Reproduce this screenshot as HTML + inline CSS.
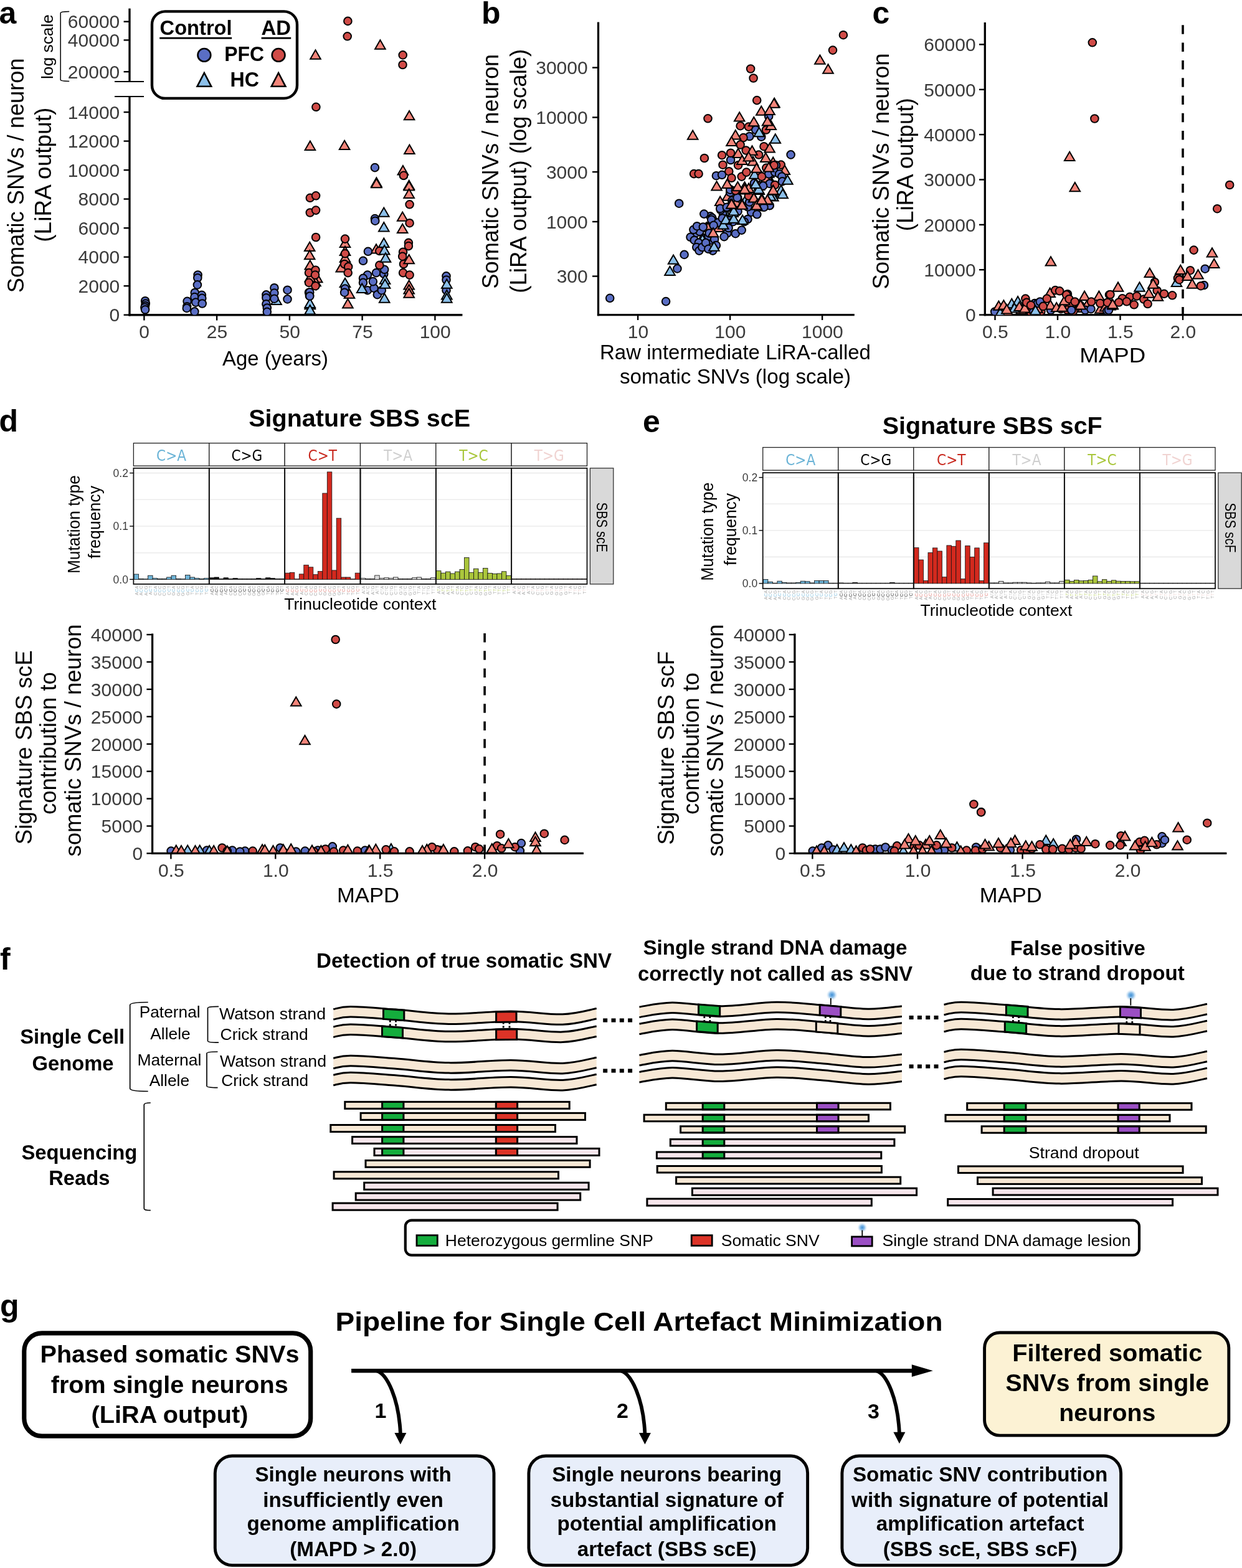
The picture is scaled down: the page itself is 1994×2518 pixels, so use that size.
<!DOCTYPE html>
<html><head><meta charset="utf-8"><title>Figure</title><style>html,body{margin:0;padding:0;background:#fff;}svg{display:block;}</style></head><body>
<svg width="1994" height="2518" viewBox="0 0 1994 2518" font-family="'Liberation Sans', Arial, Helvetica, sans-serif">
<defs><clipPath id="clipa"><rect x="209" y="0" width="540" height="505.7"/></clipPath><clipPath id="clipb"><rect x="961" y="0" width="420" height="505.6"/></clipPath><clipPath id="clipc"><rect x="1582" y="0" width="420" height="505.6"/></clipPath><clipPath id="clipd"><rect x="244" y="1000" width="700" height="370.4"/></clipPath><clipPath id="clipe"><rect x="1277" y="1000" width="700" height="370.4"/></clipPath><radialGradient id="glow"><stop offset="0" stop-color="#3d8fd6"/><stop offset="0.45" stop-color="#7db6e6" stop-opacity="0.9"/><stop offset="1" stop-color="#cfe3f5" stop-opacity="0"/></radialGradient></defs>
<rect x="0" y="0" width="1994" height="2518" fill="#fff"/>
<text x="-1.5" y="37.7" font-size="50" fill="#000" font-weight="bold">a</text>
<line x1="208.0" y1="13.6" x2="208.0" y2="131.0" stroke="#000" stroke-width="3.3"/>
<line x1="208.0" y1="155.0" x2="208.0" y2="507.4" stroke="#000" stroke-width="3.3"/>
<line x1="206.3" y1="505.7" x2="742.4" y2="505.7" stroke="#000" stroke-width="3.4"/>
<line x1="184.0" y1="131.0" x2="231.0" y2="131.0" stroke="#000" stroke-width="2.2"/>
<line x1="184.0" y1="155.0" x2="231.0" y2="155.0" stroke="#000" stroke-width="2.2"/>
<line x1="198.6" y1="34.7" x2="208.0" y2="34.7" stroke="#000" stroke-width="2.4"/>
<text x="192.3" y="45.4" font-size="30" fill="#3b3b3b" text-anchor="end">60000</text>
<line x1="198.6" y1="64.4" x2="208.0" y2="64.4" stroke="#000" stroke-width="2.4"/>
<text x="192.3" y="75.1" font-size="30" fill="#3b3b3b" text-anchor="end">40000</text>
<line x1="198.6" y1="115.2" x2="208.0" y2="115.2" stroke="#000" stroke-width="2.4"/>
<text x="192.3" y="125.9" font-size="30" fill="#3b3b3b" text-anchor="end">20000</text>
<line x1="198.6" y1="505.7" x2="208.0" y2="505.7" stroke="#000" stroke-width="2.4"/>
<text x="192.3" y="516.4" font-size="30" fill="#3b3b3b" text-anchor="end">0</text>
<line x1="198.6" y1="459.2" x2="208.0" y2="459.2" stroke="#000" stroke-width="2.4"/>
<text x="192.3" y="469.9" font-size="30" fill="#3b3b3b" text-anchor="end">2000</text>
<line x1="198.6" y1="412.7" x2="208.0" y2="412.7" stroke="#000" stroke-width="2.4"/>
<text x="192.3" y="423.4" font-size="30" fill="#3b3b3b" text-anchor="end">4000</text>
<line x1="198.6" y1="366.2" x2="208.0" y2="366.2" stroke="#000" stroke-width="2.4"/>
<text x="192.3" y="376.9" font-size="30" fill="#3b3b3b" text-anchor="end">6000</text>
<line x1="198.6" y1="319.6" x2="208.0" y2="319.6" stroke="#000" stroke-width="2.4"/>
<text x="192.3" y="330.3" font-size="30" fill="#3b3b3b" text-anchor="end">8000</text>
<line x1="198.6" y1="273.1" x2="208.0" y2="273.1" stroke="#000" stroke-width="2.4"/>
<text x="192.3" y="283.8" font-size="30" fill="#3b3b3b" text-anchor="end">10000</text>
<line x1="198.6" y1="226.6" x2="208.0" y2="226.6" stroke="#000" stroke-width="2.4"/>
<text x="192.3" y="237.3" font-size="30" fill="#3b3b3b" text-anchor="end">12000</text>
<line x1="198.6" y1="180.1" x2="208.0" y2="180.1" stroke="#000" stroke-width="2.4"/>
<text x="192.3" y="190.8" font-size="30" fill="#3b3b3b" text-anchor="end">14000</text>
<line x1="231.4" y1="505.7" x2="231.4" y2="514.5" stroke="#000" stroke-width="2.4"/>
<text x="231.7" y="543.0" font-size="30" fill="#3b3b3b" text-anchor="middle">0</text>
<line x1="348.1" y1="505.7" x2="348.1" y2="514.5" stroke="#000" stroke-width="2.4"/>
<text x="348.4" y="543.0" font-size="30" fill="#3b3b3b" text-anchor="middle">25</text>
<line x1="464.9" y1="505.7" x2="464.9" y2="514.5" stroke="#000" stroke-width="2.4"/>
<text x="465.2" y="543.0" font-size="30" fill="#3b3b3b" text-anchor="middle">50</text>
<line x1="581.6" y1="505.7" x2="581.6" y2="514.5" stroke="#000" stroke-width="2.4"/>
<text x="581.9" y="543.0" font-size="30" fill="#3b3b3b" text-anchor="middle">75</text>
<line x1="698.4" y1="505.7" x2="698.4" y2="514.5" stroke="#000" stroke-width="2.4"/>
<text x="698.7" y="543.0" font-size="30" fill="#3b3b3b" text-anchor="middle">100</text>
<text x="442.0" y="586.7" font-size="33" fill="#000" text-anchor="middle" textLength="170.0" lengthAdjust="spacingAndGlyphs">Age (years)</text>
<text x="38.4" y="281.8" font-size="36.5" fill="#000" text-anchor="middle" textLength="377.0" lengthAdjust="spacingAndGlyphs" transform="rotate(-90 38.4 281.8)">Somatic SNVs / neuron</text>
<text x="82.0" y="280.7" font-size="36.5" fill="#000" text-anchor="middle" textLength="216.0" lengthAdjust="spacingAndGlyphs" transform="rotate(-90 82.0 280.7)">(LiRA output)</text>
<path d="M111.2 18.6 Q97.2 18.6 97.2 21 L97.2 128 Q97.2 130.4 111.2 130.4" fill="none" stroke="#000" stroke-width="1.5"/>
<text x="85.3" y="75.0" font-size="26" fill="#000" text-anchor="middle" textLength="104.0" lengthAdjust="spacingAndGlyphs" transform="rotate(-90 85.3 75.0)">log scale</text>
<g stroke="#000" stroke-width="2.0" clip-path="url(#clipa)">
<circle cx="558.4" cy="33.9" r="6.30" fill="#d04b47"/>
<circle cx="557.7" cy="58.3" r="6.30" fill="#d04b47"/>
<circle cx="646.7" cy="88.4" r="6.30" fill="#d04b47"/>
<circle cx="646.5" cy="104.0" r="6.30" fill="#d04b47"/>
<circle cx="507.4" cy="171.8" r="6.30" fill="#d04b47"/>
<circle cx="648.0" cy="281.9" r="6.30" fill="#d04b47"/>
<path d="M610.4 64.3L618.7 78.7L602.1 78.7Z" fill="#f3857a" stroke-linejoin="miter"/>
<path d="M506.5 80.3L514.8 94.7L498.2 94.7Z" fill="#f3857a" stroke-linejoin="miter"/>
<path d="M657.1 178.0L665.4 192.3L648.8 192.3Z" fill="#f3857a" stroke-linejoin="miter"/>
<path d="M497.9 226.6L506.2 241.0L489.6 241.0Z" fill="#f3857a" stroke-linejoin="miter"/>
<path d="M553.1 225.7L561.4 240.1L544.8 240.1Z" fill="#f3857a" stroke-linejoin="miter"/>
<path d="M657.4 232.6L665.7 247.0L649.1 247.0Z" fill="#f3857a" stroke-linejoin="miter"/>
<path d="M646.9 266.1L655.2 280.5L638.6 280.5Z" fill="#f3857a" stroke-linejoin="miter"/>
<path d="M604.4 285.3L612.7 299.7L596.1 299.7Z" fill="#f3857a" stroke-linejoin="miter"/>
<path d="M656.7 289.7L665.0 304.0L648.4 304.0Z" fill="#f3857a" stroke-linejoin="miter"/>
<circle cx="601.9" cy="269.1" r="6.30" fill="#5a6ec4"/>
<path d="M497.2 388.7L505.5 403.1L488.9 403.1Z" fill="#f3857a" stroke-linejoin="miter"/>
<path d="M497.2 401.9L505.5 416.3L488.9 416.3Z" fill="#f3857a" stroke-linejoin="miter"/>
<path d="M497.8 418.3L506.1 432.6L489.5 432.6Z" fill="#f3857a" stroke-linejoin="miter"/>
<path d="M509.2 438.8L517.5 453.2L500.9 453.2Z" fill="#f3857a" stroke-linejoin="miter"/>
<path d="M506.5 445.0L514.8 459.3L498.2 459.3Z" fill="#f3857a" stroke-linejoin="miter"/>
<path d="M497.8 437.9L506.1 452.3L489.5 452.3Z" fill="#f3857a" stroke-linejoin="miter"/>
<circle cx="497.8" cy="317.8" r="6.30" fill="#d04b47"/>
<circle cx="507.1" cy="314.3" r="6.30" fill="#d04b47"/>
<circle cx="497.8" cy="341.5" r="6.30" fill="#d04b47"/>
<circle cx="507.1" cy="337.6" r="6.30" fill="#d04b47"/>
<circle cx="507.1" cy="381.0" r="6.30" fill="#d04b47"/>
<circle cx="496.0" cy="438.1" r="6.30" fill="#d04b47"/>
<circle cx="506.5" cy="433.7" r="6.30" fill="#d04b47"/>
<circle cx="506.0" cy="441.6" r="6.30" fill="#d04b47"/>
<circle cx="496.0" cy="453.9" r="6.30" fill="#d04b47"/>
<circle cx="506.5" cy="459.2" r="6.30" fill="#d04b47"/>
<circle cx="496.0" cy="469.7" r="6.30" fill="#5a6ec4"/>
<circle cx="496.9" cy="475.0" r="6.30" fill="#5a6ec4"/>
<path d="M497.8 481.8L506.1 496.2L489.5 496.2Z" fill="#8cc0ea" stroke-linejoin="miter"/>
<path d="M497.8 490.6L506.1 505.0L489.5 505.0Z" fill="#8cc0ea" stroke-linejoin="miter"/>
<path d="M554.0 382.6L562.3 397.0L545.7 397.0Z" fill="#f3857a" stroke-linejoin="miter"/>
<path d="M554.0 395.8L562.3 410.1L545.7 410.1Z" fill="#f3857a" stroke-linejoin="miter"/>
<path d="M554.0 406.3L562.3 420.7L545.7 420.7Z" fill="#f3857a" stroke-linejoin="miter"/>
<path d="M547.8 422.1L556.1 436.5L539.5 436.5Z" fill="#f3857a" stroke-linejoin="miter"/>
<path d="M561.0 464.3L569.3 478.7L552.7 478.7Z" fill="#f3857a" stroke-linejoin="miter"/>
<path d="M558.4 480.1L566.7 494.5L550.1 494.5Z" fill="#f3857a" stroke-linejoin="miter"/>
<circle cx="554.0" cy="383.6" r="6.30" fill="#d04b47"/>
<circle cx="554.0" cy="407.3" r="6.30" fill="#d04b47"/>
<circle cx="553.1" cy="424.0" r="6.30" fill="#d04b47"/>
<circle cx="559.2" cy="428.4" r="6.30" fill="#d04b47"/>
<circle cx="558.7" cy="438.1" r="6.30" fill="#d04b47"/>
<path d="M554.0 446.7L562.3 461.1L545.7 461.1Z" fill="#8cc0ea" stroke-linejoin="miter"/>
<circle cx="554.0" cy="463.6" r="6.30" fill="#5a6ec4"/>
<circle cx="553.1" cy="469.7" r="6.30" fill="#5a6ec4"/>
<path d="M604.4 286.9L612.7 301.2L596.1 301.2Z" fill="#f3857a" stroke-linejoin="miter"/>
<path d="M604.0 392.3L612.3 406.6L595.7 406.6Z" fill="#f3857a" stroke-linejoin="miter"/>
<circle cx="601.9" cy="351.1" r="6.30" fill="#5a6ec4"/>
<circle cx="602.3" cy="354.7" r="6.30" fill="#5a6ec4"/>
<circle cx="590.9" cy="403.8" r="6.30" fill="#5a6ec4"/>
<circle cx="583.0" cy="418.8" r="6.30" fill="#5a6ec4"/>
<circle cx="590.0" cy="441.6" r="6.30" fill="#5a6ec4"/>
<circle cx="583.0" cy="446.9" r="6.30" fill="#5a6ec4"/>
<circle cx="583.0" cy="453.9" r="6.30" fill="#5a6ec4"/>
<circle cx="590.0" cy="466.2" r="6.30" fill="#5a6ec4"/>
<circle cx="600.5" cy="462.7" r="6.30" fill="#5a6ec4"/>
<circle cx="605.8" cy="473.2" r="6.30" fill="#5a6ec4"/>
<circle cx="604.0" cy="438.1" r="6.30" fill="#5a6ec4"/>
<circle cx="616.3" cy="439.8" r="6.30" fill="#5a6ec4"/>
<circle cx="617.2" cy="432.8" r="6.30" fill="#5a6ec4"/>
<circle cx="612.8" cy="466.2" r="6.30" fill="#5a6ec4"/>
<circle cx="598.8" cy="452.1" r="6.30" fill="#5a6ec4"/>
<circle cx="609.3" cy="403.0" r="6.30" fill="#d04b47"/>
<circle cx="609.3" cy="425.8" r="6.30" fill="#d04b47"/>
<path d="M616.3 333.4L624.6 347.8L608.0 347.8Z" fill="#8cc0ea" stroke-linejoin="miter"/>
<path d="M616.3 357.1L624.6 371.5L608.0 371.5Z" fill="#8cc0ea" stroke-linejoin="miter"/>
<path d="M616.3 382.6L624.6 397.0L608.0 397.0Z" fill="#8cc0ea" stroke-linejoin="miter"/>
<path d="M617.2 394.0L625.5 408.4L608.9 408.4Z" fill="#8cc0ea" stroke-linejoin="miter"/>
<path d="M619.0 406.3L627.3 420.7L610.7 420.7Z" fill="#8cc0ea" stroke-linejoin="miter"/>
<path d="M581.2 455.5L589.5 469.9L572.9 469.9Z" fill="#8cc0ea" stroke-linejoin="miter"/>
<path d="M618.1 441.4L626.4 455.8L609.8 455.8Z" fill="#8cc0ea" stroke-linejoin="miter"/>
<path d="M618.1 448.5L626.4 462.8L609.8 462.8Z" fill="#8cc0ea" stroke-linejoin="miter"/>
<path d="M617.2 471.3L625.5 485.7L608.9 485.7Z" fill="#8cc0ea" stroke-linejoin="miter"/>
<path d="M656.7 291.3L665.0 305.6L648.4 305.6Z" fill="#f3857a" stroke-linejoin="miter"/>
<path d="M656.7 303.6L665.0 317.9L648.4 317.9Z" fill="#f3857a" stroke-linejoin="miter"/>
<path d="M646.2 340.4L654.5 354.8L637.9 354.8Z" fill="#f3857a" stroke-linejoin="miter"/>
<path d="M646.2 359.8L654.5 374.1L637.9 374.1Z" fill="#f3857a" stroke-linejoin="miter"/>
<path d="M656.7 450.2L665.0 464.6L648.4 464.6Z" fill="#f3857a" stroke-linejoin="miter"/>
<path d="M656.7 457.2L665.0 471.6L648.4 471.6Z" fill="#f3857a" stroke-linejoin="miter"/>
<path d="M656.7 463.4L665.0 477.8L648.4 477.8Z" fill="#f3857a" stroke-linejoin="miter"/>
<circle cx="648.0" cy="281.8" r="6.30" fill="#d04b47"/>
<circle cx="657.6" cy="328.3" r="6.30" fill="#d04b47"/>
<circle cx="657.6" cy="358.2" r="6.30" fill="#d04b47"/>
<circle cx="655.9" cy="389.8" r="6.30" fill="#d04b47"/>
<circle cx="655.9" cy="395.1" r="6.30" fill="#d04b47"/>
<circle cx="647.1" cy="404.7" r="6.30" fill="#d04b47"/>
<circle cx="646.2" cy="411.7" r="6.30" fill="#d04b47"/>
<circle cx="648.0" cy="424.0" r="6.30" fill="#d04b47"/>
<circle cx="647.1" cy="438.1" r="6.30" fill="#d04b47"/>
<circle cx="657.6" cy="441.6" r="6.30" fill="#d04b47"/>
<path d="M656.7 408.9L665.0 423.3L648.4 423.3Z" fill="#f3857a" stroke-linejoin="miter"/>
<circle cx="716.5" cy="443.4" r="6.30" fill="#5a6ec4"/>
<circle cx="716.5" cy="449.5" r="6.30" fill="#5a6ec4"/>
<circle cx="716.5" cy="466.2" r="6.30" fill="#5a6ec4"/>
<path d="M717.3 448.5L725.6 462.8L709.0 462.8Z" fill="#8cc0ea" stroke-linejoin="miter"/>
<path d="M717.3 466.0L725.6 480.4L709.0 480.4Z" fill="#8cc0ea" stroke-linejoin="miter"/>
<path d="M717.3 471.3L725.6 485.7L709.0 485.7Z" fill="#8cc0ea" stroke-linejoin="miter"/>
<path d="M443.6 474.7L451.9 489.0L435.3 489.0Z" fill="#8cc0ea" stroke-linejoin="miter"/>
<path d="M497.7 479.6L506.0 493.9L489.4 493.9Z" fill="#8cc0ea" stroke-linejoin="miter"/>
<path d="M497.7 490.1L506.0 504.5L489.4 504.5Z" fill="#8cc0ea" stroke-linejoin="miter"/>
<circle cx="427.4" cy="473.4" r="6.30" fill="#5a6ec4"/>
<circle cx="427.4" cy="478.3" r="6.30" fill="#5a6ec4"/>
<circle cx="427.4" cy="488.2" r="6.30" fill="#5a6ec4"/>
<circle cx="428.8" cy="494.5" r="6.30" fill="#5a6ec4"/>
<circle cx="428.8" cy="500.8" r="6.30" fill="#5a6ec4"/>
<circle cx="440.4" cy="462.2" r="6.30" fill="#5a6ec4"/>
<circle cx="440.4" cy="470.6" r="6.30" fill="#5a6ec4"/>
<circle cx="440.4" cy="479.7" r="6.30" fill="#5a6ec4"/>
<circle cx="461.5" cy="465.7" r="6.30" fill="#5a6ec4"/>
<circle cx="461.5" cy="480.4" r="6.30" fill="#5a6ec4"/>
<circle cx="497.3" cy="469.2" r="6.30" fill="#5a6ec4"/>
<circle cx="497.3" cy="475.5" r="6.30" fill="#5a6ec4"/>
<circle cx="233.1" cy="483.2" r="6.30" fill="#5a6ec4"/>
<circle cx="233.8" cy="487.5" r="6.30" fill="#5a6ec4"/>
<circle cx="233.1" cy="491.0" r="6.30" fill="#5a6ec4"/>
<circle cx="232.4" cy="493.8" r="6.30" fill="#5a6ec4"/>
<circle cx="233.1" cy="497.3" r="6.30" fill="#5a6ec4"/>
<circle cx="317.6" cy="441.5" r="6.30" fill="#5a6ec4"/>
<circle cx="317.3" cy="446.3" r="6.30" fill="#5a6ec4"/>
<circle cx="316.9" cy="457.4" r="6.30" fill="#5a6ec4"/>
<circle cx="312.8" cy="470.0" r="6.30" fill="#5a6ec4"/>
<circle cx="312.4" cy="477.1" r="6.30" fill="#5a6ec4"/>
<circle cx="314.3" cy="485.6" r="6.30" fill="#5a6ec4"/>
<circle cx="323.9" cy="473.8" r="6.30" fill="#5a6ec4"/>
<circle cx="324.3" cy="478.9" r="6.30" fill="#5a6ec4"/>
<circle cx="324.7" cy="487.5" r="6.30" fill="#5a6ec4"/>
<circle cx="300.6" cy="483.8" r="6.30" fill="#5a6ec4"/>
<circle cx="300.2" cy="492.3" r="6.30" fill="#5a6ec4"/>
<circle cx="299.8" cy="494.9" r="6.30" fill="#5a6ec4"/>
<circle cx="312.4" cy="500.4" r="6.30" fill="#5a6ec4"/>
</g>
<rect x="244" y="18.4" width="233" height="139.5" rx="21" fill="#fff" stroke="#000" stroke-width="4.4"/>
<text x="256.6" y="55.9" font-size="33" fill="#000" font-weight="bold" textLength="116.0" lengthAdjust="spacingAndGlyphs">Control</text>
<rect x="256.2" y="59.8" width="116.0" height="2.8" fill="#000" stroke="none" stroke-width="0"/>
<text x="419.6" y="55.9" font-size="33" fill="#000" font-weight="bold" textLength="47.5" lengthAdjust="spacingAndGlyphs">AD</text>
<rect x="419.6" y="59.8" width="47.6" height="2.8" fill="#000" stroke="none" stroke-width="0"/>
<text x="360.2" y="97.5" font-size="33" fill="#000" font-weight="bold" textLength="64.0" lengthAdjust="spacingAndGlyphs">PFC</text>
<text x="369.5" y="139.3" font-size="33" fill="#000" font-weight="bold" textLength="46.5" lengthAdjust="spacingAndGlyphs">HC</text>
<g stroke="#000" stroke-width="2.6">
<circle cx="327.9" cy="88.4" r="10.4" fill="#5a6ec4"/>
<circle cx="447.1" cy="88.4" r="10.4" fill="#d04b47"/>
<path d="M327.9 117 L339.2 138.8 L316.6 138.8Z" fill="#8cc0ea"/>
<path d="M447.1 117 L458.4 138.8 L435.8 138.8Z" fill="#f3857a"/>
</g>
<text x="773.0" y="38.0" font-size="50" fill="#000" font-weight="bold">b</text>
<line x1="960.5" y1="35.6" x2="960.5" y2="507.3" stroke="#000" stroke-width="3.3"/>
<line x1="958.9" y1="505.6" x2="1371.8" y2="505.6" stroke="#000" stroke-width="3.4"/>
<line x1="951.0" y1="443.6" x2="960.5" y2="443.6" stroke="#000" stroke-width="2.4"/>
<text x="943.7" y="454.3" font-size="30" fill="#3b3b3b" text-anchor="end">300</text>
<line x1="951.0" y1="356.0" x2="960.5" y2="356.0" stroke="#000" stroke-width="2.4"/>
<text x="943.7" y="366.7" font-size="30" fill="#3b3b3b" text-anchor="end">1000</text>
<line x1="951.0" y1="276.1" x2="960.5" y2="276.1" stroke="#000" stroke-width="2.4"/>
<text x="943.7" y="286.8" font-size="30" fill="#3b3b3b" text-anchor="end">3000</text>
<line x1="951.0" y1="188.5" x2="960.5" y2="188.5" stroke="#000" stroke-width="2.4"/>
<text x="943.7" y="199.2" font-size="30" fill="#3b3b3b" text-anchor="end">10000</text>
<line x1="951.0" y1="108.6" x2="960.5" y2="108.6" stroke="#000" stroke-width="2.4"/>
<text x="943.7" y="119.3" font-size="30" fill="#3b3b3b" text-anchor="end">30000</text>
<line x1="1024.1" y1="505.6" x2="1024.1" y2="514.0" stroke="#000" stroke-width="2.4"/>
<text x="1024.4" y="543.2" font-size="30" fill="#3b3b3b" text-anchor="middle">10</text>
<line x1="1172.1" y1="505.6" x2="1172.1" y2="514.0" stroke="#000" stroke-width="2.4"/>
<text x="1172.4" y="543.2" font-size="30" fill="#3b3b3b" text-anchor="middle">100</text>
<line x1="1320.1" y1="505.6" x2="1320.1" y2="514.0" stroke="#000" stroke-width="2.4"/>
<text x="1320.4" y="543.2" font-size="30" fill="#3b3b3b" text-anchor="middle">1000</text>
<text x="1180.5" y="577.0" font-size="33" fill="#000" text-anchor="middle" textLength="435.0" lengthAdjust="spacingAndGlyphs">Raw intermediate LiRA-called</text>
<text x="1180.5" y="616.0" font-size="33" fill="#000" text-anchor="middle" textLength="371.0" lengthAdjust="spacingAndGlyphs">somatic SNVs (log scale)</text>
<text x="799.9" y="275.2" font-size="36.5" fill="#000" text-anchor="middle" textLength="377.0" lengthAdjust="spacingAndGlyphs" transform="rotate(-90 799.9 275.2)">Somatic SNVs / neuron</text>
<text x="844.7" y="274.7" font-size="36.5" fill="#000" text-anchor="middle" textLength="392.0" lengthAdjust="spacingAndGlyphs" transform="rotate(-90 844.7 274.7)">(LiRA output) (log scale)</text>
<g stroke="#000" stroke-width="2.0" clip-path="url(#clipb)">
<path d="M1168.2 307.5L1176.5 321.8L1159.9 321.8Z" fill="#f3857a" stroke-linejoin="miter"/>
<circle cx="1175.2" cy="322.1" r="6.30" fill="#5a6ec4"/>
<circle cx="1148.4" cy="361.0" r="6.30" fill="#5a6ec4"/>
<circle cx="1217.6" cy="279.1" r="6.30" fill="#d04b47"/>
<circle cx="1183.5" cy="332.0" r="6.30" fill="#5a6ec4"/>
<path d="M1203.6 307.7L1211.9 322.1L1195.3 322.1Z" fill="#f3857a" stroke-linejoin="miter"/>
<path d="M1241.2 252.6L1249.5 267.0L1232.9 267.0Z" fill="#f3857a" stroke-linejoin="miter"/>
<path d="M1195.5 292.2L1203.8 306.6L1187.2 306.6Z" fill="#f3857a" stroke-linejoin="miter"/>
<circle cx="1141.2" cy="385.8" r="6.30" fill="#5a6ec4"/>
<path d="M1128.4 373.8L1136.7 388.2L1120.1 388.2Z" fill="#f3857a" stroke-linejoin="miter"/>
<circle cx="1160.7" cy="339.0" r="6.30" fill="#5a6ec4"/>
<path d="M1202.0 294.6L1210.3 309.0L1193.7 309.0Z" fill="#f3857a" stroke-linejoin="miter"/>
<path d="M1129.5 381.5L1137.8 395.9L1121.2 395.9Z" fill="#f3857a" stroke-linejoin="miter"/>
<circle cx="1253.8" cy="264.6" r="6.30" fill="#d04b47"/>
<circle cx="1211.0" cy="294.0" r="6.30" fill="#5a6ec4"/>
<circle cx="1129.5" cy="382.2" r="6.30" fill="#5a6ec4"/>
<path d="M1211.4 272.3L1219.7 286.7L1203.1 286.7Z" fill="#8cc0ea" stroke-linejoin="miter"/>
<circle cx="1136.8" cy="380.4" r="6.30" fill="#5a6ec4"/>
<circle cx="1234.2" cy="282.6" r="6.30" fill="#d04b47"/>
<path d="M1182.2 317.5L1190.5 331.9L1173.9 331.9Z" fill="#f3857a" stroke-linejoin="miter"/>
<path d="M1172.4 320.1L1180.7 334.5L1164.1 334.5Z" fill="#8cc0ea" stroke-linejoin="miter"/>
<path d="M1163.6 332.2L1171.9 346.5L1155.3 346.5Z" fill="#8cc0ea" stroke-linejoin="miter"/>
<circle cx="1173.6" cy="350.9" r="6.30" fill="#5a6ec4"/>
<circle cx="1137.1" cy="363.4" r="6.30" fill="#5a6ec4"/>
<circle cx="1117.2" cy="374.2" r="6.30" fill="#5a6ec4"/>
<circle cx="1147.5" cy="360.5" r="6.30" fill="#5a6ec4"/>
<path d="M1146.1 351.2L1154.4 365.6L1137.8 365.6Z" fill="#f3857a" stroke-linejoin="miter"/>
<path d="M1134.0 357.6L1142.3 371.9L1125.7 371.9Z" fill="#f3857a" stroke-linejoin="miter"/>
<path d="M1259.8 265.5L1268.1 279.9L1251.5 279.9Z" fill="#f3857a" stroke-linejoin="miter"/>
<circle cx="1161.0" cy="344.9" r="6.30" fill="#5a6ec4"/>
<circle cx="1140.4" cy="347.4" r="6.30" fill="#5a6ec4"/>
<circle cx="1141.5" cy="376.7" r="6.30" fill="#5a6ec4"/>
<path d="M1148.8 348.3L1157.1 362.7L1140.5 362.7Z" fill="#8cc0ea" stroke-linejoin="miter"/>
<path d="M1237.8 283.4L1246.1 297.8L1229.5 297.8Z" fill="#8cc0ea" stroke-linejoin="miter"/>
<circle cx="1137.6" cy="379.5" r="6.30" fill="#5a6ec4"/>
<path d="M1127.9 377.0L1136.2 391.4L1119.6 391.4Z" fill="#8cc0ea" stroke-linejoin="miter"/>
<path d="M1156.2 315.5L1164.5 329.9L1147.9 329.9Z" fill="#f3857a" stroke-linejoin="miter"/>
<path d="M1232.6 277.5L1240.9 291.9L1224.3 291.9Z" fill="#f3857a" stroke-linejoin="miter"/>
<path d="M1234.2 270.5L1242.5 284.8L1225.9 284.8Z" fill="#f3857a" stroke-linejoin="miter"/>
<path d="M1229.6 278.1L1237.9 292.5L1221.3 292.5Z" fill="#f3857a" stroke-linejoin="miter"/>
<path d="M1219.1 290.7L1227.4 305.1L1210.8 305.1Z" fill="#f3857a" stroke-linejoin="miter"/>
<path d="M1153.7 357.6L1162.0 372.0L1145.4 372.0Z" fill="#f3857a" stroke-linejoin="miter"/>
<circle cx="1230.3" cy="269.6" r="6.30" fill="#d04b47"/>
<circle cx="1132.5" cy="365.0" r="6.30" fill="#5a6ec4"/>
<circle cx="1245.9" cy="265.2" r="6.30" fill="#5a6ec4"/>
<circle cx="1184.5" cy="339.6" r="6.30" fill="#5a6ec4"/>
<circle cx="1172.2" cy="308.9" r="6.30" fill="#5a6ec4"/>
<path d="M1136.6 357.7L1144.9 372.1L1128.3 372.1Z" fill="#f3857a" stroke-linejoin="miter"/>
<path d="M1198.2 311.3L1206.5 325.7L1189.9 325.7Z" fill="#8cc0ea" stroke-linejoin="miter"/>
<circle cx="1143.1" cy="349.7" r="6.30" fill="#5a6ec4"/>
<circle cx="1353.9" cy="56.2" r="6.30" fill="#d04b47"/>
<circle cx="1337.0" cy="80.6" r="6.30" fill="#d04b47"/>
<circle cx="1205.1" cy="110.5" r="6.30" fill="#d04b47"/>
<circle cx="1209.6" cy="125.5" r="6.30" fill="#d04b47"/>
<circle cx="1215.2" cy="161.1" r="6.30" fill="#d04b47"/>
<circle cx="1136.5" cy="190.3" r="6.30" fill="#d04b47"/>
<circle cx="1130.9" cy="254.0" r="6.30" fill="#d04b47"/>
<circle cx="1114.1" cy="279.1" r="6.30" fill="#d04b47"/>
<circle cx="1121.6" cy="279.1" r="6.30" fill="#d04b47"/>
<path d="M1316.4 88.4L1324.7 102.7L1308.1 102.7Z" fill="#f3857a" stroke-linejoin="miter"/>
<path d="M1329.5 103.3L1337.8 117.7L1321.2 117.7Z" fill="#f3857a" stroke-linejoin="miter"/>
<path d="M1243.3 157.7L1251.6 172.0L1235.0 172.0Z" fill="#f3857a" stroke-linejoin="miter"/>
<path d="M1112.2 209.4L1120.5 223.7L1103.9 223.7Z" fill="#f3857a" stroke-linejoin="miter"/>
<circle cx="979.2" cy="478.8" r="6.30" fill="#5a6ec4"/>
<circle cx="1069.1" cy="484.1" r="6.30" fill="#5a6ec4"/>
<circle cx="1269.6" cy="248.4" r="6.30" fill="#5a6ec4"/>
<circle cx="1090.2" cy="326.7" r="6.30" fill="#5a6ec4"/>
<circle cx="1130.3" cy="343.6" r="6.30" fill="#5a6ec4"/>
<circle cx="1142.2" cy="352.7" r="6.30" fill="#5a6ec4"/>
<circle cx="1157.0" cy="337.2" r="6.30" fill="#5a6ec4"/>
<circle cx="1152.7" cy="357.6" r="6.30" fill="#5a6ec4"/>
<circle cx="1145.7" cy="361.8" r="6.30" fill="#5a6ec4"/>
<circle cx="1123.2" cy="371.7" r="6.30" fill="#5a6ec4"/>
<circle cx="1113.4" cy="368.8" r="6.30" fill="#5a6ec4"/>
<circle cx="1119.0" cy="363.2" r="6.30" fill="#5a6ec4"/>
<circle cx="1128.8" cy="364.6" r="6.30" fill="#5a6ec4"/>
<circle cx="1108.5" cy="380.8" r="6.30" fill="#5a6ec4"/>
<circle cx="1114.8" cy="385.7" r="6.30" fill="#5a6ec4"/>
<circle cx="1121.8" cy="389.9" r="6.30" fill="#5a6ec4"/>
<circle cx="1118.3" cy="397.0" r="6.30" fill="#5a6ec4"/>
<circle cx="1122.5" cy="402.6" r="6.30" fill="#5a6ec4"/>
<circle cx="1127.4" cy="397.0" r="6.30" fill="#5a6ec4"/>
<circle cx="1133.1" cy="389.9" r="6.30" fill="#5a6ec4"/>
<circle cx="1138.7" cy="374.5" r="6.30" fill="#5a6ec4"/>
<circle cx="1147.1" cy="384.3" r="6.30" fill="#5a6ec4"/>
<circle cx="1144.3" cy="402.6" r="6.30" fill="#5a6ec4"/>
<circle cx="1137.3" cy="399.8" r="6.30" fill="#5a6ec4"/>
<circle cx="1149.9" cy="394.1" r="6.30" fill="#5a6ec4"/>
<circle cx="1167.5" cy="374.5" r="6.30" fill="#5a6ec4"/>
<circle cx="1162.6" cy="380.1" r="6.30" fill="#5a6ec4"/>
<circle cx="1180.8" cy="375.2" r="6.30" fill="#5a6ec4"/>
<circle cx="1190.7" cy="369.6" r="6.30" fill="#5a6ec4"/>
<circle cx="1200.5" cy="352.0" r="6.30" fill="#5a6ec4"/>
<circle cx="1206.1" cy="340.7" r="6.30" fill="#5a6ec4"/>
<circle cx="1215.3" cy="344.3" r="6.30" fill="#5a6ec4"/>
<circle cx="1200.5" cy="332.3" r="6.30" fill="#5a6ec4"/>
<circle cx="1184.4" cy="317.6" r="6.30" fill="#5a6ec4"/>
<circle cx="1172.4" cy="304.2" r="6.30" fill="#5a6ec4"/>
<circle cx="1235.6" cy="330.2" r="6.30" fill="#5a6ec4"/>
<circle cx="1223.0" cy="332.3" r="6.30" fill="#5a6ec4"/>
<circle cx="1098.6" cy="408.9" r="6.30" fill="#5a6ec4"/>
<circle cx="1087.4" cy="431.4" r="6.30" fill="#5a6ec4"/>
<circle cx="1168.2" cy="333.7" r="6.30" fill="#5a6ec4"/>
<circle cx="1159.8" cy="350.6" r="6.30" fill="#5a6ec4"/>
<circle cx="1176.6" cy="356.2" r="6.30" fill="#5a6ec4"/>
<circle cx="1194.9" cy="356.2" r="6.30" fill="#5a6ec4"/>
<circle cx="1169.6" cy="366.0" r="6.30" fill="#5a6ec4"/>
<circle cx="1234.2" cy="186.7" r="6.30" fill="#5a6ec4"/>
<circle cx="1213.2" cy="208.5" r="6.30" fill="#5a6ec4"/>
<circle cx="1203.3" cy="219.0" r="6.30" fill="#5a6ec4"/>
<circle cx="1222.3" cy="219.7" r="6.30" fill="#5a6ec4"/>
<circle cx="1173.1" cy="257.0" r="6.30" fill="#5a6ec4"/>
<circle cx="1149.9" cy="282.2" r="6.30" fill="#5a6ec4"/>
<circle cx="1159.1" cy="280.8" r="6.30" fill="#5a6ec4"/>
<circle cx="1234.2" cy="279.4" r="6.30" fill="#5a6ec4"/>
<circle cx="1244.1" cy="276.6" r="6.30" fill="#5a6ec4"/>
<circle cx="1251.1" cy="279.4" r="6.30" fill="#5a6ec4"/>
<circle cx="1255.3" cy="283.6" r="6.30" fill="#5a6ec4"/>
<circle cx="1256.0" cy="291.4" r="6.30" fill="#5a6ec4"/>
<circle cx="1235.6" cy="294.9" r="6.30" fill="#5a6ec4"/>
<circle cx="1225.1" cy="298.4" r="6.30" fill="#5a6ec4"/>
<circle cx="1172.4" cy="304.7" r="6.30" fill="#5a6ec4"/>
<circle cx="1183.6" cy="317.4" r="6.30" fill="#5a6ec4"/>
<circle cx="1203.3" cy="324.4" r="6.30" fill="#5a6ec4"/>
<circle cx="1235.6" cy="330.0" r="6.30" fill="#5a6ec4"/>
<circle cx="1226.5" cy="332.8" r="6.30" fill="#5a6ec4"/>
<circle cx="1156.2" cy="334.9" r="6.30" fill="#5a6ec4"/>
<circle cx="1166.8" cy="332.8" r="6.30" fill="#5a6ec4"/>
<path d="M1081.1 409.4L1089.4 423.8L1072.8 423.8Z" fill="#8cc0ea" stroke-linejoin="miter"/>
<path d="M1075.5 427.7L1083.8 442.1L1067.2 442.1Z" fill="#8cc0ea" stroke-linejoin="miter"/>
<path d="M1146.4 388.4L1154.7 402.7L1138.1 402.7Z" fill="#8cc0ea" stroke-linejoin="miter"/>
<path d="M1161.2 353.2L1169.5 367.6L1152.9 367.6Z" fill="#8cc0ea" stroke-linejoin="miter"/>
<path d="M1176.6 333.6L1184.9 347.9L1168.3 347.9Z" fill="#8cc0ea" stroke-linejoin="miter"/>
<path d="M1192.1 345.5L1200.4 359.9L1183.8 359.9Z" fill="#8cc0ea" stroke-linejoin="miter"/>
<path d="M1165.4 344.8L1173.7 359.2L1157.1 359.2Z" fill="#8cc0ea" stroke-linejoin="miter"/>
<path d="M1178.0 343.4L1186.3 357.8L1169.7 357.8Z" fill="#8cc0ea" stroke-linejoin="miter"/>
<path d="M1218.8 297.7L1227.1 312.1L1210.5 312.1Z" fill="#8cc0ea" stroke-linejoin="miter"/>
<path d="M1254.6 301.2L1262.9 315.6L1246.3 315.6Z" fill="#8cc0ea" stroke-linejoin="miter"/>
<path d="M1241.3 308.3L1249.6 322.6L1233.0 322.6Z" fill="#8cc0ea" stroke-linejoin="miter"/>
<path d="M1218.8 204.8L1227.1 219.2L1210.5 219.2Z" fill="#8cc0ea" stroke-linejoin="miter"/>
<path d="M1244.8 215.3L1253.1 229.7L1236.5 229.7Z" fill="#8cc0ea" stroke-linejoin="miter"/>
<path d="M1264.4 281.4L1272.7 295.8L1256.1 295.8Z" fill="#8cc0ea" stroke-linejoin="miter"/>
<path d="M1218.1 296.1L1226.4 310.5L1209.8 310.5Z" fill="#8cc0ea" stroke-linejoin="miter"/>
<path d="M1213.2 287.7L1221.5 302.1L1204.9 302.1Z" fill="#8cc0ea" stroke-linejoin="miter"/>
<path d="M1253.9 297.5L1262.2 311.9L1245.6 311.9Z" fill="#8cc0ea" stroke-linejoin="miter"/>
<path d="M1256.7 303.9L1265.0 318.2L1248.4 318.2Z" fill="#8cc0ea" stroke-linejoin="miter"/>
<path d="M1237.0 307.4L1245.3 321.7L1228.7 321.7Z" fill="#8cc0ea" stroke-linejoin="miter"/>
<path d="M1178.0 331.3L1186.3 345.6L1169.7 345.6Z" fill="#8cc0ea" stroke-linejoin="miter"/>
<circle cx="1188.6" cy="202.2" r="6.30" fill="#d04b47"/>
<circle cx="1201.9" cy="203.6" r="6.30" fill="#d04b47"/>
<circle cx="1230.0" cy="208.5" r="6.30" fill="#d04b47"/>
<circle cx="1193.5" cy="221.1" r="6.30" fill="#d04b47"/>
<circle cx="1188.6" cy="232.4" r="6.30" fill="#d04b47"/>
<circle cx="1197.7" cy="241.5" r="6.30" fill="#d04b47"/>
<circle cx="1226.5" cy="235.2" r="6.30" fill="#d04b47"/>
<circle cx="1159.1" cy="249.2" r="6.30" fill="#d04b47"/>
<circle cx="1173.1" cy="245.7" r="6.30" fill="#d04b47"/>
<circle cx="1218.1" cy="248.5" r="6.30" fill="#d04b47"/>
<circle cx="1160.5" cy="264.7" r="6.30" fill="#d04b47"/>
<circle cx="1185.1" cy="265.4" r="6.30" fill="#d04b47"/>
<circle cx="1242.7" cy="265.4" r="6.30" fill="#d04b47"/>
<circle cx="1170.3" cy="275.2" r="6.30" fill="#d04b47"/>
<circle cx="1174.5" cy="285.8" r="6.30" fill="#d04b47"/>
<circle cx="1190.7" cy="283.6" r="6.30" fill="#d04b47"/>
<circle cx="1198.4" cy="276.6" r="6.30" fill="#d04b47"/>
<circle cx="1223.0" cy="283.6" r="6.30" fill="#d04b47"/>
<circle cx="1244.1" cy="297.0" r="6.30" fill="#d04b47"/>
<circle cx="1180.8" cy="306.1" r="6.30" fill="#d04b47"/>
<circle cx="1201.9" cy="314.6" r="6.30" fill="#d04b47"/>
<path d="M1145.0 365.9L1153.3 380.3L1136.7 380.3Z" fill="#f3857a" stroke-linejoin="miter"/>
<path d="M1175.2 320.2L1183.5 334.6L1166.9 334.6Z" fill="#f3857a" stroke-linejoin="miter"/>
<path d="M1191.4 320.2L1199.7 334.6L1183.1 334.6Z" fill="#f3857a" stroke-linejoin="miter"/>
<path d="M1214.6 321.6L1222.9 336.0L1206.3 336.0Z" fill="#f3857a" stroke-linejoin="miter"/>
<path d="M1210.3 309.7L1218.6 324.0L1202.0 324.0Z" fill="#f3857a" stroke-linejoin="miter"/>
<path d="M1223.0 311.1L1231.3 325.5L1214.7 325.5Z" fill="#f3857a" stroke-linejoin="miter"/>
<path d="M1232.1 313.9L1240.4 328.3L1223.8 328.3Z" fill="#f3857a" stroke-linejoin="miter"/>
<path d="M1195.6 297.0L1203.9 311.4L1187.3 311.4Z" fill="#f3857a" stroke-linejoin="miter"/>
<path d="M1240.6 298.4L1248.9 312.8L1232.3 312.8Z" fill="#f3857a" stroke-linejoin="miter"/>
<path d="M1242.7 158.4L1251.0 172.8L1234.4 172.8Z" fill="#f3857a" stroke-linejoin="miter"/>
<path d="M1222.3 170.4L1230.6 184.8L1214.0 184.8Z" fill="#f3857a" stroke-linejoin="miter"/>
<path d="M1235.6 169.7L1243.9 184.0L1227.3 184.0Z" fill="#f3857a" stroke-linejoin="miter"/>
<path d="M1187.2 180.2L1195.5 194.6L1178.9 194.6Z" fill="#f3857a" stroke-linejoin="miter"/>
<path d="M1210.3 187.9L1218.6 202.3L1202.0 202.3Z" fill="#f3857a" stroke-linejoin="miter"/>
<path d="M1237.7 193.6L1246.0 207.9L1229.4 207.9Z" fill="#f3857a" stroke-linejoin="miter"/>
<path d="M1232.1 187.2L1240.4 201.6L1223.8 201.6Z" fill="#f3857a" stroke-linejoin="miter"/>
<path d="M1180.8 209.0L1189.1 223.4L1172.5 223.4Z" fill="#f3857a" stroke-linejoin="miter"/>
<path d="M1174.5 219.6L1182.8 233.9L1166.2 233.9Z" fill="#f3857a" stroke-linejoin="miter"/>
<path d="M1235.6 230.1L1243.9 244.5L1227.3 244.5Z" fill="#f3857a" stroke-linejoin="miter"/>
<path d="M1185.1 238.5L1193.4 252.9L1176.8 252.9Z" fill="#f3857a" stroke-linejoin="miter"/>
<path d="M1207.5 234.3L1215.8 248.7L1199.2 248.7Z" fill="#f3857a" stroke-linejoin="miter"/>
<path d="M1191.4 249.8L1199.7 264.1L1183.1 264.1Z" fill="#f3857a" stroke-linejoin="miter"/>
<path d="M1208.9 251.2L1217.2 265.5L1200.6 265.5Z" fill="#f3857a" stroke-linejoin="miter"/>
<path d="M1229.3 245.5L1237.6 259.9L1221.0 259.9Z" fill="#f3857a" stroke-linejoin="miter"/>
<path d="M1214.6 262.4L1222.9 276.8L1206.3 276.8Z" fill="#f3857a" stroke-linejoin="miter"/>
<path d="M1234.2 261.0L1242.5 275.4L1225.9 275.4Z" fill="#f3857a" stroke-linejoin="miter"/>
<path d="M1150.6 291.2L1158.9 305.6L1142.3 305.6Z" fill="#f3857a" stroke-linejoin="miter"/>
<path d="M1167.5 287.7L1175.8 302.1L1159.2 302.1Z" fill="#f3857a" stroke-linejoin="miter"/>
<path d="M1184.4 291.9L1192.7 306.3L1176.1 306.3Z" fill="#f3857a" stroke-linejoin="miter"/>
<path d="M1195.6 296.1L1203.9 310.5L1187.3 310.5Z" fill="#f3857a" stroke-linejoin="miter"/>
<path d="M1241.3 297.5L1249.6 311.9L1233.0 311.9Z" fill="#f3857a" stroke-linejoin="miter"/>
<path d="M1210.3 310.2L1218.6 324.6L1202.0 324.6Z" fill="#f3857a" stroke-linejoin="miter"/>
<path d="M1232.1 313.0L1240.4 327.4L1223.8 327.4Z" fill="#f3857a" stroke-linejoin="miter"/>
<path d="M1174.5 320.0L1182.8 334.4L1166.2 334.4Z" fill="#f3857a" stroke-linejoin="miter"/>
<path d="M1191.4 321.4L1199.7 335.8L1183.1 335.8Z" fill="#f3857a" stroke-linejoin="miter"/>
<path d="M1214.6 322.1L1222.9 336.5L1206.3 336.5Z" fill="#f3857a" stroke-linejoin="miter"/>
<path d="M1223.0 313.0L1231.3 327.4L1214.7 327.4Z" fill="#f3857a" stroke-linejoin="miter"/>
<path d="M1201.9 244.1L1210.2 258.5L1193.6 258.5Z" fill="#f3857a" stroke-linejoin="miter"/>
</g>
<text x="1400.5" y="38.3" font-size="50" fill="#000" font-weight="bold">c</text>
<line x1="1581.3" y1="36.0" x2="1581.3" y2="507.3" stroke="#000" stroke-width="3.3"/>
<line x1="1579.6" y1="505.6" x2="1994.0" y2="505.6" stroke="#000" stroke-width="3.4"/>
<line x1="1572.0" y1="505.6" x2="1581.3" y2="505.6" stroke="#000" stroke-width="2.4"/>
<text x="1566.7" y="516.3" font-size="30" fill="#3b3b3b" text-anchor="end">0</text>
<line x1="1572.0" y1="433.2" x2="1581.3" y2="433.2" stroke="#000" stroke-width="2.4"/>
<text x="1566.7" y="443.9" font-size="30" fill="#3b3b3b" text-anchor="end">10000</text>
<line x1="1572.0" y1="360.9" x2="1581.3" y2="360.9" stroke="#000" stroke-width="2.4"/>
<text x="1566.7" y="371.6" font-size="30" fill="#3b3b3b" text-anchor="end">20000</text>
<line x1="1572.0" y1="288.5" x2="1581.3" y2="288.5" stroke="#000" stroke-width="2.4"/>
<text x="1566.7" y="299.2" font-size="30" fill="#3b3b3b" text-anchor="end">30000</text>
<line x1="1572.0" y1="216.1" x2="1581.3" y2="216.1" stroke="#000" stroke-width="2.4"/>
<text x="1566.7" y="226.8" font-size="30" fill="#3b3b3b" text-anchor="end">40000</text>
<line x1="1572.0" y1="143.8" x2="1581.3" y2="143.8" stroke="#000" stroke-width="2.4"/>
<text x="1566.7" y="154.5" font-size="30" fill="#3b3b3b" text-anchor="end">50000</text>
<line x1="1572.0" y1="71.4" x2="1581.3" y2="71.4" stroke="#000" stroke-width="2.4"/>
<text x="1566.7" y="82.1" font-size="30" fill="#3b3b3b" text-anchor="end">60000</text>
<line x1="1597.5" y1="505.6" x2="1597.5" y2="514.0" stroke="#000" stroke-width="2.4"/>
<text x="1597.8" y="543.2" font-size="30" fill="#3b3b3b" text-anchor="middle">0.5</text>
<line x1="1698.0" y1="505.6" x2="1698.0" y2="514.0" stroke="#000" stroke-width="2.4"/>
<text x="1698.3" y="543.2" font-size="30" fill="#3b3b3b" text-anchor="middle">1.0</text>
<line x1="1798.5" y1="505.6" x2="1798.5" y2="514.0" stroke="#000" stroke-width="2.4"/>
<text x="1798.8" y="543.2" font-size="30" fill="#3b3b3b" text-anchor="middle">1.5</text>
<line x1="1899.0" y1="505.6" x2="1899.0" y2="514.0" stroke="#000" stroke-width="2.4"/>
<text x="1899.3" y="543.2" font-size="30" fill="#3b3b3b" text-anchor="middle">2.0</text>
<text x="1786.2" y="582.0" font-size="33" fill="#000" text-anchor="middle" textLength="106.0" lengthAdjust="spacingAndGlyphs">MAPD</text>
<text x="1426.9" y="275.0" font-size="36.5" fill="#000" text-anchor="middle" textLength="379.0" lengthAdjust="spacingAndGlyphs" transform="rotate(-90 1426.9 275.0)">Somatic SNVs / neuron</text>
<text x="1466.5" y="264.2" font-size="36.5" fill="#000" text-anchor="middle" textLength="214.0" lengthAdjust="spacingAndGlyphs" transform="rotate(-90 1466.5 264.2)">(LiRA output)</text>
<line x1="1899.0" y1="40.3" x2="1899.0" y2="505.6" stroke="#000" stroke-width="3.6" stroke-dasharray="14.5 13.8"/>
<g stroke="#000" stroke-width="2.0" clip-path="url(#clipc)">
<path d="M1718.4 490.6L1726.7 505.0L1710.1 505.0Z" fill="#f3857a" stroke-linejoin="miter"/>
<path d="M1605.5 489.8L1613.8 504.2L1597.2 504.2Z" fill="#8cc0ea" stroke-linejoin="miter"/>
<circle cx="1723.3" cy="499.4" r="6.30" fill="#d04b47"/>
<circle cx="1670.6" cy="500.1" r="6.30" fill="#d04b47"/>
<circle cx="1703.3" cy="496.2" r="6.30" fill="#d04b47"/>
<path d="M1738.9 486.5L1747.2 500.9L1730.6 500.9Z" fill="#f3857a" stroke-linejoin="miter"/>
<path d="M1774.1 489.8L1782.4 504.1L1765.8 504.1Z" fill="#f3857a" stroke-linejoin="miter"/>
<path d="M1744.8 482.7L1753.1 497.1L1736.5 497.1Z" fill="#f3857a" stroke-linejoin="miter"/>
<circle cx="1717.3" cy="491.0" r="6.30" fill="#d04b47"/>
<path d="M1784.7 481.2L1793.0 495.6L1776.4 495.6Z" fill="#f3857a" stroke-linejoin="miter"/>
<path d="M1782.4 483.0L1790.7 497.4L1774.1 497.4Z" fill="#f3857a" stroke-linejoin="miter"/>
<circle cx="1655.0" cy="501.5" r="6.30" fill="#d04b47"/>
<path d="M1766.5 488.4L1774.8 502.7L1758.2 502.7Z" fill="#f3857a" stroke-linejoin="miter"/>
<circle cx="1778.8" cy="496.0" r="6.30" fill="#d04b47"/>
<path d="M1656.8 487.6L1665.1 502.0L1648.5 502.0Z" fill="#8cc0ea" stroke-linejoin="miter"/>
<circle cx="1777.8" cy="491.3" r="6.30" fill="#5a6ec4"/>
<circle cx="1657.3" cy="497.5" r="6.30" fill="#5a6ec4"/>
<circle cx="1713.2" cy="497.5" r="6.30" fill="#d04b47"/>
<circle cx="1658.9" cy="499.8" r="6.30" fill="#5a6ec4"/>
<circle cx="1732.3" cy="491.4" r="6.30" fill="#d04b47"/>
<circle cx="1733.9" cy="489.9" r="6.30" fill="#d04b47"/>
<circle cx="1780.4" cy="492.3" r="6.30" fill="#d04b47"/>
<path d="M1603.4 493.4L1611.7 507.8L1595.1 507.8Z" fill="#f3857a" stroke-linejoin="miter"/>
<circle cx="1671.5" cy="499.8" r="6.30" fill="#d04b47"/>
<path d="M1608.9 486.6L1617.2 501.0L1600.6 501.0Z" fill="#8cc0ea" stroke-linejoin="miter"/>
<circle cx="1622.6" cy="494.3" r="6.30" fill="#5a6ec4"/>
<path d="M1665.4 487.4L1673.7 501.8L1657.1 501.8Z" fill="#f3857a" stroke-linejoin="miter"/>
<circle cx="1647.7" cy="496.1" r="6.30" fill="#d04b47"/>
<circle cx="1742.2" cy="497.9" r="6.30" fill="#5a6ec4"/>
<circle cx="1607.0" cy="502.3" r="6.30" fill="#5a6ec4"/>
<path d="M1639.6 489.7L1647.9 504.0L1631.3 504.0Z" fill="#f3857a" stroke-linejoin="miter"/>
<path d="M1774.4 485.1L1782.7 499.4L1766.1 499.4Z" fill="#f3857a" stroke-linejoin="miter"/>
<path d="M1617.5 492.0L1625.8 506.4L1609.2 506.4Z" fill="#f3857a" stroke-linejoin="miter"/>
<path d="M1633.7 485.0L1642.0 499.4L1625.4 499.4Z" fill="#8cc0ea" stroke-linejoin="miter"/>
<circle cx="1597.2" cy="500.5" r="6.30" fill="#5a6ec4"/>
<circle cx="1661.2" cy="487.0" r="6.30" fill="#5a6ec4"/>
<circle cx="1666.1" cy="487.0" r="6.30" fill="#5a6ec4"/>
<circle cx="1669.8" cy="484.5" r="6.30" fill="#5a6ec4"/>
<circle cx="1720.2" cy="498.0" r="6.30" fill="#5a6ec4"/>
<circle cx="1751.5" cy="496.2" r="6.30" fill="#5a6ec4"/>
<circle cx="1777.3" cy="499.3" r="6.30" fill="#5a6ec4"/>
<circle cx="1687.0" cy="498.0" r="6.30" fill="#5a6ec4"/>
<circle cx="1714.0" cy="472.2" r="6.30" fill="#5a6ec4"/>
<circle cx="1934.7" cy="431.7" r="6.30" fill="#5a6ec4"/>
<circle cx="1932.9" cy="458.0" r="6.30" fill="#5a6ec4"/>
<circle cx="1780.0" cy="498.1" r="6.30" fill="#5a6ec4"/>
<path d="M1624.3 479.8L1632.6 494.2L1616.0 494.2Z" fill="#8cc0ea" stroke-linejoin="miter"/>
<path d="M1634.1 476.1L1642.4 490.5L1625.8 490.5Z" fill="#8cc0ea" stroke-linejoin="miter"/>
<path d="M1628.6 487.2L1636.9 501.5L1620.3 501.5Z" fill="#8cc0ea" stroke-linejoin="miter"/>
<path d="M1662.4 490.8L1670.7 505.2L1654.1 505.2Z" fill="#8cc0ea" stroke-linejoin="miter"/>
<path d="M1605.8 494.5L1614.1 508.9L1597.5 508.9Z" fill="#8cc0ea" stroke-linejoin="miter"/>
<path d="M1829.5 453.3L1837.8 467.7L1821.2 467.7Z" fill="#8cc0ea" stroke-linejoin="miter"/>
<path d="M1889.0 445.8L1897.3 460.1L1880.7 460.1Z" fill="#8cc0ea" stroke-linejoin="miter"/>
<path d="M1687.0 412.2L1695.3 426.5L1678.7 426.5Z" fill="#f3857a" stroke-linejoin="miter"/>
<path d="M1603.4 483.5L1611.7 497.8L1595.1 497.8Z" fill="#f3857a" stroke-linejoin="miter"/>
<path d="M1611.4 482.2L1619.7 496.6L1603.1 496.6Z" fill="#f3857a" stroke-linejoin="miter"/>
<path d="M1616.3 489.0L1624.6 503.4L1608.0 503.4Z" fill="#f3857a" stroke-linejoin="miter"/>
<path d="M1636.6 484.7L1644.9 499.1L1628.3 499.1Z" fill="#f3857a" stroke-linejoin="miter"/>
<path d="M1645.2 487.2L1653.5 501.5L1636.9 501.5Z" fill="#f3857a" stroke-linejoin="miter"/>
<path d="M1686.4 482.2L1694.7 496.6L1678.1 496.6Z" fill="#f3857a" stroke-linejoin="miter"/>
<path d="M1696.2 485.9L1704.5 500.3L1687.9 500.3Z" fill="#f3857a" stroke-linejoin="miter"/>
<path d="M1705.4 485.3L1713.7 499.7L1697.1 499.7Z" fill="#f3857a" stroke-linejoin="miter"/>
<path d="M1709.1 474.9L1717.4 489.2L1700.8 489.2Z" fill="#f3857a" stroke-linejoin="miter"/>
<path d="M1685.7 462.6L1694.0 476.9L1677.4 476.9Z" fill="#f3857a" stroke-linejoin="miter"/>
<path d="M1734.9 482.2L1743.2 496.6L1726.6 496.6Z" fill="#f3857a" stroke-linejoin="miter"/>
<path d="M1741.1 467.5L1749.4 481.9L1732.8 481.9Z" fill="#f3857a" stroke-linejoin="miter"/>
<path d="M1764.4 467.5L1772.7 481.9L1756.1 481.9Z" fill="#f3857a" stroke-linejoin="miter"/>
<path d="M1786.6 482.2L1794.9 496.6L1778.3 496.6Z" fill="#f3857a" stroke-linejoin="miter"/>
<circle cx="1646.4" cy="479.6" r="6.30" fill="#d04b47"/>
<circle cx="1648.2" cy="485.7" r="6.30" fill="#d04b47"/>
<circle cx="1655.0" cy="490.0" r="6.30" fill="#d04b47"/>
<circle cx="1674.7" cy="491.9" r="6.30" fill="#d04b47"/>
<circle cx="1680.8" cy="479.6" r="6.30" fill="#d04b47"/>
<circle cx="1694.3" cy="466.1" r="6.30" fill="#d04b47"/>
<circle cx="1701.1" cy="467.3" r="6.30" fill="#d04b47"/>
<circle cx="1712.2" cy="473.4" r="6.30" fill="#d04b47"/>
<circle cx="1716.5" cy="480.2" r="6.30" fill="#d04b47"/>
<circle cx="1725.7" cy="484.5" r="6.30" fill="#d04b47"/>
<circle cx="1752.1" cy="484.5" r="6.30" fill="#d04b47"/>
<circle cx="1766.3" cy="487.0" r="6.30" fill="#d04b47"/>
<circle cx="1778.0" cy="485.7" r="6.30" fill="#d04b47"/>
<circle cx="1781.0" cy="473.4" r="6.30" fill="#d04b47"/>
<circle cx="1974.2" cy="297.0" r="6.30" fill="#d04b47"/>
<circle cx="1954.2" cy="335.2" r="6.30" fill="#d04b47"/>
<circle cx="1916.6" cy="401.6" r="6.30" fill="#d04b47"/>
<circle cx="1910.9" cy="434.2" r="6.30" fill="#d04b47"/>
<circle cx="1890.9" cy="446.7" r="6.30" fill="#d04b47"/>
<circle cx="1893.4" cy="449.2" r="6.30" fill="#d04b47"/>
<circle cx="1927.9" cy="459.2" r="6.30" fill="#d04b47"/>
<circle cx="1857.7" cy="466.7" r="6.30" fill="#d04b47"/>
<circle cx="1869.0" cy="471.8" r="6.30" fill="#d04b47"/>
<circle cx="1882.1" cy="474.3" r="6.30" fill="#d04b47"/>
<circle cx="1853.9" cy="453.0" r="6.30" fill="#d04b47"/>
<circle cx="1813.8" cy="476.8" r="6.30" fill="#d04b47"/>
<circle cx="1825.1" cy="475.5" r="6.30" fill="#d04b47"/>
<circle cx="1801.9" cy="479.3" r="6.30" fill="#d04b47"/>
<circle cx="1836.4" cy="480.5" r="6.30" fill="#d04b47"/>
<circle cx="1842.6" cy="488.0" r="6.30" fill="#d04b47"/>
<circle cx="1820.7" cy="489.3" r="6.30" fill="#d04b47"/>
<circle cx="1808.8" cy="484.3" r="6.30" fill="#d04b47"/>
<circle cx="1782.5" cy="473.0" r="6.30" fill="#d04b47"/>
<circle cx="1796.3" cy="485.5" r="6.30" fill="#d04b47"/>
<path d="M1946.0 398.2L1954.3 412.5L1937.7 412.5Z" fill="#f3857a" stroke-linejoin="miter"/>
<path d="M1949.2 415.7L1957.5 430.1L1940.9 430.1Z" fill="#f3857a" stroke-linejoin="miter"/>
<path d="M1895.3 425.7L1903.6 440.1L1887.0 440.1Z" fill="#f3857a" stroke-linejoin="miter"/>
<path d="M1923.5 433.2L1931.8 447.6L1915.2 447.6Z" fill="#f3857a" stroke-linejoin="miter"/>
<path d="M1906.6 435.7L1914.9 450.1L1898.3 450.1Z" fill="#f3857a" stroke-linejoin="miter"/>
<path d="M1914.1 448.3L1922.4 462.7L1905.8 462.7Z" fill="#f3857a" stroke-linejoin="miter"/>
<path d="M1845.8 430.7L1854.1 445.1L1837.5 445.1Z" fill="#f3857a" stroke-linejoin="miter"/>
<path d="M1851.4 448.3L1859.7 462.7L1843.1 462.7Z" fill="#f3857a" stroke-linejoin="miter"/>
<path d="M1844.5 463.3L1852.8 477.7L1836.2 477.7Z" fill="#f3857a" stroke-linejoin="miter"/>
<path d="M1858.9 468.3L1867.2 482.7L1850.6 482.7Z" fill="#f3857a" stroke-linejoin="miter"/>
<path d="M1795.0 453.3L1803.3 467.7L1786.7 467.7Z" fill="#f3857a" stroke-linejoin="miter"/>
<path d="M1786.3 480.9L1794.6 495.2L1778.0 495.2Z" fill="#f3857a" stroke-linejoin="miter"/>
<circle cx="1753.8" cy="68.3" r="6.30" fill="#d04b47"/>
<circle cx="1757.4" cy="190.5" r="6.30" fill="#d04b47"/>
<path d="M1717.2 243.7L1725.5 258.1L1708.9 258.1Z" fill="#f3857a" stroke-linejoin="miter"/>
<path d="M1725.8 293.0L1734.1 307.3L1717.5 307.3Z" fill="#f3857a" stroke-linejoin="miter"/>
</g>
<text x="-1.5" y="693.3" font-size="50" fill="#000" font-weight="bold">d</text>
<text x="577.2" y="684.5" font-size="39.5" fill="#000" text-anchor="middle" font-weight="bold" textLength="356.0" lengthAdjust="spacingAndGlyphs">Signature SBS scE</text>
<line x1="214.4" y1="887.7" x2="942.5" y2="887.7" stroke="#ececec" stroke-width="1.6"/>
<line x1="214.4" y1="845.0" x2="942.5" y2="845.0" stroke="#ececec" stroke-width="1.6"/>
<line x1="214.4" y1="802.3" x2="942.5" y2="802.3" stroke="#ececec" stroke-width="1.6"/>
<line x1="214.4" y1="759.6" x2="942.5" y2="759.6" stroke="#ececec" stroke-width="1.6"/>
<line x1="214.4" y1="930.4" x2="942.5" y2="930.4" stroke="#ececec" stroke-width="1.2"/>
<rect x="215.1" y="922.1" width="7.5" height="8.3" fill="#6fb5d9" stroke="#111" stroke-width="0.8"/>
<rect x="222.6" y="929.5" width="7.5" height="0.9" fill="#6fb5d9" stroke="#111" stroke-width="0.8"/>
<rect x="230.1" y="929.8" width="7.5" height="0.6" fill="#6fb5d9" stroke="#111" stroke-width="0.8"/>
<rect x="237.6" y="924.2" width="7.5" height="6.2" fill="#6fb5d9" stroke="#111" stroke-width="0.8"/>
<rect x="245.1" y="928.7" width="7.5" height="1.7" fill="#6fb5d9" stroke="#111" stroke-width="0.8"/>
<rect x="252.6" y="929.5" width="7.5" height="0.9" fill="#6fb5d9" stroke="#111" stroke-width="0.8"/>
<rect x="260.1" y="929.5" width="7.5" height="0.9" fill="#6fb5d9" stroke="#111" stroke-width="0.8"/>
<rect x="267.6" y="927.0" width="7.5" height="3.4" fill="#6fb5d9" stroke="#111" stroke-width="0.8"/>
<rect x="275.1" y="924.2" width="7.5" height="6.2" fill="#6fb5d9" stroke="#111" stroke-width="0.8"/>
<rect x="282.6" y="929.5" width="7.5" height="0.9" fill="#6fb5d9" stroke="#111" stroke-width="0.8"/>
<rect x="290.1" y="929.8" width="7.5" height="0.6" fill="#6fb5d9" stroke="#111" stroke-width="0.8"/>
<rect x="297.5" y="923.6" width="7.5" height="6.8" fill="#6fb5d9" stroke="#111" stroke-width="0.8"/>
<rect x="305.0" y="927.0" width="7.5" height="3.4" fill="#6fb5d9" stroke="#111" stroke-width="0.8"/>
<rect x="312.5" y="928.7" width="7.5" height="1.7" fill="#6fb5d9" stroke="#111" stroke-width="0.8"/>
<rect x="320.0" y="929.5" width="7.5" height="0.9" fill="#6fb5d9" stroke="#111" stroke-width="0.8"/>
<rect x="327.5" y="928.7" width="7.5" height="1.7" fill="#6fb5d9" stroke="#111" stroke-width="0.8"/>
<rect x="214.4" y="711.6" width="121.4" height="36.6" fill="#fff" stroke="#222" stroke-width="1.3"/>
<text x="275.1" y="740.3" font-size="24" fill="#6ab3d6" text-anchor="middle" font-family="'DejaVu Sans Condensed', 'DejaVu Sans', 'Liberation Sans', sans-serif">C&gt;A</text>
<text x="221.5" y="940.5" font-size="7.4" text-anchor="end" fill="#ababab" transform="rotate(-90 221.5 940.5)">A<tspan fill="#92c8e2">C</tspan>A</text>
<text x="229.0" y="940.5" font-size="7.4" text-anchor="end" fill="#ababab" transform="rotate(-90 229.0 940.5)">A<tspan fill="#92c8e2">C</tspan>C</text>
<text x="236.5" y="940.5" font-size="7.4" text-anchor="end" fill="#ababab" transform="rotate(-90 236.5 940.5)">A<tspan fill="#92c8e2">C</tspan>G</text>
<text x="244.0" y="940.5" font-size="7.4" text-anchor="end" fill="#ababab" transform="rotate(-90 244.0 940.5)">A<tspan fill="#92c8e2">C</tspan>T</text>
<text x="251.5" y="940.5" font-size="7.4" text-anchor="end" fill="#ababab" transform="rotate(-90 251.5 940.5)">C<tspan fill="#92c8e2">C</tspan>A</text>
<text x="258.9" y="940.5" font-size="7.4" text-anchor="end" fill="#ababab" transform="rotate(-90 258.9 940.5)">C<tspan fill="#92c8e2">C</tspan>C</text>
<text x="266.4" y="940.5" font-size="7.4" text-anchor="end" fill="#ababab" transform="rotate(-90 266.4 940.5)">C<tspan fill="#92c8e2">C</tspan>G</text>
<text x="273.9" y="940.5" font-size="7.4" text-anchor="end" fill="#ababab" transform="rotate(-90 273.9 940.5)">C<tspan fill="#92c8e2">C</tspan>T</text>
<text x="281.4" y="940.5" font-size="7.4" text-anchor="end" fill="#ababab" transform="rotate(-90 281.4 940.5)">G<tspan fill="#92c8e2">C</tspan>A</text>
<text x="288.9" y="940.5" font-size="7.4" text-anchor="end" fill="#ababab" transform="rotate(-90 288.9 940.5)">G<tspan fill="#92c8e2">C</tspan>C</text>
<text x="296.4" y="940.5" font-size="7.4" text-anchor="end" fill="#ababab" transform="rotate(-90 296.4 940.5)">G<tspan fill="#92c8e2">C</tspan>G</text>
<text x="303.9" y="940.5" font-size="7.4" text-anchor="end" fill="#ababab" transform="rotate(-90 303.9 940.5)">G<tspan fill="#92c8e2">C</tspan>T</text>
<text x="311.4" y="940.5" font-size="7.4" text-anchor="end" fill="#ababab" transform="rotate(-90 311.4 940.5)">T<tspan fill="#92c8e2">C</tspan>A</text>
<text x="318.9" y="940.5" font-size="7.4" text-anchor="end" fill="#ababab" transform="rotate(-90 318.9 940.5)">T<tspan fill="#92c8e2">C</tspan>C</text>
<text x="326.4" y="940.5" font-size="7.4" text-anchor="end" fill="#ababab" transform="rotate(-90 326.4 940.5)">T<tspan fill="#92c8e2">C</tspan>G</text>
<text x="333.9" y="940.5" font-size="7.4" text-anchor="end" fill="#ababab" transform="rotate(-90 333.9 940.5)">T<tspan fill="#92c8e2">C</tspan>T</text>
<rect x="336.5" y="927.8" width="7.5" height="2.6" fill="#000000" stroke="#111" stroke-width="0.8"/>
<rect x="344.0" y="927.0" width="7.5" height="3.4" fill="#000000" stroke="#111" stroke-width="0.8"/>
<rect x="351.5" y="929.5" width="7.5" height="0.9" fill="#000000" stroke="#111" stroke-width="0.8"/>
<rect x="359.0" y="927.8" width="7.5" height="2.6" fill="#000000" stroke="#111" stroke-width="0.8"/>
<rect x="366.5" y="929.5" width="7.5" height="0.9" fill="#000000" stroke="#111" stroke-width="0.8"/>
<rect x="374.0" y="928.7" width="7.5" height="1.7" fill="#000000" stroke="#111" stroke-width="0.8"/>
<rect x="381.4" y="929.5" width="7.5" height="0.9" fill="#000000" stroke="#111" stroke-width="0.8"/>
<rect x="388.9" y="929.5" width="7.5" height="0.9" fill="#000000" stroke="#111" stroke-width="0.8"/>
<rect x="396.4" y="929.5" width="7.5" height="0.9" fill="#000000" stroke="#111" stroke-width="0.8"/>
<rect x="403.9" y="929.5" width="7.5" height="0.9" fill="#000000" stroke="#111" stroke-width="0.8"/>
<rect x="411.4" y="928.7" width="7.5" height="1.7" fill="#000000" stroke="#111" stroke-width="0.8"/>
<rect x="418.9" y="929.5" width="7.5" height="0.9" fill="#000000" stroke="#111" stroke-width="0.8"/>
<rect x="426.4" y="927.8" width="7.5" height="2.6" fill="#000000" stroke="#111" stroke-width="0.8"/>
<rect x="433.9" y="928.7" width="7.5" height="1.7" fill="#000000" stroke="#111" stroke-width="0.8"/>
<rect x="441.4" y="929.5" width="7.5" height="0.9" fill="#000000" stroke="#111" stroke-width="0.8"/>
<rect x="448.9" y="929.5" width="7.5" height="0.9" fill="#000000" stroke="#111" stroke-width="0.8"/>
<rect x="335.8" y="711.6" width="121.4" height="36.6" fill="#fff" stroke="#222" stroke-width="1.3"/>
<text x="396.4" y="740.3" font-size="24" fill="#000000" text-anchor="middle" font-family="'DejaVu Sans Condensed', 'DejaVu Sans', 'Liberation Sans', sans-serif">C&gt;G</text>
<text x="342.8" y="940.5" font-size="7.4" text-anchor="end" fill="#ababab" transform="rotate(-90 342.8 940.5)">A<tspan fill="#444444">C</tspan>A</text>
<text x="350.3" y="940.5" font-size="7.4" text-anchor="end" fill="#ababab" transform="rotate(-90 350.3 940.5)">A<tspan fill="#444444">C</tspan>C</text>
<text x="357.8" y="940.5" font-size="7.4" text-anchor="end" fill="#ababab" transform="rotate(-90 357.8 940.5)">A<tspan fill="#444444">C</tspan>G</text>
<text x="365.3" y="940.5" font-size="7.4" text-anchor="end" fill="#ababab" transform="rotate(-90 365.3 940.5)">A<tspan fill="#444444">C</tspan>T</text>
<text x="372.8" y="940.5" font-size="7.4" text-anchor="end" fill="#ababab" transform="rotate(-90 372.8 940.5)">C<tspan fill="#444444">C</tspan>A</text>
<text x="380.3" y="940.5" font-size="7.4" text-anchor="end" fill="#ababab" transform="rotate(-90 380.3 940.5)">C<tspan fill="#444444">C</tspan>C</text>
<text x="387.8" y="940.5" font-size="7.4" text-anchor="end" fill="#ababab" transform="rotate(-90 387.8 940.5)">C<tspan fill="#444444">C</tspan>G</text>
<text x="395.3" y="940.5" font-size="7.4" text-anchor="end" fill="#ababab" transform="rotate(-90 395.3 940.5)">C<tspan fill="#444444">C</tspan>T</text>
<text x="402.8" y="940.5" font-size="7.4" text-anchor="end" fill="#ababab" transform="rotate(-90 402.8 940.5)">G<tspan fill="#444444">C</tspan>A</text>
<text x="410.3" y="940.5" font-size="7.4" text-anchor="end" fill="#ababab" transform="rotate(-90 410.3 940.5)">G<tspan fill="#444444">C</tspan>C</text>
<text x="417.8" y="940.5" font-size="7.4" text-anchor="end" fill="#ababab" transform="rotate(-90 417.8 940.5)">G<tspan fill="#444444">C</tspan>G</text>
<text x="425.2" y="940.5" font-size="7.4" text-anchor="end" fill="#ababab" transform="rotate(-90 425.2 940.5)">G<tspan fill="#444444">C</tspan>T</text>
<text x="432.7" y="940.5" font-size="7.4" text-anchor="end" fill="#ababab" transform="rotate(-90 432.7 940.5)">T<tspan fill="#444444">C</tspan>A</text>
<text x="440.2" y="940.5" font-size="7.4" text-anchor="end" fill="#ababab" transform="rotate(-90 440.2 940.5)">T<tspan fill="#444444">C</tspan>C</text>
<text x="447.7" y="940.5" font-size="7.4" text-anchor="end" fill="#ababab" transform="rotate(-90 447.7 940.5)">T<tspan fill="#444444">C</tspan>G</text>
<text x="455.2" y="940.5" font-size="7.4" text-anchor="end" fill="#ababab" transform="rotate(-90 455.2 940.5)">T<tspan fill="#444444">C</tspan>T</text>
<rect x="457.8" y="920.2" width="7.5" height="10.2" fill="#d3291e" stroke="#111" stroke-width="0.8"/>
<rect x="465.3" y="919.3" width="7.5" height="11.1" fill="#d3291e" stroke="#111" stroke-width="0.8"/>
<rect x="472.8" y="929.8" width="7.5" height="0.6" fill="#d3291e" stroke="#111" stroke-width="0.8"/>
<rect x="480.3" y="921.9" width="7.5" height="8.5" fill="#d3291e" stroke="#111" stroke-width="0.8"/>
<rect x="487.8" y="907.3" width="7.5" height="23.1" fill="#d3291e" stroke="#111" stroke-width="0.8"/>
<rect x="495.3" y="910.8" width="7.5" height="19.6" fill="#d3291e" stroke="#111" stroke-width="0.8"/>
<rect x="502.8" y="922.7" width="7.5" height="7.7" fill="#d3291e" stroke="#111" stroke-width="0.8"/>
<rect x="510.3" y="917.6" width="7.5" height="12.8" fill="#d3291e" stroke="#111" stroke-width="0.8"/>
<rect x="517.8" y="792.1" width="7.5" height="138.3" fill="#d3291e" stroke="#111" stroke-width="0.8"/>
<rect x="525.3" y="757.9" width="7.5" height="172.5" fill="#d3291e" stroke="#111" stroke-width="0.8"/>
<rect x="532.8" y="915.9" width="7.5" height="14.5" fill="#d3291e" stroke="#111" stroke-width="0.8"/>
<rect x="540.2" y="832.2" width="7.5" height="98.2" fill="#d3291e" stroke="#111" stroke-width="0.8"/>
<rect x="547.7" y="927.0" width="7.5" height="3.4" fill="#d3291e" stroke="#111" stroke-width="0.8"/>
<rect x="555.2" y="927.0" width="7.5" height="3.4" fill="#d3291e" stroke="#111" stroke-width="0.8"/>
<rect x="562.7" y="929.8" width="7.5" height="0.6" fill="#d3291e" stroke="#111" stroke-width="0.8"/>
<rect x="570.2" y="920.2" width="7.5" height="10.2" fill="#d3291e" stroke="#111" stroke-width="0.8"/>
<rect x="457.1" y="711.6" width="121.4" height="36.6" fill="#fff" stroke="#222" stroke-width="1.3"/>
<text x="517.8" y="740.3" font-size="24" fill="#c8281e" text-anchor="middle" font-family="'DejaVu Sans Condensed', 'DejaVu Sans', 'Liberation Sans', sans-serif">C&gt;T</text>
<text x="464.2" y="940.5" font-size="7.4" text-anchor="end" fill="#ababab" transform="rotate(-90 464.2 940.5)">A<tspan fill="#e4928c">C</tspan>A</text>
<text x="471.7" y="940.5" font-size="7.4" text-anchor="end" fill="#ababab" transform="rotate(-90 471.7 940.5)">A<tspan fill="#e4928c">C</tspan>C</text>
<text x="479.2" y="940.5" font-size="7.4" text-anchor="end" fill="#ababab" transform="rotate(-90 479.2 940.5)">A<tspan fill="#e4928c">C</tspan>G</text>
<text x="486.7" y="940.5" font-size="7.4" text-anchor="end" fill="#ababab" transform="rotate(-90 486.7 940.5)">A<tspan fill="#e4928c">C</tspan>T</text>
<text x="494.2" y="940.5" font-size="7.4" text-anchor="end" fill="#ababab" transform="rotate(-90 494.2 940.5)">C<tspan fill="#e4928c">C</tspan>A</text>
<text x="501.6" y="940.5" font-size="7.4" text-anchor="end" fill="#ababab" transform="rotate(-90 501.6 940.5)">C<tspan fill="#e4928c">C</tspan>C</text>
<text x="509.1" y="940.5" font-size="7.4" text-anchor="end" fill="#ababab" transform="rotate(-90 509.1 940.5)">C<tspan fill="#e4928c">C</tspan>G</text>
<text x="516.6" y="940.5" font-size="7.4" text-anchor="end" fill="#ababab" transform="rotate(-90 516.6 940.5)">C<tspan fill="#e4928c">C</tspan>T</text>
<text x="524.1" y="940.5" font-size="7.4" text-anchor="end" fill="#ababab" transform="rotate(-90 524.1 940.5)">G<tspan fill="#e4928c">C</tspan>A</text>
<text x="531.6" y="940.5" font-size="7.4" text-anchor="end" fill="#ababab" transform="rotate(-90 531.6 940.5)">G<tspan fill="#e4928c">C</tspan>C</text>
<text x="539.1" y="940.5" font-size="7.4" text-anchor="end" fill="#ababab" transform="rotate(-90 539.1 940.5)">G<tspan fill="#e4928c">C</tspan>G</text>
<text x="546.6" y="940.5" font-size="7.4" text-anchor="end" fill="#ababab" transform="rotate(-90 546.6 940.5)">G<tspan fill="#e4928c">C</tspan>T</text>
<text x="554.1" y="940.5" font-size="7.4" text-anchor="end" fill="#ababab" transform="rotate(-90 554.1 940.5)">T<tspan fill="#e4928c">C</tspan>A</text>
<text x="561.6" y="940.5" font-size="7.4" text-anchor="end" fill="#ababab" transform="rotate(-90 561.6 940.5)">T<tspan fill="#e4928c">C</tspan>C</text>
<text x="569.1" y="940.5" font-size="7.4" text-anchor="end" fill="#ababab" transform="rotate(-90 569.1 940.5)">T<tspan fill="#e4928c">C</tspan>G</text>
<text x="576.6" y="940.5" font-size="7.4" text-anchor="end" fill="#ababab" transform="rotate(-90 576.6 940.5)">T<tspan fill="#e4928c">C</tspan>T</text>
<rect x="579.2" y="928.7" width="7.5" height="1.7" fill="#dcdcdc" stroke="#111" stroke-width="0.8"/>
<rect x="586.7" y="929.5" width="7.5" height="0.9" fill="#dcdcdc" stroke="#111" stroke-width="0.8"/>
<rect x="594.2" y="929.5" width="7.5" height="0.9" fill="#dcdcdc" stroke="#111" stroke-width="0.8"/>
<rect x="601.7" y="924.0" width="7.5" height="6.4" fill="#dcdcdc" stroke="#111" stroke-width="0.8"/>
<rect x="609.2" y="928.7" width="7.5" height="1.7" fill="#dcdcdc" stroke="#111" stroke-width="0.8"/>
<rect x="616.7" y="927.8" width="7.5" height="2.6" fill="#dcdcdc" stroke="#111" stroke-width="0.8"/>
<rect x="624.1" y="928.7" width="7.5" height="1.7" fill="#dcdcdc" stroke="#111" stroke-width="0.8"/>
<rect x="631.6" y="927.0" width="7.5" height="3.4" fill="#dcdcdc" stroke="#111" stroke-width="0.8"/>
<rect x="639.1" y="929.5" width="7.5" height="0.9" fill="#dcdcdc" stroke="#111" stroke-width="0.8"/>
<rect x="646.6" y="929.5" width="7.5" height="0.9" fill="#dcdcdc" stroke="#111" stroke-width="0.8"/>
<rect x="654.1" y="929.5" width="7.5" height="0.9" fill="#dcdcdc" stroke="#111" stroke-width="0.8"/>
<rect x="661.6" y="927.8" width="7.5" height="2.6" fill="#dcdcdc" stroke="#111" stroke-width="0.8"/>
<rect x="669.1" y="927.0" width="7.5" height="3.4" fill="#dcdcdc" stroke="#111" stroke-width="0.8"/>
<rect x="676.6" y="929.5" width="7.5" height="0.9" fill="#dcdcdc" stroke="#111" stroke-width="0.8"/>
<rect x="684.1" y="929.5" width="7.5" height="0.9" fill="#dcdcdc" stroke="#111" stroke-width="0.8"/>
<rect x="691.6" y="927.8" width="7.5" height="2.6" fill="#dcdcdc" stroke="#111" stroke-width="0.8"/>
<rect x="578.5" y="711.6" width="121.4" height="36.6" fill="#fff" stroke="#222" stroke-width="1.3"/>
<text x="639.1" y="740.3" font-size="24" fill="#cfcfcf" text-anchor="middle" font-family="'DejaVu Sans Condensed', 'DejaVu Sans', 'Liberation Sans', sans-serif">T&gt;A</text>
<text x="585.5" y="940.5" font-size="7.4" text-anchor="end" fill="#ababab" transform="rotate(-90 585.5 940.5)">A<tspan fill="#d2d2d2">T</tspan>A</text>
<text x="593.0" y="940.5" font-size="7.4" text-anchor="end" fill="#ababab" transform="rotate(-90 593.0 940.5)">A<tspan fill="#d2d2d2">T</tspan>C</text>
<text x="600.5" y="940.5" font-size="7.4" text-anchor="end" fill="#ababab" transform="rotate(-90 600.5 940.5)">A<tspan fill="#d2d2d2">T</tspan>G</text>
<text x="608.0" y="940.5" font-size="7.4" text-anchor="end" fill="#ababab" transform="rotate(-90 608.0 940.5)">A<tspan fill="#d2d2d2">T</tspan>T</text>
<text x="615.5" y="940.5" font-size="7.4" text-anchor="end" fill="#ababab" transform="rotate(-90 615.5 940.5)">C<tspan fill="#d2d2d2">T</tspan>A</text>
<text x="623.0" y="940.5" font-size="7.4" text-anchor="end" fill="#ababab" transform="rotate(-90 623.0 940.5)">C<tspan fill="#d2d2d2">T</tspan>C</text>
<text x="630.5" y="940.5" font-size="7.4" text-anchor="end" fill="#ababab" transform="rotate(-90 630.5 940.5)">C<tspan fill="#d2d2d2">T</tspan>G</text>
<text x="638.0" y="940.5" font-size="7.4" text-anchor="end" fill="#ababab" transform="rotate(-90 638.0 940.5)">C<tspan fill="#d2d2d2">T</tspan>T</text>
<text x="645.5" y="940.5" font-size="7.4" text-anchor="end" fill="#ababab" transform="rotate(-90 645.5 940.5)">G<tspan fill="#d2d2d2">T</tspan>A</text>
<text x="653.0" y="940.5" font-size="7.4" text-anchor="end" fill="#ababab" transform="rotate(-90 653.0 940.5)">G<tspan fill="#d2d2d2">T</tspan>C</text>
<text x="660.5" y="940.5" font-size="7.4" text-anchor="end" fill="#ababab" transform="rotate(-90 660.5 940.5)">G<tspan fill="#d2d2d2">T</tspan>G</text>
<text x="667.9" y="940.5" font-size="7.4" text-anchor="end" fill="#ababab" transform="rotate(-90 667.9 940.5)">G<tspan fill="#d2d2d2">T</tspan>T</text>
<text x="675.4" y="940.5" font-size="7.4" text-anchor="end" fill="#ababab" transform="rotate(-90 675.4 940.5)">T<tspan fill="#d2d2d2">T</tspan>A</text>
<text x="682.9" y="940.5" font-size="7.4" text-anchor="end" fill="#ababab" transform="rotate(-90 682.9 940.5)">T<tspan fill="#d2d2d2">T</tspan>C</text>
<text x="690.4" y="940.5" font-size="7.4" text-anchor="end" fill="#ababab" transform="rotate(-90 690.4 940.5)">T<tspan fill="#d2d2d2">T</tspan>G</text>
<text x="697.9" y="940.5" font-size="7.4" text-anchor="end" fill="#ababab" transform="rotate(-90 697.9 940.5)">T<tspan fill="#d2d2d2">T</tspan>T</text>
<rect x="700.5" y="916.7" width="7.5" height="13.7" fill="#abc63c" stroke="#111" stroke-width="0.8"/>
<rect x="708.0" y="920.2" width="7.5" height="10.2" fill="#abc63c" stroke="#111" stroke-width="0.8"/>
<rect x="715.5" y="918.1" width="7.5" height="12.3" fill="#abc63c" stroke="#111" stroke-width="0.8"/>
<rect x="723.0" y="921.0" width="7.5" height="9.4" fill="#abc63c" stroke="#111" stroke-width="0.8"/>
<rect x="730.5" y="918.1" width="7.5" height="12.3" fill="#abc63c" stroke="#111" stroke-width="0.8"/>
<rect x="738.0" y="914.4" width="7.5" height="16.0" fill="#abc63c" stroke="#111" stroke-width="0.8"/>
<rect x="745.5" y="895.4" width="7.5" height="35.0" fill="#abc63c" stroke="#111" stroke-width="0.8"/>
<rect x="753.0" y="919.3" width="7.5" height="11.1" fill="#abc63c" stroke="#111" stroke-width="0.8"/>
<rect x="760.5" y="913.3" width="7.5" height="17.1" fill="#abc63c" stroke="#111" stroke-width="0.8"/>
<rect x="768.0" y="919.3" width="7.5" height="11.1" fill="#abc63c" stroke="#111" stroke-width="0.8"/>
<rect x="775.5" y="912.5" width="7.5" height="17.9" fill="#abc63c" stroke="#111" stroke-width="0.8"/>
<rect x="782.9" y="920.6" width="7.5" height="9.8" fill="#abc63c" stroke="#111" stroke-width="0.8"/>
<rect x="790.4" y="921.5" width="7.5" height="8.9" fill="#abc63c" stroke="#111" stroke-width="0.8"/>
<rect x="797.9" y="921.0" width="7.5" height="9.4" fill="#abc63c" stroke="#111" stroke-width="0.8"/>
<rect x="805.4" y="917.8" width="7.5" height="12.6" fill="#abc63c" stroke="#111" stroke-width="0.8"/>
<rect x="812.9" y="924.3" width="7.5" height="6.1" fill="#abc63c" stroke="#111" stroke-width="0.8"/>
<rect x="699.8" y="711.6" width="121.4" height="36.6" fill="#fff" stroke="#222" stroke-width="1.3"/>
<text x="760.5" y="740.3" font-size="24" fill="#a8c63a" text-anchor="middle" font-family="'DejaVu Sans Condensed', 'DejaVu Sans', 'Liberation Sans', sans-serif">T&gt;C</text>
<text x="706.9" y="940.5" font-size="7.4" text-anchor="end" fill="#ababab" transform="rotate(-90 706.9 940.5)">A<tspan fill="#c4d77c">T</tspan>A</text>
<text x="714.4" y="940.5" font-size="7.4" text-anchor="end" fill="#ababab" transform="rotate(-90 714.4 940.5)">A<tspan fill="#c4d77c">T</tspan>C</text>
<text x="721.9" y="940.5" font-size="7.4" text-anchor="end" fill="#ababab" transform="rotate(-90 721.9 940.5)">A<tspan fill="#c4d77c">T</tspan>G</text>
<text x="729.4" y="940.5" font-size="7.4" text-anchor="end" fill="#ababab" transform="rotate(-90 729.4 940.5)">A<tspan fill="#c4d77c">T</tspan>T</text>
<text x="736.9" y="940.5" font-size="7.4" text-anchor="end" fill="#ababab" transform="rotate(-90 736.9 940.5)">C<tspan fill="#c4d77c">T</tspan>A</text>
<text x="744.3" y="940.5" font-size="7.4" text-anchor="end" fill="#ababab" transform="rotate(-90 744.3 940.5)">C<tspan fill="#c4d77c">T</tspan>C</text>
<text x="751.8" y="940.5" font-size="7.4" text-anchor="end" fill="#ababab" transform="rotate(-90 751.8 940.5)">C<tspan fill="#c4d77c">T</tspan>G</text>
<text x="759.3" y="940.5" font-size="7.4" text-anchor="end" fill="#ababab" transform="rotate(-90 759.3 940.5)">C<tspan fill="#c4d77c">T</tspan>T</text>
<text x="766.8" y="940.5" font-size="7.4" text-anchor="end" fill="#ababab" transform="rotate(-90 766.8 940.5)">G<tspan fill="#c4d77c">T</tspan>A</text>
<text x="774.3" y="940.5" font-size="7.4" text-anchor="end" fill="#ababab" transform="rotate(-90 774.3 940.5)">G<tspan fill="#c4d77c">T</tspan>C</text>
<text x="781.8" y="940.5" font-size="7.4" text-anchor="end" fill="#ababab" transform="rotate(-90 781.8 940.5)">G<tspan fill="#c4d77c">T</tspan>G</text>
<text x="789.3" y="940.5" font-size="7.4" text-anchor="end" fill="#ababab" transform="rotate(-90 789.3 940.5)">G<tspan fill="#c4d77c">T</tspan>T</text>
<text x="796.8" y="940.5" font-size="7.4" text-anchor="end" fill="#ababab" transform="rotate(-90 796.8 940.5)">T<tspan fill="#c4d77c">T</tspan>A</text>
<text x="804.3" y="940.5" font-size="7.4" text-anchor="end" fill="#ababab" transform="rotate(-90 804.3 940.5)">T<tspan fill="#c4d77c">T</tspan>C</text>
<text x="811.8" y="940.5" font-size="7.4" text-anchor="end" fill="#ababab" transform="rotate(-90 811.8 940.5)">T<tspan fill="#c4d77c">T</tspan>G</text>
<text x="819.3" y="940.5" font-size="7.4" text-anchor="end" fill="#ababab" transform="rotate(-90 819.3 940.5)">T<tspan fill="#c4d77c">T</tspan>T</text>
<rect x="821.9" y="929.5" width="7.5" height="0.9" fill="#eec9c6" stroke="#111" stroke-width="0.8"/>
<rect x="829.4" y="929.5" width="7.5" height="0.9" fill="#eec9c6" stroke="#111" stroke-width="0.8"/>
<rect x="836.9" y="929.5" width="7.5" height="0.9" fill="#eec9c6" stroke="#111" stroke-width="0.8"/>
<rect x="844.4" y="929.5" width="7.5" height="0.9" fill="#eec9c6" stroke="#111" stroke-width="0.8"/>
<rect x="851.9" y="929.5" width="7.5" height="0.9" fill="#eec9c6" stroke="#111" stroke-width="0.8"/>
<rect x="859.4" y="929.5" width="7.5" height="0.9" fill="#eec9c6" stroke="#111" stroke-width="0.8"/>
<rect x="866.8" y="929.5" width="7.5" height="0.9" fill="#eec9c6" stroke="#111" stroke-width="0.8"/>
<rect x="874.3" y="929.5" width="7.5" height="0.9" fill="#eec9c6" stroke="#111" stroke-width="0.8"/>
<rect x="881.8" y="929.5" width="7.5" height="0.9" fill="#eec9c6" stroke="#111" stroke-width="0.8"/>
<rect x="889.3" y="929.5" width="7.5" height="0.9" fill="#eec9c6" stroke="#111" stroke-width="0.8"/>
<rect x="896.8" y="929.5" width="7.5" height="0.9" fill="#eec9c6" stroke="#111" stroke-width="0.8"/>
<rect x="904.3" y="929.5" width="7.5" height="0.9" fill="#eec9c6" stroke="#111" stroke-width="0.8"/>
<rect x="911.8" y="929.5" width="7.5" height="0.9" fill="#eec9c6" stroke="#111" stroke-width="0.8"/>
<rect x="919.3" y="929.5" width="7.5" height="0.9" fill="#eec9c6" stroke="#111" stroke-width="0.8"/>
<rect x="926.8" y="929.5" width="7.5" height="0.9" fill="#eec9c6" stroke="#111" stroke-width="0.8"/>
<rect x="934.3" y="929.5" width="7.5" height="0.9" fill="#eec9c6" stroke="#111" stroke-width="0.8"/>
<rect x="821.1" y="711.6" width="121.4" height="36.6" fill="#fff" stroke="#222" stroke-width="1.3"/>
<text x="881.8" y="740.3" font-size="24" fill="#f0d3d1" text-anchor="middle" font-family="'DejaVu Sans Condensed', 'DejaVu Sans', 'Liberation Sans', sans-serif">T&gt;G</text>
<text x="828.2" y="940.5" font-size="7.4" text-anchor="end" fill="#ababab" transform="rotate(-90 828.2 940.5)">A<tspan fill="#f1d9d7">T</tspan>A</text>
<text x="835.7" y="940.5" font-size="7.4" text-anchor="end" fill="#ababab" transform="rotate(-90 835.7 940.5)">A<tspan fill="#f1d9d7">T</tspan>C</text>
<text x="843.2" y="940.5" font-size="7.4" text-anchor="end" fill="#ababab" transform="rotate(-90 843.2 940.5)">A<tspan fill="#f1d9d7">T</tspan>G</text>
<text x="850.7" y="940.5" font-size="7.4" text-anchor="end" fill="#ababab" transform="rotate(-90 850.7 940.5)">A<tspan fill="#f1d9d7">T</tspan>T</text>
<text x="858.2" y="940.5" font-size="7.4" text-anchor="end" fill="#ababab" transform="rotate(-90 858.2 940.5)">C<tspan fill="#f1d9d7">T</tspan>A</text>
<text x="865.7" y="940.5" font-size="7.4" text-anchor="end" fill="#ababab" transform="rotate(-90 865.7 940.5)">C<tspan fill="#f1d9d7">T</tspan>C</text>
<text x="873.2" y="940.5" font-size="7.4" text-anchor="end" fill="#ababab" transform="rotate(-90 873.2 940.5)">C<tspan fill="#f1d9d7">T</tspan>G</text>
<text x="880.7" y="940.5" font-size="7.4" text-anchor="end" fill="#ababab" transform="rotate(-90 880.7 940.5)">C<tspan fill="#f1d9d7">T</tspan>T</text>
<text x="888.2" y="940.5" font-size="7.4" text-anchor="end" fill="#ababab" transform="rotate(-90 888.2 940.5)">G<tspan fill="#f1d9d7">T</tspan>A</text>
<text x="895.7" y="940.5" font-size="7.4" text-anchor="end" fill="#ababab" transform="rotate(-90 895.7 940.5)">G<tspan fill="#f1d9d7">T</tspan>C</text>
<text x="903.2" y="940.5" font-size="7.4" text-anchor="end" fill="#ababab" transform="rotate(-90 903.2 940.5)">G<tspan fill="#f1d9d7">T</tspan>G</text>
<text x="910.6" y="940.5" font-size="7.4" text-anchor="end" fill="#ababab" transform="rotate(-90 910.6 940.5)">G<tspan fill="#f1d9d7">T</tspan>T</text>
<text x="918.1" y="940.5" font-size="7.4" text-anchor="end" fill="#ababab" transform="rotate(-90 918.1 940.5)">T<tspan fill="#f1d9d7">T</tspan>A</text>
<text x="925.6" y="940.5" font-size="7.4" text-anchor="end" fill="#ababab" transform="rotate(-90 925.6 940.5)">T<tspan fill="#f1d9d7">T</tspan>C</text>
<text x="933.1" y="940.5" font-size="7.4" text-anchor="end" fill="#ababab" transform="rotate(-90 933.1 940.5)">T<tspan fill="#f1d9d7">T</tspan>G</text>
<text x="940.6" y="940.5" font-size="7.4" text-anchor="end" fill="#ababab" transform="rotate(-90 940.6 940.5)">T<tspan fill="#f1d9d7">T</tspan>T</text>
<rect x="214.4" y="751.8" width="121.4" height="186.2" fill="none" stroke="#111" stroke-width="1.8"/>
<rect x="335.8" y="751.8" width="121.4" height="186.2" fill="none" stroke="#111" stroke-width="1.8"/>
<rect x="457.1" y="751.8" width="121.4" height="186.2" fill="none" stroke="#111" stroke-width="1.8"/>
<rect x="578.5" y="751.8" width="121.4" height="186.2" fill="none" stroke="#111" stroke-width="1.8"/>
<rect x="699.8" y="751.8" width="121.4" height="186.2" fill="none" stroke="#111" stroke-width="1.8"/>
<rect x="821.1" y="751.8" width="121.4" height="186.2" fill="none" stroke="#111" stroke-width="1.8"/>
<line x1="208.2" y1="930.4" x2="214.4" y2="930.4" stroke="#000" stroke-width="1.4"/>
<text x="205.9" y="936.7" font-size="17.5" fill="#3b3b3b" text-anchor="end">0.0</text>
<line x1="208.2" y1="845.0" x2="214.4" y2="845.0" stroke="#000" stroke-width="1.4"/>
<text x="205.9" y="851.3" font-size="17.5" fill="#3b3b3b" text-anchor="end">0.1</text>
<line x1="208.2" y1="759.6" x2="214.4" y2="759.6" stroke="#000" stroke-width="1.4"/>
<text x="205.9" y="765.9" font-size="17.5" fill="#3b3b3b" text-anchor="end">0.2</text>
<rect x="947.4" y="751.8" width="37.4" height="186.2" fill="#d9d9d9" stroke="#333" stroke-width="1.3"/>
<text x="958.1" y="846.7" font-size="23" fill="#000" text-anchor="middle" textLength="80.0" lengthAdjust="spacingAndGlyphs" transform="rotate(90 958.1 846.7)">SBS scE</text>
<text x="127.8" y="842.1" font-size="27" fill="#000" text-anchor="middle" textLength="158.0" lengthAdjust="spacingAndGlyphs" transform="rotate(-90 127.8 842.1)">Mutation type</text>
<text x="161.2" y="838.5" font-size="27" fill="#000" text-anchor="middle" textLength="117.0" lengthAdjust="spacingAndGlyphs" transform="rotate(-90 161.2 838.5)">frequency</text>
<text x="578.3" y="978.8" font-size="26.5" fill="#000" text-anchor="middle" textLength="244.0" lengthAdjust="spacingAndGlyphs">Trinucleotide context</text>
<text x="1032.0" y="693.5" font-size="50" fill="#000" font-weight="bold">e</text>
<text x="1593.2" y="697.0" font-size="39.5" fill="#000" text-anchor="middle" font-weight="bold" textLength="353.0" lengthAdjust="spacingAndGlyphs">Signature SBS scF</text>
<line x1="1224.7" y1="894.4" x2="1951.0" y2="894.4" stroke="#ececec" stroke-width="1.6"/>
<line x1="1224.7" y1="851.8" x2="1951.0" y2="851.8" stroke="#ececec" stroke-width="1.6"/>
<line x1="1224.7" y1="809.2" x2="1951.0" y2="809.2" stroke="#ececec" stroke-width="1.6"/>
<line x1="1224.7" y1="766.7" x2="1951.0" y2="766.7" stroke="#ececec" stroke-width="1.6"/>
<line x1="1224.7" y1="936.9" x2="1951.0" y2="936.9" stroke="#ececec" stroke-width="1.2"/>
<rect x="1225.4" y="930.5" width="7.5" height="6.4" fill="#6fb5d9" stroke="#111" stroke-width="0.8"/>
<rect x="1232.9" y="934.3" width="7.5" height="2.6" fill="#6fb5d9" stroke="#111" stroke-width="0.8"/>
<rect x="1240.4" y="936.3" width="7.5" height="0.6" fill="#6fb5d9" stroke="#111" stroke-width="0.8"/>
<rect x="1247.9" y="933.2" width="7.5" height="3.7" fill="#6fb5d9" stroke="#111" stroke-width="0.8"/>
<rect x="1255.3" y="935.6" width="7.5" height="1.3" fill="#6fb5d9" stroke="#111" stroke-width="0.8"/>
<rect x="1262.8" y="936.0" width="7.5" height="0.9" fill="#6fb5d9" stroke="#111" stroke-width="0.8"/>
<rect x="1270.3" y="936.0" width="7.5" height="0.9" fill="#6fb5d9" stroke="#111" stroke-width="0.8"/>
<rect x="1277.8" y="935.6" width="7.5" height="1.3" fill="#6fb5d9" stroke="#111" stroke-width="0.8"/>
<rect x="1285.2" y="933.2" width="7.5" height="3.7" fill="#6fb5d9" stroke="#111" stroke-width="0.8"/>
<rect x="1292.7" y="933.8" width="7.5" height="3.1" fill="#6fb5d9" stroke="#111" stroke-width="0.8"/>
<rect x="1300.2" y="936.0" width="7.5" height="0.9" fill="#6fb5d9" stroke="#111" stroke-width="0.8"/>
<rect x="1307.6" y="932.6" width="7.5" height="4.3" fill="#6fb5d9" stroke="#111" stroke-width="0.8"/>
<rect x="1315.1" y="932.6" width="7.5" height="4.3" fill="#6fb5d9" stroke="#111" stroke-width="0.8"/>
<rect x="1322.6" y="932.6" width="7.5" height="4.3" fill="#6fb5d9" stroke="#111" stroke-width="0.8"/>
<rect x="1330.1" y="936.3" width="7.5" height="0.6" fill="#6fb5d9" stroke="#111" stroke-width="0.8"/>
<rect x="1337.5" y="936.3" width="7.5" height="0.6" fill="#6fb5d9" stroke="#111" stroke-width="0.8"/>
<rect x="1224.7" y="718.5" width="121.0" height="36.7" fill="#fff" stroke="#222" stroke-width="1.3"/>
<text x="1285.2" y="747.2" font-size="24" fill="#6ab3d6" text-anchor="middle" font-family="'DejaVu Sans Condensed', 'DejaVu Sans', 'Liberation Sans', sans-serif">C&gt;A</text>
<text x="1231.8" y="947.7" font-size="7.4" text-anchor="end" fill="#ababab" transform="rotate(-90 1231.8 947.7)">A<tspan fill="#92c8e2">C</tspan>A</text>
<text x="1239.3" y="947.7" font-size="7.4" text-anchor="end" fill="#ababab" transform="rotate(-90 1239.3 947.7)">A<tspan fill="#92c8e2">C</tspan>C</text>
<text x="1246.7" y="947.7" font-size="7.4" text-anchor="end" fill="#ababab" transform="rotate(-90 1246.7 947.7)">A<tspan fill="#92c8e2">C</tspan>G</text>
<text x="1254.2" y="947.7" font-size="7.4" text-anchor="end" fill="#ababab" transform="rotate(-90 1254.2 947.7)">A<tspan fill="#92c8e2">C</tspan>T</text>
<text x="1261.7" y="947.7" font-size="7.4" text-anchor="end" fill="#ababab" transform="rotate(-90 1261.7 947.7)">C<tspan fill="#92c8e2">C</tspan>A</text>
<text x="1269.1" y="947.7" font-size="7.4" text-anchor="end" fill="#ababab" transform="rotate(-90 1269.1 947.7)">C<tspan fill="#92c8e2">C</tspan>C</text>
<text x="1276.6" y="947.7" font-size="7.4" text-anchor="end" fill="#ababab" transform="rotate(-90 1276.6 947.7)">C<tspan fill="#92c8e2">C</tspan>G</text>
<text x="1284.1" y="947.7" font-size="7.4" text-anchor="end" fill="#ababab" transform="rotate(-90 1284.1 947.7)">C<tspan fill="#92c8e2">C</tspan>T</text>
<text x="1291.6" y="947.7" font-size="7.4" text-anchor="end" fill="#ababab" transform="rotate(-90 1291.6 947.7)">G<tspan fill="#92c8e2">C</tspan>A</text>
<text x="1299.0" y="947.7" font-size="7.4" text-anchor="end" fill="#ababab" transform="rotate(-90 1299.0 947.7)">G<tspan fill="#92c8e2">C</tspan>C</text>
<text x="1306.5" y="947.7" font-size="7.4" text-anchor="end" fill="#ababab" transform="rotate(-90 1306.5 947.7)">G<tspan fill="#92c8e2">C</tspan>G</text>
<text x="1314.0" y="947.7" font-size="7.4" text-anchor="end" fill="#ababab" transform="rotate(-90 1314.0 947.7)">G<tspan fill="#92c8e2">C</tspan>T</text>
<text x="1321.5" y="947.7" font-size="7.4" text-anchor="end" fill="#ababab" transform="rotate(-90 1321.5 947.7)">T<tspan fill="#92c8e2">C</tspan>A</text>
<text x="1328.9" y="947.7" font-size="7.4" text-anchor="end" fill="#ababab" transform="rotate(-90 1328.9 947.7)">T<tspan fill="#92c8e2">C</tspan>C</text>
<text x="1336.4" y="947.7" font-size="7.4" text-anchor="end" fill="#ababab" transform="rotate(-90 1336.4 947.7)">T<tspan fill="#92c8e2">C</tspan>G</text>
<text x="1343.9" y="947.7" font-size="7.4" text-anchor="end" fill="#ababab" transform="rotate(-90 1343.9 947.7)">T<tspan fill="#92c8e2">C</tspan>T</text>
<rect x="1346.5" y="936.0" width="7.5" height="0.9" fill="#000000" stroke="#111" stroke-width="0.8"/>
<rect x="1354.0" y="936.3" width="7.5" height="0.6" fill="#000000" stroke="#111" stroke-width="0.8"/>
<rect x="1361.4" y="936.3" width="7.5" height="0.6" fill="#000000" stroke="#111" stroke-width="0.8"/>
<rect x="1368.9" y="935.6" width="7.5" height="1.3" fill="#000000" stroke="#111" stroke-width="0.8"/>
<rect x="1376.4" y="936.3" width="7.5" height="0.6" fill="#000000" stroke="#111" stroke-width="0.8"/>
<rect x="1383.9" y="936.3" width="7.5" height="0.6" fill="#000000" stroke="#111" stroke-width="0.8"/>
<rect x="1391.3" y="936.3" width="7.5" height="0.6" fill="#000000" stroke="#111" stroke-width="0.8"/>
<rect x="1398.8" y="936.3" width="7.5" height="0.6" fill="#000000" stroke="#111" stroke-width="0.8"/>
<rect x="1406.3" y="936.3" width="7.5" height="0.6" fill="#000000" stroke="#111" stroke-width="0.8"/>
<rect x="1413.7" y="936.3" width="7.5" height="0.6" fill="#000000" stroke="#111" stroke-width="0.8"/>
<rect x="1421.2" y="936.3" width="7.5" height="0.6" fill="#000000" stroke="#111" stroke-width="0.8"/>
<rect x="1428.7" y="935.6" width="7.5" height="1.3" fill="#000000" stroke="#111" stroke-width="0.8"/>
<rect x="1436.2" y="936.3" width="7.5" height="0.6" fill="#000000" stroke="#111" stroke-width="0.8"/>
<rect x="1443.6" y="936.3" width="7.5" height="0.6" fill="#000000" stroke="#111" stroke-width="0.8"/>
<rect x="1451.1" y="936.3" width="7.5" height="0.6" fill="#000000" stroke="#111" stroke-width="0.8"/>
<rect x="1458.6" y="936.3" width="7.5" height="0.6" fill="#000000" stroke="#111" stroke-width="0.8"/>
<rect x="1345.8" y="718.5" width="121.0" height="36.7" fill="#fff" stroke="#222" stroke-width="1.3"/>
<text x="1406.3" y="747.2" font-size="24" fill="#000000" text-anchor="middle" font-family="'DejaVu Sans Condensed', 'DejaVu Sans', 'Liberation Sans', sans-serif">C&gt;G</text>
<text x="1352.8" y="947.7" font-size="7.4" text-anchor="end" fill="#ababab" transform="rotate(-90 1352.8 947.7)">A<tspan fill="#444444">C</tspan>A</text>
<text x="1360.3" y="947.7" font-size="7.4" text-anchor="end" fill="#ababab" transform="rotate(-90 1360.3 947.7)">A<tspan fill="#444444">C</tspan>C</text>
<text x="1367.8" y="947.7" font-size="7.4" text-anchor="end" fill="#ababab" transform="rotate(-90 1367.8 947.7)">A<tspan fill="#444444">C</tspan>G</text>
<text x="1375.2" y="947.7" font-size="7.4" text-anchor="end" fill="#ababab" transform="rotate(-90 1375.2 947.7)">A<tspan fill="#444444">C</tspan>T</text>
<text x="1382.7" y="947.7" font-size="7.4" text-anchor="end" fill="#ababab" transform="rotate(-90 1382.7 947.7)">C<tspan fill="#444444">C</tspan>A</text>
<text x="1390.2" y="947.7" font-size="7.4" text-anchor="end" fill="#ababab" transform="rotate(-90 1390.2 947.7)">C<tspan fill="#444444">C</tspan>C</text>
<text x="1397.7" y="947.7" font-size="7.4" text-anchor="end" fill="#ababab" transform="rotate(-90 1397.7 947.7)">C<tspan fill="#444444">C</tspan>G</text>
<text x="1405.1" y="947.7" font-size="7.4" text-anchor="end" fill="#ababab" transform="rotate(-90 1405.1 947.7)">C<tspan fill="#444444">C</tspan>T</text>
<text x="1412.6" y="947.7" font-size="7.4" text-anchor="end" fill="#ababab" transform="rotate(-90 1412.6 947.7)">G<tspan fill="#444444">C</tspan>A</text>
<text x="1420.1" y="947.7" font-size="7.4" text-anchor="end" fill="#ababab" transform="rotate(-90 1420.1 947.7)">G<tspan fill="#444444">C</tspan>C</text>
<text x="1427.6" y="947.7" font-size="7.4" text-anchor="end" fill="#ababab" transform="rotate(-90 1427.6 947.7)">G<tspan fill="#444444">C</tspan>G</text>
<text x="1435.0" y="947.7" font-size="7.4" text-anchor="end" fill="#ababab" transform="rotate(-90 1435.0 947.7)">G<tspan fill="#444444">C</tspan>T</text>
<text x="1442.5" y="947.7" font-size="7.4" text-anchor="end" fill="#ababab" transform="rotate(-90 1442.5 947.7)">T<tspan fill="#444444">C</tspan>A</text>
<text x="1450.0" y="947.7" font-size="7.4" text-anchor="end" fill="#ababab" transform="rotate(-90 1450.0 947.7)">T<tspan fill="#444444">C</tspan>C</text>
<text x="1457.4" y="947.7" font-size="7.4" text-anchor="end" fill="#ababab" transform="rotate(-90 1457.4 947.7)">T<tspan fill="#444444">C</tspan>G</text>
<text x="1464.9" y="947.7" font-size="7.4" text-anchor="end" fill="#ababab" transform="rotate(-90 1464.9 947.7)">T<tspan fill="#444444">C</tspan>T</text>
<rect x="1467.5" y="879.6" width="7.5" height="57.3" fill="#d3291e" stroke="#111" stroke-width="0.8"/>
<rect x="1475.0" y="899.0" width="7.5" height="37.9" fill="#d3291e" stroke="#111" stroke-width="0.8"/>
<rect x="1482.5" y="932.6" width="7.5" height="4.3" fill="#d3291e" stroke="#111" stroke-width="0.8"/>
<rect x="1490.0" y="887.5" width="7.5" height="49.4" fill="#d3291e" stroke="#111" stroke-width="0.8"/>
<rect x="1497.4" y="879.9" width="7.5" height="57.0" fill="#d3291e" stroke="#111" stroke-width="0.8"/>
<rect x="1504.9" y="885.0" width="7.5" height="51.9" fill="#d3291e" stroke="#111" stroke-width="0.8"/>
<rect x="1512.4" y="926.7" width="7.5" height="10.2" fill="#d3291e" stroke="#111" stroke-width="0.8"/>
<rect x="1519.9" y="875.9" width="7.5" height="61.0" fill="#d3291e" stroke="#111" stroke-width="0.8"/>
<rect x="1527.3" y="877.3" width="7.5" height="59.6" fill="#d3291e" stroke="#111" stroke-width="0.8"/>
<rect x="1534.8" y="868.0" width="7.5" height="68.9" fill="#d3291e" stroke="#111" stroke-width="0.8"/>
<rect x="1542.3" y="929.7" width="7.5" height="7.2" fill="#d3291e" stroke="#111" stroke-width="0.8"/>
<rect x="1549.7" y="876.5" width="7.5" height="60.4" fill="#d3291e" stroke="#111" stroke-width="0.8"/>
<rect x="1557.2" y="894.4" width="7.5" height="42.5" fill="#d3291e" stroke="#111" stroke-width="0.8"/>
<rect x="1564.7" y="879.9" width="7.5" height="57.0" fill="#d3291e" stroke="#111" stroke-width="0.8"/>
<rect x="1572.2" y="932.6" width="7.5" height="4.3" fill="#d3291e" stroke="#111" stroke-width="0.8"/>
<rect x="1579.6" y="871.8" width="7.5" height="65.1" fill="#d3291e" stroke="#111" stroke-width="0.8"/>
<rect x="1466.8" y="718.5" width="121.0" height="36.7" fill="#fff" stroke="#222" stroke-width="1.3"/>
<text x="1527.3" y="747.2" font-size="24" fill="#c8281e" text-anchor="middle" font-family="'DejaVu Sans Condensed', 'DejaVu Sans', 'Liberation Sans', sans-serif">C&gt;T</text>
<text x="1473.9" y="947.7" font-size="7.4" text-anchor="end" fill="#ababab" transform="rotate(-90 1473.9 947.7)">A<tspan fill="#e4928c">C</tspan>A</text>
<text x="1481.4" y="947.7" font-size="7.4" text-anchor="end" fill="#ababab" transform="rotate(-90 1481.4 947.7)">A<tspan fill="#e4928c">C</tspan>C</text>
<text x="1488.8" y="947.7" font-size="7.4" text-anchor="end" fill="#ababab" transform="rotate(-90 1488.8 947.7)">A<tspan fill="#e4928c">C</tspan>G</text>
<text x="1496.3" y="947.7" font-size="7.4" text-anchor="end" fill="#ababab" transform="rotate(-90 1496.3 947.7)">A<tspan fill="#e4928c">C</tspan>T</text>
<text x="1503.8" y="947.7" font-size="7.4" text-anchor="end" fill="#ababab" transform="rotate(-90 1503.8 947.7)">C<tspan fill="#e4928c">C</tspan>A</text>
<text x="1511.2" y="947.7" font-size="7.4" text-anchor="end" fill="#ababab" transform="rotate(-90 1511.2 947.7)">C<tspan fill="#e4928c">C</tspan>C</text>
<text x="1518.7" y="947.7" font-size="7.4" text-anchor="end" fill="#ababab" transform="rotate(-90 1518.7 947.7)">C<tspan fill="#e4928c">C</tspan>G</text>
<text x="1526.2" y="947.7" font-size="7.4" text-anchor="end" fill="#ababab" transform="rotate(-90 1526.2 947.7)">C<tspan fill="#e4928c">C</tspan>T</text>
<text x="1533.7" y="947.7" font-size="7.4" text-anchor="end" fill="#ababab" transform="rotate(-90 1533.7 947.7)">G<tspan fill="#e4928c">C</tspan>A</text>
<text x="1541.1" y="947.7" font-size="7.4" text-anchor="end" fill="#ababab" transform="rotate(-90 1541.1 947.7)">G<tspan fill="#e4928c">C</tspan>C</text>
<text x="1548.6" y="947.7" font-size="7.4" text-anchor="end" fill="#ababab" transform="rotate(-90 1548.6 947.7)">G<tspan fill="#e4928c">C</tspan>G</text>
<text x="1556.1" y="947.7" font-size="7.4" text-anchor="end" fill="#ababab" transform="rotate(-90 1556.1 947.7)">G<tspan fill="#e4928c">C</tspan>T</text>
<text x="1563.5" y="947.7" font-size="7.4" text-anchor="end" fill="#ababab" transform="rotate(-90 1563.5 947.7)">T<tspan fill="#e4928c">C</tspan>A</text>
<text x="1571.0" y="947.7" font-size="7.4" text-anchor="end" fill="#ababab" transform="rotate(-90 1571.0 947.7)">T<tspan fill="#e4928c">C</tspan>C</text>
<text x="1578.5" y="947.7" font-size="7.4" text-anchor="end" fill="#ababab" transform="rotate(-90 1578.5 947.7)">T<tspan fill="#e4928c">C</tspan>G</text>
<text x="1586.0" y="947.7" font-size="7.4" text-anchor="end" fill="#ababab" transform="rotate(-90 1586.0 947.7)">T<tspan fill="#e4928c">C</tspan>T</text>
<rect x="1588.6" y="936.0" width="7.5" height="0.9" fill="#dcdcdc" stroke="#111" stroke-width="0.8"/>
<rect x="1596.1" y="936.0" width="7.5" height="0.9" fill="#dcdcdc" stroke="#111" stroke-width="0.8"/>
<rect x="1603.5" y="933.5" width="7.5" height="3.4" fill="#dcdcdc" stroke="#111" stroke-width="0.8"/>
<rect x="1611.0" y="936.0" width="7.5" height="0.9" fill="#dcdcdc" stroke="#111" stroke-width="0.8"/>
<rect x="1618.5" y="936.0" width="7.5" height="0.9" fill="#dcdcdc" stroke="#111" stroke-width="0.8"/>
<rect x="1626.0" y="935.2" width="7.5" height="1.7" fill="#dcdcdc" stroke="#111" stroke-width="0.8"/>
<rect x="1633.4" y="935.2" width="7.5" height="1.7" fill="#dcdcdc" stroke="#111" stroke-width="0.8"/>
<rect x="1640.9" y="935.2" width="7.5" height="1.7" fill="#dcdcdc" stroke="#111" stroke-width="0.8"/>
<rect x="1648.4" y="936.0" width="7.5" height="0.9" fill="#dcdcdc" stroke="#111" stroke-width="0.8"/>
<rect x="1655.8" y="936.3" width="7.5" height="0.6" fill="#dcdcdc" stroke="#111" stroke-width="0.8"/>
<rect x="1663.3" y="936.0" width="7.5" height="0.9" fill="#dcdcdc" stroke="#111" stroke-width="0.8"/>
<rect x="1670.8" y="936.0" width="7.5" height="0.9" fill="#dcdcdc" stroke="#111" stroke-width="0.8"/>
<rect x="1678.3" y="934.3" width="7.5" height="2.6" fill="#dcdcdc" stroke="#111" stroke-width="0.8"/>
<rect x="1685.7" y="936.0" width="7.5" height="0.9" fill="#dcdcdc" stroke="#111" stroke-width="0.8"/>
<rect x="1693.2" y="936.0" width="7.5" height="0.9" fill="#dcdcdc" stroke="#111" stroke-width="0.8"/>
<rect x="1700.7" y="933.5" width="7.5" height="3.4" fill="#dcdcdc" stroke="#111" stroke-width="0.8"/>
<rect x="1587.8" y="718.5" width="121.0" height="36.7" fill="#fff" stroke="#222" stroke-width="1.3"/>
<text x="1648.4" y="747.2" font-size="24" fill="#cfcfcf" text-anchor="middle" font-family="'DejaVu Sans Condensed', 'DejaVu Sans', 'Liberation Sans', sans-serif">T&gt;A</text>
<text x="1594.9" y="947.7" font-size="7.4" text-anchor="end" fill="#ababab" transform="rotate(-90 1594.9 947.7)">A<tspan fill="#d2d2d2">T</tspan>A</text>
<text x="1602.4" y="947.7" font-size="7.4" text-anchor="end" fill="#ababab" transform="rotate(-90 1602.4 947.7)">A<tspan fill="#d2d2d2">T</tspan>C</text>
<text x="1609.9" y="947.7" font-size="7.4" text-anchor="end" fill="#ababab" transform="rotate(-90 1609.9 947.7)">A<tspan fill="#d2d2d2">T</tspan>G</text>
<text x="1617.3" y="947.7" font-size="7.4" text-anchor="end" fill="#ababab" transform="rotate(-90 1617.3 947.7)">A<tspan fill="#d2d2d2">T</tspan>T</text>
<text x="1624.8" y="947.7" font-size="7.4" text-anchor="end" fill="#ababab" transform="rotate(-90 1624.8 947.7)">C<tspan fill="#d2d2d2">T</tspan>A</text>
<text x="1632.3" y="947.7" font-size="7.4" text-anchor="end" fill="#ababab" transform="rotate(-90 1632.3 947.7)">C<tspan fill="#d2d2d2">T</tspan>C</text>
<text x="1639.8" y="947.7" font-size="7.4" text-anchor="end" fill="#ababab" transform="rotate(-90 1639.8 947.7)">C<tspan fill="#d2d2d2">T</tspan>G</text>
<text x="1647.2" y="947.7" font-size="7.4" text-anchor="end" fill="#ababab" transform="rotate(-90 1647.2 947.7)">C<tspan fill="#d2d2d2">T</tspan>T</text>
<text x="1654.7" y="947.7" font-size="7.4" text-anchor="end" fill="#ababab" transform="rotate(-90 1654.7 947.7)">G<tspan fill="#d2d2d2">T</tspan>A</text>
<text x="1662.2" y="947.7" font-size="7.4" text-anchor="end" fill="#ababab" transform="rotate(-90 1662.2 947.7)">G<tspan fill="#d2d2d2">T</tspan>C</text>
<text x="1669.7" y="947.7" font-size="7.4" text-anchor="end" fill="#ababab" transform="rotate(-90 1669.7 947.7)">G<tspan fill="#d2d2d2">T</tspan>G</text>
<text x="1677.1" y="947.7" font-size="7.4" text-anchor="end" fill="#ababab" transform="rotate(-90 1677.1 947.7)">G<tspan fill="#d2d2d2">T</tspan>T</text>
<text x="1684.6" y="947.7" font-size="7.4" text-anchor="end" fill="#ababab" transform="rotate(-90 1684.6 947.7)">T<tspan fill="#d2d2d2">T</tspan>A</text>
<text x="1692.1" y="947.7" font-size="7.4" text-anchor="end" fill="#ababab" transform="rotate(-90 1692.1 947.7)">T<tspan fill="#d2d2d2">T</tspan>C</text>
<text x="1699.5" y="947.7" font-size="7.4" text-anchor="end" fill="#ababab" transform="rotate(-90 1699.5 947.7)">T<tspan fill="#d2d2d2">T</tspan>G</text>
<text x="1707.0" y="947.7" font-size="7.4" text-anchor="end" fill="#ababab" transform="rotate(-90 1707.0 947.7)">T<tspan fill="#d2d2d2">T</tspan>T</text>
<rect x="1709.6" y="931.3" width="7.5" height="5.6" fill="#abc63c" stroke="#111" stroke-width="0.8"/>
<rect x="1717.1" y="933.5" width="7.5" height="3.4" fill="#abc63c" stroke="#111" stroke-width="0.8"/>
<rect x="1724.6" y="931.6" width="7.5" height="5.3" fill="#abc63c" stroke="#111" stroke-width="0.8"/>
<rect x="1732.1" y="932.8" width="7.5" height="4.1" fill="#abc63c" stroke="#111" stroke-width="0.8"/>
<rect x="1739.5" y="932.6" width="7.5" height="4.3" fill="#abc63c" stroke="#111" stroke-width="0.8"/>
<rect x="1747.0" y="931.3" width="7.5" height="5.6" fill="#abc63c" stroke="#111" stroke-width="0.8"/>
<rect x="1754.5" y="925.0" width="7.5" height="11.9" fill="#abc63c" stroke="#111" stroke-width="0.8"/>
<rect x="1762.0" y="933.8" width="7.5" height="3.1" fill="#abc63c" stroke="#111" stroke-width="0.8"/>
<rect x="1769.4" y="930.7" width="7.5" height="6.2" fill="#abc63c" stroke="#111" stroke-width="0.8"/>
<rect x="1776.9" y="933.5" width="7.5" height="3.4" fill="#abc63c" stroke="#111" stroke-width="0.8"/>
<rect x="1784.4" y="931.9" width="7.5" height="5.0" fill="#abc63c" stroke="#111" stroke-width="0.8"/>
<rect x="1791.8" y="933.2" width="7.5" height="3.7" fill="#abc63c" stroke="#111" stroke-width="0.8"/>
<rect x="1799.3" y="933.5" width="7.5" height="3.4" fill="#abc63c" stroke="#111" stroke-width="0.8"/>
<rect x="1806.8" y="933.5" width="7.5" height="3.4" fill="#abc63c" stroke="#111" stroke-width="0.8"/>
<rect x="1814.3" y="933.8" width="7.5" height="3.1" fill="#abc63c" stroke="#111" stroke-width="0.8"/>
<rect x="1821.7" y="933.8" width="7.5" height="3.1" fill="#abc63c" stroke="#111" stroke-width="0.8"/>
<rect x="1708.9" y="718.5" width="121.0" height="36.7" fill="#fff" stroke="#222" stroke-width="1.3"/>
<text x="1769.4" y="747.2" font-size="24" fill="#a8c63a" text-anchor="middle" font-family="'DejaVu Sans Condensed', 'DejaVu Sans', 'Liberation Sans', sans-serif">T&gt;C</text>
<text x="1716.0" y="947.7" font-size="7.4" text-anchor="end" fill="#ababab" transform="rotate(-90 1716.0 947.7)">A<tspan fill="#c4d77c">T</tspan>A</text>
<text x="1723.5" y="947.7" font-size="7.4" text-anchor="end" fill="#ababab" transform="rotate(-90 1723.5 947.7)">A<tspan fill="#c4d77c">T</tspan>C</text>
<text x="1730.9" y="947.7" font-size="7.4" text-anchor="end" fill="#ababab" transform="rotate(-90 1730.9 947.7)">A<tspan fill="#c4d77c">T</tspan>G</text>
<text x="1738.4" y="947.7" font-size="7.4" text-anchor="end" fill="#ababab" transform="rotate(-90 1738.4 947.7)">A<tspan fill="#c4d77c">T</tspan>T</text>
<text x="1745.9" y="947.7" font-size="7.4" text-anchor="end" fill="#ababab" transform="rotate(-90 1745.9 947.7)">C<tspan fill="#c4d77c">T</tspan>A</text>
<text x="1753.3" y="947.7" font-size="7.4" text-anchor="end" fill="#ababab" transform="rotate(-90 1753.3 947.7)">C<tspan fill="#c4d77c">T</tspan>C</text>
<text x="1760.8" y="947.7" font-size="7.4" text-anchor="end" fill="#ababab" transform="rotate(-90 1760.8 947.7)">C<tspan fill="#c4d77c">T</tspan>G</text>
<text x="1768.3" y="947.7" font-size="7.4" text-anchor="end" fill="#ababab" transform="rotate(-90 1768.3 947.7)">C<tspan fill="#c4d77c">T</tspan>T</text>
<text x="1775.8" y="947.7" font-size="7.4" text-anchor="end" fill="#ababab" transform="rotate(-90 1775.8 947.7)">G<tspan fill="#c4d77c">T</tspan>A</text>
<text x="1783.2" y="947.7" font-size="7.4" text-anchor="end" fill="#ababab" transform="rotate(-90 1783.2 947.7)">G<tspan fill="#c4d77c">T</tspan>C</text>
<text x="1790.7" y="947.7" font-size="7.4" text-anchor="end" fill="#ababab" transform="rotate(-90 1790.7 947.7)">G<tspan fill="#c4d77c">T</tspan>G</text>
<text x="1798.2" y="947.7" font-size="7.4" text-anchor="end" fill="#ababab" transform="rotate(-90 1798.2 947.7)">G<tspan fill="#c4d77c">T</tspan>T</text>
<text x="1805.7" y="947.7" font-size="7.4" text-anchor="end" fill="#ababab" transform="rotate(-90 1805.7 947.7)">T<tspan fill="#c4d77c">T</tspan>A</text>
<text x="1813.1" y="947.7" font-size="7.4" text-anchor="end" fill="#ababab" transform="rotate(-90 1813.1 947.7)">T<tspan fill="#c4d77c">T</tspan>C</text>
<text x="1820.6" y="947.7" font-size="7.4" text-anchor="end" fill="#ababab" transform="rotate(-90 1820.6 947.7)">T<tspan fill="#c4d77c">T</tspan>G</text>
<text x="1828.1" y="947.7" font-size="7.4" text-anchor="end" fill="#ababab" transform="rotate(-90 1828.1 947.7)">T<tspan fill="#c4d77c">T</tspan>T</text>
<rect x="1830.7" y="936.3" width="7.5" height="0.6" fill="#eec9c6" stroke="#111" stroke-width="0.8"/>
<rect x="1838.2" y="936.3" width="7.5" height="0.6" fill="#eec9c6" stroke="#111" stroke-width="0.8"/>
<rect x="1845.6" y="936.3" width="7.5" height="0.6" fill="#eec9c6" stroke="#111" stroke-width="0.8"/>
<rect x="1853.1" y="936.3" width="7.5" height="0.6" fill="#eec9c6" stroke="#111" stroke-width="0.8"/>
<rect x="1860.6" y="936.3" width="7.5" height="0.6" fill="#eec9c6" stroke="#111" stroke-width="0.8"/>
<rect x="1868.1" y="936.3" width="7.5" height="0.6" fill="#eec9c6" stroke="#111" stroke-width="0.8"/>
<rect x="1875.5" y="936.3" width="7.5" height="0.6" fill="#eec9c6" stroke="#111" stroke-width="0.8"/>
<rect x="1883.0" y="936.3" width="7.5" height="0.6" fill="#eec9c6" stroke="#111" stroke-width="0.8"/>
<rect x="1890.5" y="936.3" width="7.5" height="0.6" fill="#eec9c6" stroke="#111" stroke-width="0.8"/>
<rect x="1897.9" y="936.3" width="7.5" height="0.6" fill="#eec9c6" stroke="#111" stroke-width="0.8"/>
<rect x="1905.4" y="936.3" width="7.5" height="0.6" fill="#eec9c6" stroke="#111" stroke-width="0.8"/>
<rect x="1912.9" y="936.3" width="7.5" height="0.6" fill="#eec9c6" stroke="#111" stroke-width="0.8"/>
<rect x="1920.4" y="936.3" width="7.5" height="0.6" fill="#eec9c6" stroke="#111" stroke-width="0.8"/>
<rect x="1927.8" y="936.3" width="7.5" height="0.6" fill="#eec9c6" stroke="#111" stroke-width="0.8"/>
<rect x="1935.3" y="936.3" width="7.5" height="0.6" fill="#eec9c6" stroke="#111" stroke-width="0.8"/>
<rect x="1942.8" y="936.3" width="7.5" height="0.6" fill="#eec9c6" stroke="#111" stroke-width="0.8"/>
<rect x="1830.0" y="718.5" width="121.0" height="36.7" fill="#fff" stroke="#222" stroke-width="1.3"/>
<text x="1890.5" y="747.2" font-size="24" fill="#f0d3d1" text-anchor="middle" font-family="'DejaVu Sans Condensed', 'DejaVu Sans', 'Liberation Sans', sans-serif">T&gt;G</text>
<text x="1837.0" y="947.7" font-size="7.4" text-anchor="end" fill="#ababab" transform="rotate(-90 1837.0 947.7)">A<tspan fill="#f1d9d7">T</tspan>A</text>
<text x="1844.5" y="947.7" font-size="7.4" text-anchor="end" fill="#ababab" transform="rotate(-90 1844.5 947.7)">A<tspan fill="#f1d9d7">T</tspan>C</text>
<text x="1852.0" y="947.7" font-size="7.4" text-anchor="end" fill="#ababab" transform="rotate(-90 1852.0 947.7)">A<tspan fill="#f1d9d7">T</tspan>G</text>
<text x="1859.5" y="947.7" font-size="7.4" text-anchor="end" fill="#ababab" transform="rotate(-90 1859.5 947.7)">A<tspan fill="#f1d9d7">T</tspan>T</text>
<text x="1866.9" y="947.7" font-size="7.4" text-anchor="end" fill="#ababab" transform="rotate(-90 1866.9 947.7)">C<tspan fill="#f1d9d7">T</tspan>A</text>
<text x="1874.4" y="947.7" font-size="7.4" text-anchor="end" fill="#ababab" transform="rotate(-90 1874.4 947.7)">C<tspan fill="#f1d9d7">T</tspan>C</text>
<text x="1881.9" y="947.7" font-size="7.4" text-anchor="end" fill="#ababab" transform="rotate(-90 1881.9 947.7)">C<tspan fill="#f1d9d7">T</tspan>G</text>
<text x="1889.3" y="947.7" font-size="7.4" text-anchor="end" fill="#ababab" transform="rotate(-90 1889.3 947.7)">C<tspan fill="#f1d9d7">T</tspan>T</text>
<text x="1896.8" y="947.7" font-size="7.4" text-anchor="end" fill="#ababab" transform="rotate(-90 1896.8 947.7)">G<tspan fill="#f1d9d7">T</tspan>A</text>
<text x="1904.3" y="947.7" font-size="7.4" text-anchor="end" fill="#ababab" transform="rotate(-90 1904.3 947.7)">G<tspan fill="#f1d9d7">T</tspan>C</text>
<text x="1911.8" y="947.7" font-size="7.4" text-anchor="end" fill="#ababab" transform="rotate(-90 1911.8 947.7)">G<tspan fill="#f1d9d7">T</tspan>G</text>
<text x="1919.2" y="947.7" font-size="7.4" text-anchor="end" fill="#ababab" transform="rotate(-90 1919.2 947.7)">G<tspan fill="#f1d9d7">T</tspan>T</text>
<text x="1926.7" y="947.7" font-size="7.4" text-anchor="end" fill="#ababab" transform="rotate(-90 1926.7 947.7)">T<tspan fill="#f1d9d7">T</tspan>A</text>
<text x="1934.2" y="947.7" font-size="7.4" text-anchor="end" fill="#ababab" transform="rotate(-90 1934.2 947.7)">T<tspan fill="#f1d9d7">T</tspan>C</text>
<text x="1941.6" y="947.7" font-size="7.4" text-anchor="end" fill="#ababab" transform="rotate(-90 1941.6 947.7)">T<tspan fill="#f1d9d7">T</tspan>G</text>
<text x="1949.1" y="947.7" font-size="7.4" text-anchor="end" fill="#ababab" transform="rotate(-90 1949.1 947.7)">T<tspan fill="#f1d9d7">T</tspan>T</text>
<rect x="1224.7" y="759.2" width="121.0" height="186.0" fill="none" stroke="#111" stroke-width="1.8"/>
<rect x="1345.8" y="759.2" width="121.0" height="186.0" fill="none" stroke="#111" stroke-width="1.8"/>
<rect x="1466.8" y="759.2" width="121.0" height="186.0" fill="none" stroke="#111" stroke-width="1.8"/>
<rect x="1587.8" y="759.2" width="121.0" height="186.0" fill="none" stroke="#111" stroke-width="1.8"/>
<rect x="1708.9" y="759.2" width="121.0" height="186.0" fill="none" stroke="#111" stroke-width="1.8"/>
<rect x="1830.0" y="759.2" width="121.0" height="186.0" fill="none" stroke="#111" stroke-width="1.8"/>
<line x1="1218.5" y1="936.9" x2="1224.7" y2="936.9" stroke="#000" stroke-width="1.4"/>
<text x="1216.2" y="943.2" font-size="17.5" fill="#3b3b3b" text-anchor="end">0.0</text>
<line x1="1218.5" y1="851.8" x2="1224.7" y2="851.8" stroke="#000" stroke-width="1.4"/>
<text x="1216.2" y="858.1" font-size="17.5" fill="#3b3b3b" text-anchor="end">0.1</text>
<line x1="1218.5" y1="766.7" x2="1224.7" y2="766.7" stroke="#000" stroke-width="1.4"/>
<text x="1216.2" y="773.0" font-size="17.5" fill="#3b3b3b" text-anchor="end">0.2</text>
<rect x="1955.8" y="759.2" width="37.4" height="186.0" fill="#d9d9d9" stroke="#333" stroke-width="1.3"/>
<text x="1966.5" y="847.4" font-size="23" fill="#000" text-anchor="middle" textLength="80.0" lengthAdjust="spacingAndGlyphs" transform="rotate(90 1966.5 847.4)">SBS scF</text>
<text x="1145.2" y="853.7" font-size="27" fill="#000" text-anchor="middle" textLength="158.0" lengthAdjust="spacingAndGlyphs" transform="rotate(-90 1145.2 853.7)">Mutation type</text>
<text x="1181.5" y="850.0" font-size="27" fill="#000" text-anchor="middle" textLength="116.0" lengthAdjust="spacingAndGlyphs" transform="rotate(-90 1181.5 850.0)">frequency</text>
<text x="1599.5" y="989.0" font-size="26.5" fill="#000" text-anchor="middle" textLength="244.0" lengthAdjust="spacingAndGlyphs">Trinucleotide context</text>
<g stroke="#000" stroke-width="2.0" clip-path="url(#clipd)">
<circle cx="274.6" cy="1366.6" r="6.30" fill="#5a6ec4"/>
<circle cx="332.0" cy="1365.6" r="6.30" fill="#5a6ec4"/>
<circle cx="373.0" cy="1365.6" r="6.30" fill="#5a6ec4"/>
<circle cx="393.4" cy="1366.6" r="6.30" fill="#5a6ec4"/>
<circle cx="449.8" cy="1361.5" r="6.30" fill="#5a6ec4"/>
<circle cx="489.8" cy="1366.6" r="6.30" fill="#5a6ec4"/>
<circle cx="510.2" cy="1365.6" r="6.30" fill="#5a6ec4"/>
<circle cx="533.8" cy="1359.4" r="6.30" fill="#5a6ec4"/>
<circle cx="586.1" cy="1365.6" r="6.30" fill="#5a6ec4"/>
<circle cx="385.2" cy="1367.6" r="6.30" fill="#5a6ec4"/>
<circle cx="454.9" cy="1367.6" r="6.30" fill="#5a6ec4"/>
<circle cx="475.4" cy="1367.6" r="6.30" fill="#5a6ec4"/>
<path d="M301.2 1357.4L309.5 1371.7L292.9 1371.7Z" fill="#8cc0ea" stroke-linejoin="miter"/>
<path d="M320.7 1357.4L329.0 1371.7L312.4 1371.7Z" fill="#8cc0ea" stroke-linejoin="miter"/>
<path d="M336.1 1358.0L344.4 1372.4L327.8 1372.4Z" fill="#8cc0ea" stroke-linejoin="miter"/>
<path d="M424.2 1360.4L432.5 1374.8L415.9 1374.8Z" fill="#8cc0ea" stroke-linejoin="miter"/>
<circle cx="356.6" cy="1361.5" r="6.30" fill="#d04b47"/>
<circle cx="364.8" cy="1366.6" r="6.30" fill="#d04b47"/>
<circle cx="405.7" cy="1366.6" r="6.30" fill="#d04b47"/>
<circle cx="522.5" cy="1363.5" r="6.30" fill="#d04b47"/>
<circle cx="535.9" cy="1367.6" r="6.30" fill="#d04b47"/>
<circle cx="551.2" cy="1365.6" r="6.30" fill="#d04b47"/>
<circle cx="573.8" cy="1366.6" r="6.30" fill="#d04b47"/>
<circle cx="504.1" cy="1367.6" r="6.30" fill="#d04b47"/>
<path d="M282.8 1357.4L291.1 1371.7L274.5 1371.7Z" fill="#f3857a" stroke-linejoin="miter"/>
<path d="M291.0 1358.0L299.3 1372.4L282.7 1372.4Z" fill="#f3857a" stroke-linejoin="miter"/>
<path d="M313.5 1358.0L321.8 1372.4L305.2 1372.4Z" fill="#f3857a" stroke-linejoin="miter"/>
<path d="M343.2 1358.0L351.5 1372.4L334.9 1372.4Z" fill="#f3857a" stroke-linejoin="miter"/>
<path d="M421.1 1356.3L429.4 1370.7L412.8 1370.7Z" fill="#f3857a" stroke-linejoin="miter"/>
<path d="M425.2 1356.7L433.5 1371.1L416.9 1371.1Z" fill="#f3857a" stroke-linejoin="miter"/>
<path d="M438.5 1358.0L446.8 1372.4L430.2 1372.4Z" fill="#f3857a" stroke-linejoin="miter"/>
<path d="M454.9 1356.3L463.2 1370.7L446.6 1370.7Z" fill="#f3857a" stroke-linejoin="miter"/>
<path d="M467.2 1355.3L475.5 1369.7L458.9 1369.7Z" fill="#f3857a" stroke-linejoin="miter"/>
<path d="M501.0 1357.4L509.3 1371.7L492.7 1371.7Z" fill="#f3857a" stroke-linejoin="miter"/>
<path d="M515.4 1358.0L523.7 1372.4L507.1 1372.4Z" fill="#f3857a" stroke-linejoin="miter"/>
<path d="M558.4 1356.7L566.7 1371.1L550.1 1371.1Z" fill="#f3857a" stroke-linejoin="miter"/>
<path d="M592.2 1357.4L600.5 1371.7L583.9 1371.7Z" fill="#f3857a" stroke-linejoin="miter"/>
<path d="M364.8 1358.4L373.1 1372.8L356.5 1372.8Z" fill="#f3857a" stroke-linejoin="miter"/>
<circle cx="836.9" cy="1354.1" r="6.30" fill="#5a6ec4"/>
<circle cx="834.9" cy="1366.4" r="6.30" fill="#5a6ec4"/>
<path d="M627.9 1355.1L636.2 1369.4L619.6 1369.4Z" fill="#8cc0ea" stroke-linejoin="miter"/>
<circle cx="803.1" cy="1339.7" r="6.30" fill="#d04b47"/>
<circle cx="873.8" cy="1338.7" r="6.30" fill="#d04b47"/>
<circle cx="906.6" cy="1348.9" r="6.30" fill="#d04b47"/>
<circle cx="798.0" cy="1358.2" r="6.30" fill="#d04b47"/>
<circle cx="805.2" cy="1362.3" r="6.30" fill="#d04b47"/>
<circle cx="826.7" cy="1360.2" r="6.30" fill="#d04b47"/>
<circle cx="763.2" cy="1360.2" r="6.30" fill="#d04b47"/>
<circle cx="769.3" cy="1363.3" r="6.30" fill="#d04b47"/>
<circle cx="750.9" cy="1366.4" r="6.30" fill="#d04b47"/>
<circle cx="729.3" cy="1367.4" r="6.30" fill="#d04b47"/>
<circle cx="706.8" cy="1365.3" r="6.30" fill="#d04b47"/>
<circle cx="701.7" cy="1364.3" r="6.30" fill="#d04b47"/>
<circle cx="693.5" cy="1360.2" r="6.30" fill="#d04b47"/>
<circle cx="657.6" cy="1367.4" r="6.30" fill="#d04b47"/>
<circle cx="633.0" cy="1367.4" r="6.30" fill="#d04b47"/>
<circle cx="619.7" cy="1364.3" r="6.30" fill="#d04b47"/>
<path d="M816.4 1346.9L824.7 1361.2L808.1 1361.2Z" fill="#f3857a" stroke-linejoin="miter"/>
<path d="M789.8 1355.1L798.1 1369.4L781.5 1369.4Z" fill="#f3857a" stroke-linejoin="miter"/>
<path d="M859.5 1336.6L867.8 1351.0L851.2 1351.0Z" fill="#f3857a" stroke-linejoin="miter"/>
<path d="M859.5 1343.8L867.8 1358.2L851.2 1358.2Z" fill="#f3857a" stroke-linejoin="miter"/>
<path d="M861.5 1357.1L869.8 1371.5L853.2 1371.5Z" fill="#f3857a" stroke-linejoin="miter"/>
<path d="M603.3 1355.7L611.6 1370.1L595.0 1370.1Z" fill="#f3857a" stroke-linejoin="miter"/>
<path d="M685.3 1356.1L693.6 1370.5L677.0 1370.5Z" fill="#f3857a" stroke-linejoin="miter"/>
<path d="M711.9 1356.1L720.2 1370.5L703.6 1370.5Z" fill="#f3857a" stroke-linejoin="miter"/>
<path d="M678.1 1358.1L686.4 1372.5L669.8 1372.5Z" fill="#f3857a" stroke-linejoin="miter"/>
<path d="M593.1 1358.1L601.4 1372.5L584.8 1372.5Z" fill="#f3857a" stroke-linejoin="miter"/>
<circle cx="538.7" cy="1027.0" r="6.30" fill="#d04b47"/>
<circle cx="540.2" cy="1130.6" r="6.30" fill="#d04b47"/>
<path d="M475.3 1119.2L483.6 1133.6L467.0 1133.6Z" fill="#f3857a" stroke-linejoin="miter"/>
<path d="M489.5 1180.9L497.8 1195.3L481.2 1195.3Z" fill="#f3857a" stroke-linejoin="miter"/>
</g>
<line x1="244.6" y1="1017.4" x2="244.6" y2="1372.1" stroke="#000" stroke-width="3.3"/>
<line x1="242.9" y1="1370.4" x2="936.9" y2="1370.4" stroke="#000" stroke-width="3.4"/>
<line x1="235.4" y1="1370.4" x2="244.6" y2="1370.4" stroke="#000" stroke-width="2.4"/>
<text x="229.3" y="1381.1" font-size="30" fill="#3b3b3b" text-anchor="end">0</text>
<line x1="235.4" y1="1326.5" x2="244.6" y2="1326.5" stroke="#000" stroke-width="2.4"/>
<text x="229.3" y="1337.2" font-size="30" fill="#3b3b3b" text-anchor="end">5000</text>
<line x1="235.4" y1="1282.6" x2="244.6" y2="1282.6" stroke="#000" stroke-width="2.4"/>
<text x="229.3" y="1293.3" font-size="30" fill="#3b3b3b" text-anchor="end">10000</text>
<line x1="235.4" y1="1238.7" x2="244.6" y2="1238.7" stroke="#000" stroke-width="2.4"/>
<text x="229.3" y="1249.4" font-size="30" fill="#3b3b3b" text-anchor="end">15000</text>
<line x1="235.4" y1="1194.8" x2="244.6" y2="1194.8" stroke="#000" stroke-width="2.4"/>
<text x="229.3" y="1205.5" font-size="30" fill="#3b3b3b" text-anchor="end">20000</text>
<line x1="235.4" y1="1150.8" x2="244.6" y2="1150.8" stroke="#000" stroke-width="2.4"/>
<text x="229.3" y="1161.5" font-size="30" fill="#3b3b3b" text-anchor="end">25000</text>
<line x1="235.4" y1="1106.9" x2="244.6" y2="1106.9" stroke="#000" stroke-width="2.4"/>
<text x="229.3" y="1117.6" font-size="30" fill="#3b3b3b" text-anchor="end">30000</text>
<line x1="235.4" y1="1063.0" x2="244.6" y2="1063.0" stroke="#000" stroke-width="2.4"/>
<text x="229.3" y="1073.7" font-size="30" fill="#3b3b3b" text-anchor="end">35000</text>
<line x1="235.4" y1="1019.1" x2="244.6" y2="1019.1" stroke="#000" stroke-width="2.4"/>
<text x="229.3" y="1029.8" font-size="30" fill="#3b3b3b" text-anchor="end">40000</text>
<line x1="274.4" y1="1370.4" x2="274.4" y2="1379.4" stroke="#000" stroke-width="2.4"/>
<text x="274.9" y="1408.3" font-size="30" fill="#3b3b3b" text-anchor="middle">0.5</text>
<line x1="442.3" y1="1370.4" x2="442.3" y2="1379.4" stroke="#000" stroke-width="2.4"/>
<text x="442.8" y="1408.3" font-size="30" fill="#3b3b3b" text-anchor="middle">1.0</text>
<line x1="610.2" y1="1370.4" x2="610.2" y2="1379.4" stroke="#000" stroke-width="2.4"/>
<text x="610.7" y="1408.3" font-size="30" fill="#3b3b3b" text-anchor="middle">1.5</text>
<line x1="778.1" y1="1370.4" x2="778.1" y2="1379.4" stroke="#000" stroke-width="2.4"/>
<text x="778.6" y="1408.3" font-size="30" fill="#3b3b3b" text-anchor="middle">2.0</text>
<line x1="778.1" y1="1017.0" x2="778.1" y2="1370.4" stroke="#000" stroke-width="3.6" stroke-dasharray="14.5 13.8"/>
<text x="591.0" y="1449.0" font-size="33" fill="#000" text-anchor="middle" textLength="100.0" lengthAdjust="spacingAndGlyphs">MAPD</text>
<text x="51.5" y="1200.3" font-size="36" fill="#000" text-anchor="middle" textLength="312.0" lengthAdjust="spacingAndGlyphs" transform="rotate(-90 51.5 1200.3)">Signature SBS scE</text>
<text x="90.5" y="1193.6" font-size="36" fill="#000" text-anchor="middle" textLength="229.0" lengthAdjust="spacingAndGlyphs" transform="rotate(-90 90.5 1193.6)">contribution to</text>
<text x="130.1" y="1189.0" font-size="36" fill="#000" text-anchor="middle" textLength="373.0" lengthAdjust="spacingAndGlyphs" transform="rotate(-90 130.1 1189.0)">somatic SNVs / neuron</text>
<g stroke="#000" stroke-width="2.0" clip-path="url(#clipe)">
<circle cx="1304.8" cy="1366.6" r="6.30" fill="#5a6ec4"/>
<circle cx="1329.4" cy="1357.4" r="6.30" fill="#5a6ec4"/>
<circle cx="1319.2" cy="1361.5" r="6.30" fill="#5a6ec4"/>
<circle cx="1405.2" cy="1363.5" r="6.30" fill="#5a6ec4"/>
<circle cx="1413.4" cy="1363.5" r="6.30" fill="#5a6ec4"/>
<circle cx="1421.6" cy="1360.5" r="6.30" fill="#5a6ec4"/>
<circle cx="1431.9" cy="1365.6" r="6.30" fill="#5a6ec4"/>
<circle cx="1515.9" cy="1365.6" r="6.30" fill="#5a6ec4"/>
<circle cx="1567.1" cy="1360.5" r="6.30" fill="#5a6ec4"/>
<circle cx="1337.6" cy="1364.5" r="6.30" fill="#5a6ec4"/>
<circle cx="1393.0" cy="1366.6" r="6.30" fill="#5a6ec4"/>
<circle cx="1505.7" cy="1366.6" r="6.30" fill="#5a6ec4"/>
<circle cx="1621.9" cy="1365.0" r="6.30" fill="#5a6ec4"/>
<circle cx="1728.1" cy="1347.7" r="6.30" fill="#5a6ec4"/>
<circle cx="1865.6" cy="1343.3" r="6.30" fill="#5a6ec4"/>
<circle cx="1865.6" cy="1354.2" r="6.30" fill="#5a6ec4"/>
<circle cx="1870.0" cy="1348.7" r="6.30" fill="#5a6ec4"/>
<path d="M1343.8 1356.3L1352.1 1370.7L1335.5 1370.7Z" fill="#8cc0ea" stroke-linejoin="miter"/>
<path d="M1355.0 1353.3L1363.3 1367.6L1346.7 1367.6Z" fill="#8cc0ea" stroke-linejoin="miter"/>
<path d="M1366.3 1356.3L1374.6 1370.7L1358.0 1370.7Z" fill="#8cc0ea" stroke-linejoin="miter"/>
<path d="M1450.3 1358.4L1458.6 1372.8L1442.0 1372.8Z" fill="#8cc0ea" stroke-linejoin="miter"/>
<path d="M1536.4 1352.2L1544.7 1366.6L1528.1 1366.6Z" fill="#8cc0ea" stroke-linejoin="miter"/>
<path d="M1679.3 1341.6L1687.6 1355.9L1671.0 1355.9Z" fill="#8cc0ea" stroke-linejoin="miter"/>
<path d="M1691.2 1347.0L1699.5 1361.3L1682.9 1361.3Z" fill="#8cc0ea" stroke-linejoin="miter"/>
<path d="M1799.6 1343.7L1807.9 1358.1L1791.3 1358.1Z" fill="#8cc0ea" stroke-linejoin="miter"/>
<circle cx="1384.8" cy="1361.5" r="6.30" fill="#d04b47"/>
<circle cx="1390.9" cy="1365.6" r="6.30" fill="#d04b47"/>
<circle cx="1397.0" cy="1363.5" r="6.30" fill="#d04b47"/>
<circle cx="1440.1" cy="1358.4" r="6.30" fill="#d04b47"/>
<circle cx="1436.0" cy="1366.6" r="6.30" fill="#d04b47"/>
<circle cx="1467.7" cy="1359.4" r="6.30" fill="#d04b47"/>
<circle cx="1475.9" cy="1357.4" r="6.30" fill="#d04b47"/>
<circle cx="1503.6" cy="1357.4" r="6.30" fill="#d04b47"/>
<circle cx="1528.2" cy="1361.5" r="6.30" fill="#d04b47"/>
<circle cx="1551.8" cy="1365.6" r="6.30" fill="#d04b47"/>
<circle cx="1566.1" cy="1365.6" r="6.30" fill="#d04b47"/>
<circle cx="1606.1" cy="1361.5" r="6.30" fill="#d04b47"/>
<circle cx="1577.4" cy="1363.5" r="6.30" fill="#d04b47"/>
<circle cx="1575.3" cy="1304.1" r="6.30" fill="#d04b47"/>
<circle cx="1639.2" cy="1365.0" r="6.30" fill="#d04b47"/>
<circle cx="1649.0" cy="1366.1" r="6.30" fill="#d04b47"/>
<circle cx="1656.6" cy="1362.8" r="6.30" fill="#d04b47"/>
<circle cx="1669.6" cy="1356.3" r="6.30" fill="#d04b47"/>
<circle cx="1679.3" cy="1363.9" r="6.30" fill="#d04b47"/>
<circle cx="1690.2" cy="1363.9" r="6.30" fill="#d04b47"/>
<circle cx="1705.3" cy="1362.8" r="6.30" fill="#d04b47"/>
<circle cx="1716.2" cy="1363.9" r="6.30" fill="#d04b47"/>
<circle cx="1727.0" cy="1361.7" r="6.30" fill="#d04b47"/>
<circle cx="1735.6" cy="1362.8" r="6.30" fill="#d04b47"/>
<circle cx="1758.4" cy="1355.2" r="6.30" fill="#d04b47"/>
<circle cx="1782.2" cy="1357.4" r="6.30" fill="#d04b47"/>
<circle cx="1798.5" cy="1357.4" r="6.30" fill="#d04b47"/>
<circle cx="1799.6" cy="1342.2" r="6.30" fill="#d04b47"/>
<circle cx="1829.9" cy="1352.0" r="6.30" fill="#d04b47"/>
<circle cx="1837.5" cy="1349.8" r="6.30" fill="#d04b47"/>
<circle cx="1857.0" cy="1356.3" r="6.30" fill="#d04b47"/>
<circle cx="1831.0" cy="1365.0" r="6.30" fill="#d04b47"/>
<circle cx="1905.7" cy="1348.7" r="6.30" fill="#d04b47"/>
<circle cx="1938.2" cy="1321.7" r="6.30" fill="#d04b47"/>
<path d="M1311.0 1358.4L1319.3 1372.8L1302.7 1372.8Z" fill="#f3857a" stroke-linejoin="miter"/>
<path d="M1323.3 1358.4L1331.6 1372.8L1315.0 1372.8Z" fill="#f3857a" stroke-linejoin="miter"/>
<path d="M1374.5 1358.4L1382.8 1372.8L1366.2 1372.8Z" fill="#f3857a" stroke-linejoin="miter"/>
<path d="M1458.5 1338.9L1466.8 1353.3L1450.2 1353.3Z" fill="#f3857a" stroke-linejoin="miter"/>
<path d="M1469.8 1342.0L1478.1 1356.4L1461.5 1356.4Z" fill="#f3857a" stroke-linejoin="miter"/>
<path d="M1486.2 1348.1L1494.5 1362.5L1477.9 1362.5Z" fill="#f3857a" stroke-linejoin="miter"/>
<path d="M1492.3 1342.0L1500.6 1356.4L1484.0 1356.4Z" fill="#f3857a" stroke-linejoin="miter"/>
<path d="M1509.8 1332.8L1518.1 1347.1L1501.5 1347.1Z" fill="#f3857a" stroke-linejoin="miter"/>
<path d="M1519.0 1346.1L1527.3 1360.5L1510.7 1360.5Z" fill="#f3857a" stroke-linejoin="miter"/>
<path d="M1452.4 1348.1L1460.7 1362.5L1444.1 1362.5Z" fill="#f3857a" stroke-linejoin="miter"/>
<path d="M1481.1 1358.4L1489.4 1372.8L1472.8 1372.8Z" fill="#f3857a" stroke-linejoin="miter"/>
<path d="M1495.4 1358.4L1503.7 1372.8L1487.1 1372.8Z" fill="#f3857a" stroke-linejoin="miter"/>
<path d="M1542.5 1358.4L1550.8 1372.8L1534.2 1372.8Z" fill="#f3857a" stroke-linejoin="miter"/>
<path d="M1587.6 1351.2L1595.9 1365.6L1579.3 1365.6Z" fill="#f3857a" stroke-linejoin="miter"/>
<path d="M1603.0 1346.1L1611.3 1360.5L1594.7 1360.5Z" fill="#f3857a" stroke-linejoin="miter"/>
<path d="M1581.5 1348.1L1589.8 1362.5L1573.2 1362.5Z" fill="#f3857a" stroke-linejoin="miter"/>
<path d="M1466.7 1358.4L1475.0 1372.8L1458.4 1372.8Z" fill="#f3857a" stroke-linejoin="miter"/>
<path d="M1629.5 1341.6L1637.8 1355.9L1621.2 1355.9Z" fill="#f3857a" stroke-linejoin="miter"/>
<path d="M1623.0 1345.9L1631.3 1360.3L1614.7 1360.3Z" fill="#f3857a" stroke-linejoin="miter"/>
<path d="M1646.8 1350.2L1655.1 1364.6L1638.5 1364.6Z" fill="#f3857a" stroke-linejoin="miter"/>
<path d="M1727.0 1343.7L1735.3 1358.1L1718.7 1358.1Z" fill="#f3857a" stroke-linejoin="miter"/>
<path d="M1744.3 1343.7L1752.6 1358.1L1736.0 1358.1Z" fill="#f3857a" stroke-linejoin="miter"/>
<path d="M1806.1 1335.1L1814.4 1349.4L1797.8 1349.4Z" fill="#f3857a" stroke-linejoin="miter"/>
<path d="M1822.3 1350.2L1830.6 1364.6L1814.0 1364.6Z" fill="#f3857a" stroke-linejoin="miter"/>
<path d="M1838.6 1351.3L1846.9 1365.7L1830.3 1365.7Z" fill="#f3857a" stroke-linejoin="miter"/>
<path d="M1849.4 1344.8L1857.7 1359.2L1841.1 1359.2Z" fill="#f3857a" stroke-linejoin="miter"/>
<path d="M1891.6 1321.0L1899.9 1335.4L1883.3 1335.4Z" fill="#f3857a" stroke-linejoin="miter"/>
<path d="M1890.5 1350.2L1898.8 1364.6L1882.2 1364.6Z" fill="#f3857a" stroke-linejoin="miter"/>
<path d="M1718.3 1348.1L1726.6 1362.4L1710.0 1362.4Z" fill="#f3857a" stroke-linejoin="miter"/>
<path d="M1656.6 1351.3L1664.9 1365.7L1648.3 1365.7Z" fill="#f3857a" stroke-linejoin="miter"/>
<path d="M1615.4 1356.7L1623.7 1371.1L1607.1 1371.1Z" fill="#f3857a" stroke-linejoin="miter"/>
<circle cx="1563.4" cy="1291.5" r="6.30" fill="#d04b47"/>
<circle cx="1575.1" cy="1304.3" r="6.30" fill="#d04b47"/>
</g>
<line x1="1275.9" y1="1017.4" x2="1275.9" y2="1372.1" stroke="#000" stroke-width="3.3"/>
<line x1="1274.2" y1="1370.4" x2="1969.4" y2="1370.4" stroke="#000" stroke-width="3.4"/>
<line x1="1266.7" y1="1370.4" x2="1275.9" y2="1370.4" stroke="#000" stroke-width="2.4"/>
<text x="1261.1" y="1381.1" font-size="30" fill="#3b3b3b" text-anchor="end">0</text>
<line x1="1266.7" y1="1326.5" x2="1275.9" y2="1326.5" stroke="#000" stroke-width="2.4"/>
<text x="1261.1" y="1337.2" font-size="30" fill="#3b3b3b" text-anchor="end">5000</text>
<line x1="1266.7" y1="1282.6" x2="1275.9" y2="1282.6" stroke="#000" stroke-width="2.4"/>
<text x="1261.1" y="1293.3" font-size="30" fill="#3b3b3b" text-anchor="end">10000</text>
<line x1="1266.7" y1="1238.7" x2="1275.9" y2="1238.7" stroke="#000" stroke-width="2.4"/>
<text x="1261.1" y="1249.4" font-size="30" fill="#3b3b3b" text-anchor="end">15000</text>
<line x1="1266.7" y1="1194.8" x2="1275.9" y2="1194.8" stroke="#000" stroke-width="2.4"/>
<text x="1261.1" y="1205.5" font-size="30" fill="#3b3b3b" text-anchor="end">20000</text>
<line x1="1266.7" y1="1150.8" x2="1275.9" y2="1150.8" stroke="#000" stroke-width="2.4"/>
<text x="1261.1" y="1161.5" font-size="30" fill="#3b3b3b" text-anchor="end">25000</text>
<line x1="1266.7" y1="1106.9" x2="1275.9" y2="1106.9" stroke="#000" stroke-width="2.4"/>
<text x="1261.1" y="1117.6" font-size="30" fill="#3b3b3b" text-anchor="end">30000</text>
<line x1="1266.7" y1="1063.0" x2="1275.9" y2="1063.0" stroke="#000" stroke-width="2.4"/>
<text x="1261.1" y="1073.7" font-size="30" fill="#3b3b3b" text-anchor="end">35000</text>
<line x1="1266.7" y1="1019.1" x2="1275.9" y2="1019.1" stroke="#000" stroke-width="2.4"/>
<text x="1261.1" y="1029.8" font-size="30" fill="#3b3b3b" text-anchor="end">40000</text>
<line x1="1304.4" y1="1370.4" x2="1304.4" y2="1379.4" stroke="#000" stroke-width="2.4"/>
<text x="1304.9" y="1408.3" font-size="30" fill="#3b3b3b" text-anchor="middle">0.5</text>
<line x1="1473.0" y1="1370.4" x2="1473.0" y2="1379.4" stroke="#000" stroke-width="2.4"/>
<text x="1473.5" y="1408.3" font-size="30" fill="#3b3b3b" text-anchor="middle">1.0</text>
<line x1="1641.6" y1="1370.4" x2="1641.6" y2="1379.4" stroke="#000" stroke-width="2.4"/>
<text x="1642.1" y="1408.3" font-size="30" fill="#3b3b3b" text-anchor="middle">1.5</text>
<line x1="1810.2" y1="1370.4" x2="1810.2" y2="1379.4" stroke="#000" stroke-width="2.4"/>
<text x="1810.7" y="1408.3" font-size="30" fill="#3b3b3b" text-anchor="middle">2.0</text>
<text x="1622.8" y="1449.0" font-size="33" fill="#000" text-anchor="middle" textLength="100.0" lengthAdjust="spacingAndGlyphs">MAPD</text>
<text x="1082.5" y="1201.2" font-size="36" fill="#000" text-anchor="middle" textLength="311.0" lengthAdjust="spacingAndGlyphs" transform="rotate(-90 1082.5 1201.2)">Signature SBS scF</text>
<text x="1122.3" y="1194.0" font-size="36" fill="#000" text-anchor="middle" textLength="228.0" lengthAdjust="spacingAndGlyphs" transform="rotate(-90 1122.3 1194.0)">contribution to</text>
<text x="1161.2" y="1189.0" font-size="36" fill="#000" text-anchor="middle" textLength="373.0" lengthAdjust="spacingAndGlyphs" transform="rotate(-90 1161.2 1189.0)">somatic SNVs / neuron</text>
<text x="0.0" y="1557.0" font-size="50" fill="#000" font-weight="bold">f</text>
<text x="745.0" y="1554.4" font-size="33" fill="#000" text-anchor="middle" font-weight="bold" textLength="474.0" lengthAdjust="spacingAndGlyphs">Detection of true somatic SNV</text>
<text x="1244.5" y="1533.3" font-size="33" fill="#000" text-anchor="middle" font-weight="bold" textLength="424.0" lengthAdjust="spacingAndGlyphs">Single strand DNA damage</text>
<text x="1244.5" y="1574.9" font-size="33" fill="#000" text-anchor="middle" font-weight="bold" textLength="441.0" lengthAdjust="spacingAndGlyphs">correctly not called as sSNV</text>
<text x="1730.3" y="1533.6" font-size="33" fill="#000" text-anchor="middle" font-weight="bold" textLength="217.0" lengthAdjust="spacingAndGlyphs">False positive</text>
<text x="1729.8" y="1574.3" font-size="33" fill="#000" text-anchor="middle" font-weight="bold" textLength="344.0" lengthAdjust="spacingAndGlyphs">due to strand dropout</text>
<text x="116.2" y="1676.4" font-size="32.5" fill="#000" text-anchor="middle" font-weight="bold" textLength="168.0" lengthAdjust="spacingAndGlyphs">Single Cell</text>
<text x="117.0" y="1719.1" font-size="32.5" fill="#000" text-anchor="middle" font-weight="bold" textLength="131.0" lengthAdjust="spacingAndGlyphs">Genome</text>
<text x="127.4" y="1861.8" font-size="32.5" fill="#000" text-anchor="middle" font-weight="bold" textLength="186.0" lengthAdjust="spacingAndGlyphs">Sequencing</text>
<text x="127.3" y="1902.8" font-size="32.5" fill="#000" text-anchor="middle" font-weight="bold" textLength="98.0" lengthAdjust="spacingAndGlyphs">Reads</text>
<text x="272.7" y="1634.4" font-size="26" fill="#000" text-anchor="middle" textLength="98.0" lengthAdjust="spacingAndGlyphs">Paternal</text>
<text x="273.5" y="1668.5" font-size="26" fill="#000" text-anchor="middle" textLength="64.5" lengthAdjust="spacingAndGlyphs">Allele</text>
<text x="271.9" y="1711.2" font-size="26" fill="#000" text-anchor="middle" textLength="103.0" lengthAdjust="spacingAndGlyphs">Maternal</text>
<text x="271.9" y="1744.4" font-size="26" fill="#000" text-anchor="middle" textLength="64.5" lengthAdjust="spacingAndGlyphs">Allele</text>
<text x="352.0" y="1636.9" font-size="26.3" fill="#000" textLength="171.0" lengthAdjust="spacingAndGlyphs">Watson strand</text>
<text x="353.6" y="1670.1" font-size="26.3" fill="#000" textLength="141.0" lengthAdjust="spacingAndGlyphs">Crick strand</text>
<text x="353.0" y="1712.8" font-size="26.3" fill="#000" textLength="171.0" lengthAdjust="spacingAndGlyphs">Watson strand</text>
<text x="355.2" y="1743.5" font-size="26.3" fill="#000" textLength="140.0" lengthAdjust="spacingAndGlyphs">Crick strand</text>
<g fill="none" stroke="#000" stroke-width="1.7">
<path d="M237.7 1609.5 Q208.7 1609.5 208.7 1614 L208.7 1748 Q208.7 1752.5 237.7 1752.5"/>
<path d="M351 1616.4 Q333.5 1616.4 333.5 1619 L333.5 1671.5 Q333.5 1674.2 351 1674.2"/>
<path d="M349.5 1689 Q332 1689 332 1691.5 L332 1744 Q332 1746.6 349.5 1746.6"/>
<path d="M241.8 1771 Q231.3 1771 231.3 1774 L231.3 1940.7 Q231.3 1943.7 241.8 1943.7"/>
</g>
<path d="M535.2 1620.6 C539.9 1619.9 546.5 1616.5 563.2 1616.6 C579.9 1616.7 609.0 1619.2 635.2 1621.1 C661.4 1623.0 689.4 1627.5 720.2 1628.0 C751.0 1628.5 789.7 1623.9 820.2 1624.0 C850.7 1624.1 880.3 1629.5 903.2 1628.8 C926.1 1628.1 948.6 1621.1 957.7 1619.6 L957.7 1636.1 C948.6 1637.6 926.1 1644.6 903.2 1645.3 C880.3 1646.0 850.7 1640.6 820.2 1640.5 C789.7 1640.4 751.0 1645.0 720.2 1644.5 C689.4 1644.0 661.4 1639.5 635.2 1637.6 C609.0 1635.7 579.9 1633.2 563.2 1633.1 C546.5 1633.0 539.9 1636.4 535.2 1637.1 Z" fill="#f7e8d5" stroke="none"/>
<path d="M535.2 1620.6 C539.9 1619.9 546.5 1616.5 563.2 1616.6 C579.9 1616.7 609.0 1619.2 635.2 1621.1 C661.4 1623.0 689.4 1627.5 720.2 1628.0 C751.0 1628.5 789.7 1623.9 820.2 1624.0 C850.7 1624.1 880.3 1629.5 903.2 1628.8 C926.1 1628.1 948.6 1621.1 957.7 1619.6" fill="none" stroke="#000" stroke-width="3"/>
<path d="M535.2 1637.1 C539.9 1636.4 546.5 1633.0 563.2 1633.1 C579.9 1633.2 609.0 1635.7 635.2 1637.6 C661.4 1639.5 689.4 1644.0 720.2 1644.5 C751.0 1645.0 789.7 1640.4 820.2 1640.5 C850.7 1640.6 880.3 1646.0 903.2 1645.3 C926.1 1644.6 948.6 1637.6 957.7 1636.1" fill="none" stroke="#000" stroke-width="3"/>
<path d="M535.2 1648.9 C539.9 1648.2 546.5 1644.8 563.2 1644.9 C579.9 1645.0 609.0 1647.5 635.2 1649.4 C661.4 1651.3 689.4 1655.8 720.2 1656.3 C751.0 1656.8 789.7 1652.2 820.2 1652.3 C850.7 1652.4 880.3 1657.8 903.2 1657.1 C926.1 1656.4 948.6 1649.4 957.7 1647.9 L957.7 1664.4 C948.6 1665.9 926.1 1672.9 903.2 1673.6 C880.3 1674.3 850.7 1668.9 820.2 1668.8 C789.7 1668.7 751.0 1673.3 720.2 1672.8 C689.4 1672.3 661.4 1667.8 635.2 1665.9 C609.0 1664.0 579.9 1661.5 563.2 1661.4 C546.5 1661.3 539.9 1664.7 535.2 1665.4 Z" fill="#f7e8d5" stroke="none"/>
<path d="M535.2 1648.9 C539.9 1648.2 546.5 1644.8 563.2 1644.9 C579.9 1645.0 609.0 1647.5 635.2 1649.4 C661.4 1651.3 689.4 1655.8 720.2 1656.3 C751.0 1656.8 789.7 1652.2 820.2 1652.3 C850.7 1652.4 880.3 1657.8 903.2 1657.1 C926.1 1656.4 948.6 1649.4 957.7 1647.9" fill="none" stroke="#000" stroke-width="3"/>
<path d="M535.2 1665.4 C539.9 1664.7 546.5 1661.3 563.2 1661.4 C579.9 1661.5 609.0 1664.0 635.2 1665.9 C661.4 1667.8 689.4 1672.3 720.2 1672.8 C751.0 1673.3 789.7 1668.7 820.2 1668.8 C850.7 1668.9 880.3 1674.3 903.2 1673.6 C926.1 1672.9 948.6 1665.9 957.7 1664.4" fill="none" stroke="#000" stroke-width="3"/>
<path d="M535.2 1699.2 C539.9 1698.5 546.5 1695.1 563.2 1695.2 C579.9 1695.3 609.0 1697.8 635.2 1699.7 C661.4 1701.6 689.4 1706.1 720.2 1706.6 C751.0 1707.1 789.7 1702.5 820.2 1702.6 C850.7 1702.7 880.3 1708.1 903.2 1707.4 C926.1 1706.7 948.6 1699.7 957.7 1698.2 L957.7 1714.7 C948.6 1716.2 926.1 1723.2 903.2 1723.9 C880.3 1724.6 850.7 1719.2 820.2 1719.1 C789.7 1719.0 751.0 1723.6 720.2 1723.1 C689.4 1722.6 661.4 1718.1 635.2 1716.2 C609.0 1714.3 579.9 1711.8 563.2 1711.7 C546.5 1711.6 539.9 1715.0 535.2 1715.7 Z" fill="#f7e8d5" stroke="none"/>
<path d="M535.2 1699.2 C539.9 1698.5 546.5 1695.1 563.2 1695.2 C579.9 1695.3 609.0 1697.8 635.2 1699.7 C661.4 1701.6 689.4 1706.1 720.2 1706.6 C751.0 1707.1 789.7 1702.5 820.2 1702.6 C850.7 1702.7 880.3 1708.1 903.2 1707.4 C926.1 1706.7 948.6 1699.7 957.7 1698.2" fill="none" stroke="#000" stroke-width="3"/>
<path d="M535.2 1715.7 C539.9 1715.0 546.5 1711.6 563.2 1711.7 C579.9 1711.8 609.0 1714.3 635.2 1716.2 C661.4 1718.1 689.4 1722.6 720.2 1723.1 C751.0 1723.6 789.7 1719.0 820.2 1719.1 C850.7 1719.2 880.3 1724.6 903.2 1723.9 C926.1 1723.2 948.6 1716.2 957.7 1714.7" fill="none" stroke="#000" stroke-width="3"/>
<path d="M535.2 1726.2 C539.9 1725.5 546.5 1722.1 563.2 1722.2 C579.9 1722.3 609.0 1724.8 635.2 1726.7 C661.4 1728.6 689.4 1733.1 720.2 1733.6 C751.0 1734.1 789.7 1729.5 820.2 1729.6 C850.7 1729.7 880.3 1735.1 903.2 1734.4 C926.1 1733.7 948.6 1726.7 957.7 1725.2 L957.7 1741.7 C948.6 1743.2 926.1 1750.2 903.2 1750.9 C880.3 1751.6 850.7 1746.2 820.2 1746.1 C789.7 1746.0 751.0 1750.6 720.2 1750.1 C689.4 1749.6 661.4 1745.1 635.2 1743.2 C609.0 1741.3 579.9 1738.8 563.2 1738.7 C546.5 1738.6 539.9 1742.0 535.2 1742.7 Z" fill="#f7e8d5" stroke="none"/>
<path d="M535.2 1726.2 C539.9 1725.5 546.5 1722.1 563.2 1722.2 C579.9 1722.3 609.0 1724.8 635.2 1726.7 C661.4 1728.6 689.4 1733.1 720.2 1733.6 C751.0 1734.1 789.7 1729.5 820.2 1729.6 C850.7 1729.7 880.3 1735.1 903.2 1734.4 C926.1 1733.7 948.6 1726.7 957.7 1725.2" fill="none" stroke="#000" stroke-width="3"/>
<path d="M535.2 1742.7 C539.9 1742.0 546.5 1738.6 563.2 1738.7 C579.9 1738.8 609.0 1741.3 635.2 1743.2 C661.4 1745.1 689.4 1749.6 720.2 1750.1 C751.0 1750.6 789.7 1746.0 820.2 1746.1 C850.7 1746.2 880.3 1751.6 903.2 1750.9 C926.1 1750.2 948.6 1743.2 957.7 1741.7" fill="none" stroke="#000" stroke-width="3"/>
<path d="M615.5 1619.9 L648.8 1622.2 L648.8 1638.7 L615.5 1636.4 Z" fill="#14ad3d" stroke="#000" stroke-width="3"/>
<path d="M613.5 1648.0 L646.5 1650.3 L646.5 1666.8 L613.5 1664.5 Z" fill="#14ad3d" stroke="#000" stroke-width="3"/>
<path d="M796.6 1624.9 L829.0 1624.5 L829.0 1641.0 L796.6 1641.4 Z" fill="#dc3327" stroke="#000" stroke-width="3"/>
<path d="M796.6 1653.2 L829.7 1652.8 L829.7 1669.3 L796.6 1669.7 Z" fill="#dc3327" stroke="#000" stroke-width="3"/>
<line x1="626.3" y1="1638.5" x2="626.3" y2="1649.0" stroke="#000" stroke-width="2.8" stroke-dasharray="3 3"/>
<line x1="635.5" y1="1638.5" x2="635.5" y2="1649.0" stroke="#000" stroke-width="2.8" stroke-dasharray="3 3"/>
<line x1="808.2" y1="1641.5" x2="808.2" y2="1652.5" stroke="#000" stroke-width="2.8" stroke-dasharray="3 3"/>
<line x1="818.0" y1="1641.5" x2="818.0" y2="1652.5" stroke="#000" stroke-width="2.8" stroke-dasharray="3 3"/>
<path d="M1026.4 1617.0 C1035.2 1615.8 1057.5 1610.2 1079.2 1610.0 C1100.9 1609.8 1128.5 1615.8 1156.4 1615.7 C1184.3 1615.6 1219.7 1609.6 1246.4 1609.3 C1273.1 1609.0 1291.9 1611.9 1316.4 1613.7 C1340.9 1615.5 1371.5 1620.0 1393.4 1620.3 C1415.3 1620.6 1438.8 1616.5 1447.9 1615.7 L1447.9 1632.2 C1438.8 1633.0 1415.3 1637.1 1393.4 1636.8 C1371.5 1636.5 1340.9 1632.0 1316.4 1630.2 C1291.9 1628.4 1273.1 1625.5 1246.4 1625.8 C1219.7 1626.1 1184.3 1632.1 1156.4 1632.2 C1128.5 1632.3 1100.9 1626.3 1079.2 1626.5 C1057.5 1626.7 1035.2 1632.3 1026.4 1633.5 Z" fill="#f7e8d5" stroke="none"/>
<path d="M1026.4 1617.0 C1035.2 1615.8 1057.5 1610.2 1079.2 1610.0 C1100.9 1609.8 1128.5 1615.8 1156.4 1615.7 C1184.3 1615.6 1219.7 1609.6 1246.4 1609.3 C1273.1 1609.0 1291.9 1611.9 1316.4 1613.7 C1340.9 1615.5 1371.5 1620.0 1393.4 1620.3 C1415.3 1620.6 1438.8 1616.5 1447.9 1615.7" fill="none" stroke="#000" stroke-width="3"/>
<path d="M1026.4 1633.5 C1035.2 1632.3 1057.5 1626.7 1079.2 1626.5 C1100.9 1626.3 1128.5 1632.3 1156.4 1632.2 C1184.3 1632.1 1219.7 1626.1 1246.4 1625.8 C1273.1 1625.5 1291.9 1628.4 1316.4 1630.2 C1340.9 1632.0 1371.5 1636.5 1393.4 1636.8 C1415.3 1637.1 1438.8 1633.0 1447.9 1632.2" fill="none" stroke="#000" stroke-width="3"/>
<path d="M1026.4 1644.1 C1035.2 1642.9 1057.5 1637.3 1079.2 1637.1 C1100.9 1636.9 1128.5 1642.9 1156.4 1642.8 C1184.3 1642.7 1219.7 1636.7 1246.4 1636.4 C1273.1 1636.1 1291.9 1639.0 1316.4 1640.8 C1340.9 1642.6 1371.5 1647.1 1393.4 1647.4 C1415.3 1647.7 1438.8 1643.6 1447.9 1642.8 L1447.9 1659.3 C1438.8 1660.1 1415.3 1664.2 1393.4 1663.9 C1371.5 1663.6 1340.9 1659.1 1316.4 1657.3 C1291.9 1655.5 1273.1 1652.6 1246.4 1652.9 C1219.7 1653.2 1184.3 1659.2 1156.4 1659.3 C1128.5 1659.4 1100.9 1653.4 1079.2 1653.6 C1057.5 1653.8 1035.2 1659.4 1026.4 1660.6 Z" fill="#f7e8d5" stroke="none"/>
<path d="M1026.4 1644.1 C1035.2 1642.9 1057.5 1637.3 1079.2 1637.1 C1100.9 1636.9 1128.5 1642.9 1156.4 1642.8 C1184.3 1642.7 1219.7 1636.7 1246.4 1636.4 C1273.1 1636.1 1291.9 1639.0 1316.4 1640.8 C1340.9 1642.6 1371.5 1647.1 1393.4 1647.4 C1415.3 1647.7 1438.8 1643.6 1447.9 1642.8" fill="none" stroke="#000" stroke-width="3"/>
<path d="M1026.4 1660.6 C1035.2 1659.4 1057.5 1653.8 1079.2 1653.6 C1100.9 1653.4 1128.5 1659.4 1156.4 1659.3 C1184.3 1659.2 1219.7 1653.2 1246.4 1652.9 C1273.1 1652.6 1291.9 1655.5 1316.4 1657.3 C1340.9 1659.1 1371.5 1663.6 1393.4 1663.9 C1415.3 1664.2 1438.8 1660.1 1447.9 1659.3" fill="none" stroke="#000" stroke-width="3"/>
<path d="M1026.4 1694.3 C1035.2 1693.1 1057.5 1687.5 1079.2 1687.3 C1100.9 1687.1 1128.5 1693.1 1156.4 1693.0 C1184.3 1692.9 1219.7 1686.9 1246.4 1686.6 C1273.1 1686.3 1291.9 1689.2 1316.4 1691.0 C1340.9 1692.8 1371.5 1697.3 1393.4 1697.6 C1415.3 1697.9 1438.8 1693.8 1447.9 1693.0 L1447.9 1709.5 C1438.8 1710.3 1415.3 1714.4 1393.4 1714.1 C1371.5 1713.8 1340.9 1709.3 1316.4 1707.5 C1291.9 1705.7 1273.1 1702.8 1246.4 1703.1 C1219.7 1703.4 1184.3 1709.4 1156.4 1709.5 C1128.5 1709.6 1100.9 1703.6 1079.2 1703.8 C1057.5 1704.0 1035.2 1709.6 1026.4 1710.8 Z" fill="#f7e8d5" stroke="none"/>
<path d="M1026.4 1694.3 C1035.2 1693.1 1057.5 1687.5 1079.2 1687.3 C1100.9 1687.1 1128.5 1693.1 1156.4 1693.0 C1184.3 1692.9 1219.7 1686.9 1246.4 1686.6 C1273.1 1686.3 1291.9 1689.2 1316.4 1691.0 C1340.9 1692.8 1371.5 1697.3 1393.4 1697.6 C1415.3 1697.9 1438.8 1693.8 1447.9 1693.0" fill="none" stroke="#000" stroke-width="3"/>
<path d="M1026.4 1710.8 C1035.2 1709.6 1057.5 1704.0 1079.2 1703.8 C1100.9 1703.6 1128.5 1709.6 1156.4 1709.5 C1184.3 1709.4 1219.7 1703.4 1246.4 1703.1 C1273.1 1702.8 1291.9 1705.7 1316.4 1707.5 C1340.9 1709.3 1371.5 1713.8 1393.4 1714.1 C1415.3 1714.4 1438.8 1710.3 1447.9 1709.5" fill="none" stroke="#000" stroke-width="3"/>
<path d="M1026.4 1721.4 C1035.2 1720.2 1057.5 1714.6 1079.2 1714.4 C1100.9 1714.2 1128.5 1720.2 1156.4 1720.1 C1184.3 1720.0 1219.7 1714.0 1246.4 1713.7 C1273.1 1713.4 1291.9 1716.3 1316.4 1718.1 C1340.9 1719.9 1371.5 1724.4 1393.4 1724.7 C1415.3 1725.0 1438.8 1720.9 1447.9 1720.1 L1447.9 1736.6 C1438.8 1737.4 1415.3 1741.5 1393.4 1741.2 C1371.5 1740.9 1340.9 1736.4 1316.4 1734.6 C1291.9 1732.8 1273.1 1729.9 1246.4 1730.2 C1219.7 1730.5 1184.3 1736.5 1156.4 1736.6 C1128.5 1736.7 1100.9 1730.7 1079.2 1730.9 C1057.5 1731.1 1035.2 1736.7 1026.4 1737.9 Z" fill="#f7e8d5" stroke="none"/>
<path d="M1026.4 1721.4 C1035.2 1720.2 1057.5 1714.6 1079.2 1714.4 C1100.9 1714.2 1128.5 1720.2 1156.4 1720.1 C1184.3 1720.0 1219.7 1714.0 1246.4 1713.7 C1273.1 1713.4 1291.9 1716.3 1316.4 1718.1 C1340.9 1719.9 1371.5 1724.4 1393.4 1724.7 C1415.3 1725.0 1438.8 1720.9 1447.9 1720.1" fill="none" stroke="#000" stroke-width="3"/>
<path d="M1026.4 1737.9 C1035.2 1736.7 1057.5 1731.1 1079.2 1730.9 C1100.9 1730.7 1128.5 1736.7 1156.4 1736.6 C1184.3 1736.5 1219.7 1730.5 1246.4 1730.2 C1273.1 1729.9 1291.9 1732.8 1316.4 1734.6 C1340.9 1736.4 1371.5 1740.9 1393.4 1741.2 C1415.3 1741.5 1438.8 1737.4 1447.9 1736.6" fill="none" stroke="#000" stroke-width="3"/>
<path d="M1121.5 1613.1 L1155.7 1615.6 L1155.7 1632.1 L1121.5 1629.6 Z" fill="#14ad3d" stroke="#000" stroke-width="3"/>
<path d="M1118.6 1640.0 L1152.2 1642.5 L1152.2 1659.0 L1118.6 1656.5 Z" fill="#14ad3d" stroke="#000" stroke-width="3"/>
<path d="M1316.2 1613.7 L1349.8 1616.6 L1349.8 1633.1 L1316.2 1630.2 Z" fill="#9b4fc4" stroke="#000" stroke-width="3"/>
<path d="M1310.3 1640.4 L1344.8 1643.2 L1344.8 1659.7 L1310.3 1656.9 Z" fill="#f7e8d5" stroke="#000" stroke-width="3"/>
<line x1="1130.8" y1="1632.0" x2="1130.8" y2="1642.0" stroke="#000" stroke-width="2.8" stroke-dasharray="3 3"/>
<line x1="1139.8" y1="1632.0" x2="1139.8" y2="1642.0" stroke="#000" stroke-width="2.8" stroke-dasharray="3 3"/>
<line x1="1325.3" y1="1632.0" x2="1325.3" y2="1642.0" stroke="#000" stroke-width="2.8" stroke-dasharray="3 3"/>
<line x1="1333.0" y1="1632.0" x2="1333.0" y2="1642.0" stroke="#000" stroke-width="2.8" stroke-dasharray="3 3"/>
<circle cx="1335.6" cy="1597.7" r="9" fill="url(#glow)"/>
<line x1="1333.8" y1="1613.5" x2="1333.8" y2="1602.9" stroke="#000" stroke-width="1.8"/>
<path d="M1515.5 1613.2 C1520.2 1612.5 1526.8 1609.1 1543.5 1609.2 C1560.2 1609.3 1589.3 1611.8 1615.5 1613.7 C1641.7 1615.6 1669.7 1620.1 1700.5 1620.6 C1731.3 1621.1 1770.0 1616.5 1800.5 1616.6 C1831.0 1616.7 1860.6 1622.1 1883.5 1621.4 C1906.4 1620.7 1928.9 1613.7 1938.0 1612.2 L1938.0 1628.7 C1928.9 1630.2 1906.4 1637.2 1883.5 1637.9 C1860.6 1638.6 1831.0 1633.2 1800.5 1633.1 C1770.0 1633.0 1731.3 1637.6 1700.5 1637.1 C1669.7 1636.6 1641.7 1632.1 1615.5 1630.2 C1589.3 1628.3 1560.2 1625.8 1543.5 1625.7 C1526.8 1625.6 1520.2 1629.0 1515.5 1629.7 Z" fill="#f7e8d5" stroke="none"/>
<path d="M1515.5 1613.2 C1520.2 1612.5 1526.8 1609.1 1543.5 1609.2 C1560.2 1609.3 1589.3 1611.8 1615.5 1613.7 C1641.7 1615.6 1669.7 1620.1 1700.5 1620.6 C1731.3 1621.1 1770.0 1616.5 1800.5 1616.6 C1831.0 1616.7 1860.6 1622.1 1883.5 1621.4 C1906.4 1620.7 1928.9 1613.7 1938.0 1612.2" fill="none" stroke="#000" stroke-width="3"/>
<path d="M1515.5 1629.7 C1520.2 1629.0 1526.8 1625.6 1543.5 1625.7 C1560.2 1625.8 1589.3 1628.3 1615.5 1630.2 C1641.7 1632.1 1669.7 1636.6 1700.5 1637.1 C1731.3 1637.6 1770.0 1633.0 1800.5 1633.1 C1831.0 1633.2 1860.6 1638.6 1883.5 1637.9 C1906.4 1637.2 1928.9 1630.2 1938.0 1628.7" fill="none" stroke="#000" stroke-width="3"/>
<path d="M1515.5 1640.2 C1520.2 1639.5 1526.8 1636.1 1543.5 1636.2 C1560.2 1636.3 1589.3 1638.8 1615.5 1640.7 C1641.7 1642.6 1669.7 1647.1 1700.5 1647.6 C1731.3 1648.1 1770.0 1643.5 1800.5 1643.6 C1831.0 1643.7 1860.6 1649.1 1883.5 1648.4 C1906.4 1647.7 1928.9 1640.7 1938.0 1639.2 L1938.0 1655.7 C1928.9 1657.2 1906.4 1664.2 1883.5 1664.9 C1860.6 1665.6 1831.0 1660.2 1800.5 1660.1 C1770.0 1660.0 1731.3 1664.6 1700.5 1664.1 C1669.7 1663.6 1641.7 1659.1 1615.5 1657.2 C1589.3 1655.3 1560.2 1652.8 1543.5 1652.7 C1526.8 1652.6 1520.2 1656.0 1515.5 1656.7 Z" fill="#f7e8d5" stroke="none"/>
<path d="M1515.5 1640.2 C1520.2 1639.5 1526.8 1636.1 1543.5 1636.2 C1560.2 1636.3 1589.3 1638.8 1615.5 1640.7 C1641.7 1642.6 1669.7 1647.1 1700.5 1647.6 C1731.3 1648.1 1770.0 1643.5 1800.5 1643.6 C1831.0 1643.7 1860.6 1649.1 1883.5 1648.4 C1906.4 1647.7 1928.9 1640.7 1938.0 1639.2" fill="none" stroke="#000" stroke-width="3"/>
<path d="M1515.5 1656.7 C1520.2 1656.0 1526.8 1652.6 1543.5 1652.7 C1560.2 1652.8 1589.3 1655.3 1615.5 1657.2 C1641.7 1659.1 1669.7 1663.6 1700.5 1664.1 C1731.3 1664.6 1770.0 1660.0 1800.5 1660.1 C1831.0 1660.2 1860.6 1665.6 1883.5 1664.9 C1906.4 1664.2 1928.9 1657.2 1938.0 1655.7" fill="none" stroke="#000" stroke-width="3"/>
<path d="M1515.5 1689.2 C1520.2 1688.5 1526.8 1685.1 1543.5 1685.2 C1560.2 1685.3 1589.3 1687.8 1615.5 1689.7 C1641.7 1691.6 1669.7 1696.1 1700.5 1696.6 C1731.3 1697.1 1770.0 1692.5 1800.5 1692.6 C1831.0 1692.7 1860.6 1698.1 1883.5 1697.4 C1906.4 1696.7 1928.9 1689.7 1938.0 1688.2 L1938.0 1704.7 C1928.9 1706.2 1906.4 1713.2 1883.5 1713.9 C1860.6 1714.6 1831.0 1709.2 1800.5 1709.1 C1770.0 1709.0 1731.3 1713.6 1700.5 1713.1 C1669.7 1712.6 1641.7 1708.1 1615.5 1706.2 C1589.3 1704.3 1560.2 1701.8 1543.5 1701.7 C1526.8 1701.6 1520.2 1705.0 1515.5 1705.7 Z" fill="#f7e8d5" stroke="none"/>
<path d="M1515.5 1689.2 C1520.2 1688.5 1526.8 1685.1 1543.5 1685.2 C1560.2 1685.3 1589.3 1687.8 1615.5 1689.7 C1641.7 1691.6 1669.7 1696.1 1700.5 1696.6 C1731.3 1697.1 1770.0 1692.5 1800.5 1692.6 C1831.0 1692.7 1860.6 1698.1 1883.5 1697.4 C1906.4 1696.7 1928.9 1689.7 1938.0 1688.2" fill="none" stroke="#000" stroke-width="3"/>
<path d="M1515.5 1705.7 C1520.2 1705.0 1526.8 1701.6 1543.5 1701.7 C1560.2 1701.8 1589.3 1704.3 1615.5 1706.2 C1641.7 1708.1 1669.7 1712.6 1700.5 1713.1 C1731.3 1713.6 1770.0 1709.0 1800.5 1709.1 C1831.0 1709.2 1860.6 1714.6 1883.5 1713.9 C1906.4 1713.2 1928.9 1706.2 1938.0 1704.7" fill="none" stroke="#000" stroke-width="3"/>
<path d="M1515.5 1716.2 C1520.2 1715.5 1526.8 1712.1 1543.5 1712.2 C1560.2 1712.3 1589.3 1714.8 1615.5 1716.7 C1641.7 1718.6 1669.7 1723.1 1700.5 1723.6 C1731.3 1724.1 1770.0 1719.5 1800.5 1719.6 C1831.0 1719.7 1860.6 1725.1 1883.5 1724.4 C1906.4 1723.7 1928.9 1716.7 1938.0 1715.2 L1938.0 1731.7 C1928.9 1733.2 1906.4 1740.2 1883.5 1740.9 C1860.6 1741.6 1831.0 1736.2 1800.5 1736.1 C1770.0 1736.0 1731.3 1740.6 1700.5 1740.1 C1669.7 1739.6 1641.7 1735.1 1615.5 1733.2 C1589.3 1731.3 1560.2 1728.8 1543.5 1728.7 C1526.8 1728.6 1520.2 1732.0 1515.5 1732.7 Z" fill="#f7e8d5" stroke="none"/>
<path d="M1515.5 1716.2 C1520.2 1715.5 1526.8 1712.1 1543.5 1712.2 C1560.2 1712.3 1589.3 1714.8 1615.5 1716.7 C1641.7 1718.6 1669.7 1723.1 1700.5 1723.6 C1731.3 1724.1 1770.0 1719.5 1800.5 1719.6 C1831.0 1719.7 1860.6 1725.1 1883.5 1724.4 C1906.4 1723.7 1928.9 1716.7 1938.0 1715.2" fill="none" stroke="#000" stroke-width="3"/>
<path d="M1515.5 1732.7 C1520.2 1732.0 1526.8 1728.6 1543.5 1728.7 C1560.2 1728.8 1589.3 1731.3 1615.5 1733.2 C1641.7 1735.1 1669.7 1739.6 1700.5 1740.1 C1731.3 1740.6 1770.0 1736.0 1800.5 1736.1 C1831.0 1736.2 1860.6 1741.6 1883.5 1740.9 C1906.4 1740.2 1928.9 1733.2 1938.0 1731.7" fill="none" stroke="#000" stroke-width="3"/>
<path d="M1615.4 1613.7 L1650.0 1616.5 L1650.0 1633.0 L1615.4 1630.2 Z" fill="#14ad3d" stroke="#000" stroke-width="3"/>
<path d="M1613.3 1640.6 L1647.6 1643.3 L1647.6 1659.8 L1613.3 1657.1 Z" fill="#14ad3d" stroke="#000" stroke-width="3"/>
<path d="M1798.4 1616.7 L1831.5 1618.4 L1831.5 1634.9 L1798.4 1633.2 Z" fill="#9b4fc4" stroke="#000" stroke-width="3"/>
<path d="M1796.0 1643.8 L1830.0 1645.3 L1830.0 1661.8 L1796.0 1660.3 Z" fill="#f7e8d5" stroke="#000" stroke-width="3"/>
<line x1="1626.4" y1="1632.0" x2="1626.4" y2="1642.0" stroke="#000" stroke-width="2.8" stroke-dasharray="3 3"/>
<line x1="1635.7" y1="1632.0" x2="1635.7" y2="1642.0" stroke="#000" stroke-width="2.8" stroke-dasharray="3 3"/>
<line x1="1808.8" y1="1634.0" x2="1808.8" y2="1644.0" stroke="#000" stroke-width="2.8" stroke-dasharray="3 3"/>
<line x1="1817.8" y1="1634.0" x2="1817.8" y2="1644.0" stroke="#000" stroke-width="2.8" stroke-dasharray="3 3"/>
<circle cx="1815.8" cy="1598.2" r="9" fill="url(#glow)"/>
<line x1="1815.3" y1="1614.5" x2="1815.3" y2="1603.0" stroke="#000" stroke-width="1.8"/>
<rect x="968.2" y="1635.4" width="7.0" height="6.2" fill="#000" stroke="none" stroke-width="0"/>
<rect x="981.5" y="1635.4" width="7.0" height="6.2" fill="#000" stroke="none" stroke-width="0"/>
<rect x="994.8" y="1635.4" width="7.0" height="6.2" fill="#000" stroke="none" stroke-width="0"/>
<rect x="1008.1" y="1635.4" width="7.0" height="6.2" fill="#000" stroke="none" stroke-width="0"/>
<rect x="968.2" y="1716.4" width="7.0" height="6.2" fill="#000" stroke="none" stroke-width="0"/>
<rect x="981.5" y="1716.4" width="7.0" height="6.2" fill="#000" stroke="none" stroke-width="0"/>
<rect x="994.8" y="1716.4" width="7.0" height="6.2" fill="#000" stroke="none" stroke-width="0"/>
<rect x="1008.1" y="1716.4" width="7.0" height="6.2" fill="#000" stroke="none" stroke-width="0"/>
<rect x="1459.6" y="1630.9" width="7.0" height="6.2" fill="#000" stroke="none" stroke-width="0"/>
<rect x="1472.9" y="1630.9" width="7.0" height="6.2" fill="#000" stroke="none" stroke-width="0"/>
<rect x="1486.2" y="1630.9" width="7.0" height="6.2" fill="#000" stroke="none" stroke-width="0"/>
<rect x="1499.5" y="1630.9" width="7.0" height="6.2" fill="#000" stroke="none" stroke-width="0"/>
<rect x="1459.6" y="1709.4" width="7.0" height="6.2" fill="#000" stroke="none" stroke-width="0"/>
<rect x="1472.9" y="1709.4" width="7.0" height="6.2" fill="#000" stroke="none" stroke-width="0"/>
<rect x="1486.2" y="1709.4" width="7.0" height="6.2" fill="#000" stroke="none" stroke-width="0"/>
<rect x="1499.5" y="1709.4" width="7.0" height="6.2" fill="#000" stroke="none" stroke-width="0"/>
<rect x="553.8" y="1769.4" width="360.4" height="11.0" fill="#f7e8d5" stroke="none" stroke-width="0"/>
<rect x="613.6" y="1769.4" width="34.3" height="11.0" fill="#14ad3d" stroke="#000" stroke-width="3"/>
<rect x="796.3" y="1769.4" width="34.3" height="11.0" fill="#dc3327" stroke="#000" stroke-width="3"/>
<rect x="553.8" y="1769.4" width="360.4" height="11.0" fill="none" stroke="#000" stroke-width="3"/>
<rect x="579.1" y="1787.4" width="360.4" height="11.0" fill="#f7e8d5" stroke="none" stroke-width="0"/>
<rect x="613.6" y="1787.4" width="34.3" height="11.0" fill="#14ad3d" stroke="#000" stroke-width="3"/>
<rect x="796.3" y="1787.4" width="34.3" height="11.0" fill="#dc3327" stroke="#000" stroke-width="3"/>
<rect x="579.1" y="1787.4" width="360.4" height="11.0" fill="none" stroke="#000" stroke-width="3"/>
<rect x="530.8" y="1806.5" width="360.7" height="11.0" fill="#f7e8d5" stroke="none" stroke-width="0"/>
<rect x="613.6" y="1806.5" width="34.3" height="11.0" fill="#14ad3d" stroke="#000" stroke-width="3"/>
<rect x="796.3" y="1806.5" width="34.3" height="11.0" fill="#dc3327" stroke="#000" stroke-width="3"/>
<rect x="530.8" y="1806.5" width="360.7" height="11.0" fill="none" stroke="#000" stroke-width="3"/>
<rect x="565.6" y="1825.6" width="360.4" height="10.8" fill="#f7e6ec" stroke="none" stroke-width="0"/>
<rect x="613.6" y="1825.6" width="34.3" height="10.8" fill="#14ad3d" stroke="#000" stroke-width="3"/>
<rect x="796.3" y="1825.6" width="34.3" height="10.8" fill="#dc3327" stroke="#000" stroke-width="3"/>
<rect x="565.6" y="1825.6" width="360.4" height="10.8" fill="none" stroke="#000" stroke-width="3"/>
<rect x="601.0" y="1844.4" width="361.0" height="11.1" fill="#f7e6ec" stroke="none" stroke-width="0"/>
<rect x="613.6" y="1844.4" width="34.3" height="11.1" fill="#14ad3d" stroke="#000" stroke-width="3"/>
<rect x="796.3" y="1844.4" width="34.3" height="11.1" fill="#dc3327" stroke="#000" stroke-width="3"/>
<rect x="601.0" y="1844.4" width="361.0" height="11.1" fill="none" stroke="#000" stroke-width="3"/>
<rect x="587.0" y="1863.5" width="360.1" height="10.8" fill="#f7e8d5" stroke="none" stroke-width="0"/>
<rect x="587.0" y="1863.5" width="360.1" height="10.8" fill="none" stroke="#000" stroke-width="3"/>
<rect x="536.1" y="1881.8" width="360.4" height="11.0" fill="#f7e8d5" stroke="none" stroke-width="0"/>
<rect x="536.1" y="1881.8" width="360.4" height="11.0" fill="none" stroke="#000" stroke-width="3"/>
<rect x="584.7" y="1899.2" width="360.4" height="11.1" fill="#f7e6ec" stroke="none" stroke-width="0"/>
<rect x="584.7" y="1899.2" width="360.4" height="11.1" fill="none" stroke="#000" stroke-width="3"/>
<rect x="571.2" y="1916.1" width="360.5" height="11.0" fill="#f7e6ec" stroke="none" stroke-width="0"/>
<rect x="571.2" y="1916.1" width="360.5" height="11.0" fill="none" stroke="#000" stroke-width="3"/>
<rect x="534.1" y="1932.1" width="361.0" height="11.1" fill="#f7e6ec" stroke="none" stroke-width="0"/>
<rect x="534.1" y="1932.1" width="361.0" height="11.1" fill="none" stroke="#000" stroke-width="3"/>
<rect x="1069.3" y="1771.3" width="360.1" height="10.5" fill="#f7e8d5" stroke="none" stroke-width="0"/>
<rect x="1128.2" y="1771.3" width="34.6" height="10.5" fill="#14ad3d" stroke="#000" stroke-width="3"/>
<rect x="1311.5" y="1771.3" width="34.5" height="10.5" fill="#9b4fc4" stroke="#000" stroke-width="3"/>
<rect x="1069.3" y="1771.3" width="360.1" height="10.5" fill="none" stroke="#000" stroke-width="3"/>
<rect x="1034.1" y="1790.2" width="360.4" height="10.5" fill="#f7e8d5" stroke="none" stroke-width="0"/>
<rect x="1128.2" y="1790.2" width="34.6" height="10.5" fill="#14ad3d" stroke="#000" stroke-width="3"/>
<rect x="1311.5" y="1790.2" width="34.5" height="10.5" fill="#9b4fc4" stroke="#000" stroke-width="3"/>
<rect x="1034.1" y="1790.2" width="360.4" height="10.5" fill="none" stroke="#000" stroke-width="3"/>
<rect x="1092.6" y="1808.7" width="360.1" height="10.2" fill="#f7e8d5" stroke="none" stroke-width="0"/>
<rect x="1128.2" y="1808.7" width="34.6" height="10.2" fill="#14ad3d" stroke="#000" stroke-width="3"/>
<rect x="1311.5" y="1808.7" width="34.5" height="10.2" fill="#9b4fc4" stroke="#000" stroke-width="3"/>
<rect x="1092.6" y="1808.7" width="360.1" height="10.2" fill="none" stroke="#000" stroke-width="3"/>
<rect x="1076.3" y="1829.5" width="359.6" height="10.5" fill="#f7e6ec" stroke="none" stroke-width="0"/>
<rect x="1128.2" y="1829.5" width="34.6" height="10.5" fill="#14ad3d" stroke="#000" stroke-width="3"/>
<rect x="1076.3" y="1829.5" width="359.6" height="10.5" fill="none" stroke="#000" stroke-width="3"/>
<rect x="1054.4" y="1850.0" width="360.4" height="10.2" fill="#f7e6ec" stroke="none" stroke-width="0"/>
<rect x="1128.2" y="1850.0" width="34.6" height="10.2" fill="#14ad3d" stroke="#000" stroke-width="3"/>
<rect x="1054.4" y="1850.0" width="360.4" height="10.2" fill="none" stroke="#000" stroke-width="3"/>
<rect x="1055.2" y="1872.5" width="360.2" height="10.5" fill="#f7e8d5" stroke="none" stroke-width="0"/>
<rect x="1055.2" y="1872.5" width="360.2" height="10.5" fill="none" stroke="#000" stroke-width="3"/>
<rect x="1085.6" y="1890.2" width="360.1" height="10.8" fill="#f7e8d5" stroke="none" stroke-width="0"/>
<rect x="1085.6" y="1890.2" width="360.1" height="10.8" fill="none" stroke="#000" stroke-width="3"/>
<rect x="1111.4" y="1908.2" width="360.2" height="11.1" fill="#f7e6ec" stroke="none" stroke-width="0"/>
<rect x="1111.4" y="1908.2" width="360.2" height="11.1" fill="none" stroke="#000" stroke-width="3"/>
<rect x="1038.9" y="1925.1" width="360.4" height="11.0" fill="#f7e6ec" stroke="none" stroke-width="0"/>
<rect x="1038.9" y="1925.1" width="360.4" height="11.0" fill="none" stroke="#000" stroke-width="3"/>
<rect x="1552.7" y="1771.6" width="360.3" height="10.6" fill="#f7e8d5" stroke="none" stroke-width="0"/>
<rect x="1612.2" y="1771.6" width="34.8" height="10.6" fill="#14ad3d" stroke="#000" stroke-width="3"/>
<rect x="1795.0" y="1771.6" width="34.2" height="10.6" fill="#9b4fc4" stroke="#000" stroke-width="3"/>
<rect x="1552.7" y="1771.6" width="360.3" height="10.6" fill="none" stroke="#000" stroke-width="3"/>
<rect x="1518.0" y="1790.4" width="360.0" height="10.3" fill="#f7e8d5" stroke="none" stroke-width="0"/>
<rect x="1612.2" y="1790.4" width="34.8" height="10.3" fill="#14ad3d" stroke="#000" stroke-width="3"/>
<rect x="1795.0" y="1790.4" width="34.2" height="10.3" fill="#9b4fc4" stroke="#000" stroke-width="3"/>
<rect x="1518.0" y="1790.4" width="360.0" height="10.3" fill="none" stroke="#000" stroke-width="3"/>
<rect x="1576.1" y="1808.7" width="360.1" height="10.5" fill="#f7e8d5" stroke="none" stroke-width="0"/>
<rect x="1612.2" y="1808.7" width="34.8" height="10.5" fill="#14ad3d" stroke="#000" stroke-width="3"/>
<rect x="1795.0" y="1808.7" width="34.2" height="10.5" fill="#9b4fc4" stroke="#000" stroke-width="3"/>
<rect x="1576.1" y="1808.7" width="360.1" height="10.5" fill="none" stroke="#000" stroke-width="3"/>
<rect x="1538.5" y="1872.9" width="360.6" height="10.6" fill="#f7e8d5" stroke="none" stroke-width="0"/>
<rect x="1538.5" y="1872.9" width="360.6" height="10.6" fill="none" stroke="#000" stroke-width="3"/>
<rect x="1569.5" y="1890.8" width="360.0" height="10.6" fill="#f7e8d5" stroke="none" stroke-width="0"/>
<rect x="1569.5" y="1890.8" width="360.0" height="10.6" fill="none" stroke="#000" stroke-width="3"/>
<rect x="1594.1" y="1908.2" width="360.9" height="10.8" fill="#f7e6ec" stroke="none" stroke-width="0"/>
<rect x="1594.1" y="1908.2" width="360.9" height="10.8" fill="none" stroke="#000" stroke-width="3"/>
<rect x="1521.7" y="1925.5" width="360.9" height="10.3" fill="#f7e6ec" stroke="none" stroke-width="0"/>
<rect x="1521.7" y="1925.5" width="360.9" height="10.3" fill="none" stroke="#000" stroke-width="3"/>
<text x="1740.2" y="1859.8" font-size="26.5" fill="#000" text-anchor="middle" textLength="177.0" lengthAdjust="spacingAndGlyphs">Strand dropout</text>
<rect x="650.8" y="1959.6" width="1178.2" height="56" rx="10" fill="#fff" stroke="#000" stroke-width="4.2"/>
<rect x="669.0" y="1983.7" width="33.3" height="16.7" fill="#14ad3d" stroke="#000" stroke-width="2.8"/>
<text x="714.8" y="2001.2" font-size="26.3" fill="#000" textLength="334.0" lengthAdjust="spacingAndGlyphs">Heterozygous germline SNP</text>
<rect x="1110.2" y="1983.7" width="33.0" height="16.7" fill="#dc3327" stroke="#000" stroke-width="2.8"/>
<text x="1157.7" y="2001.2" font-size="26.3" fill="#000" textLength="158.0" lengthAdjust="spacingAndGlyphs">Somatic SNV</text>
<rect x="1367.6" y="1986.0" width="32.6" height="15.0" fill="#9b4fc4" stroke="#000" stroke-width="2.8"/>
<circle cx="1384.3" cy="1971.3" r="8" fill="url(#glow)"/>
<line x1="1384.3" y1="1985.0" x2="1384.3" y2="1975.5" stroke="#000" stroke-width="1.8"/>
<text x="1416.4" y="2000.9" font-size="26.3" fill="#000" textLength="399.0" lengthAdjust="spacingAndGlyphs">Single strand DNA damage lesion</text>
<text x="0.0" y="2114.1" font-size="50" fill="#000" font-weight="bold">g</text>
<text x="1026.0" y="2137.0" font-size="42" fill="#000" text-anchor="middle" font-weight="bold" textLength="975.0" lengthAdjust="spacingAndGlyphs">Pipeline for Single Cell Artefact Minimization</text>
<rect x="38.8" y="2140.9" width="459.9" height="165.3" rx="28.5" fill="#fff" stroke="#000" stroke-width="7.2"/>
<text x="272.5" y="2188.0" font-size="39.4" fill="#000" text-anchor="middle" font-weight="bold" textLength="416.0" lengthAdjust="spacingAndGlyphs">Phased somatic SNVs</text>
<text x="272.2" y="2236.8" font-size="39.4" fill="#000" text-anchor="middle" font-weight="bold" textLength="381.0" lengthAdjust="spacingAndGlyphs">from single neurons</text>
<text x="272.5" y="2284.6" font-size="39.4" fill="#000" text-anchor="middle" font-weight="bold" textLength="252.0" lengthAdjust="spacingAndGlyphs">(LiRA output)</text>
<line x1="564.1" y1="2201.3" x2="1466.0" y2="2201.3" stroke="#000" stroke-width="6.6"/>
<path d="M1463.8 2191.3 L1497.8 2201.2 L1463.8 2211.1 Z" fill="#000"/>
<path d="M604.6 2201.2 C621.6 2206.2 640.4 2246.2 642.9 2302.4" fill="none" stroke="#000" stroke-width="5.8"/>
<path d="M633.4 2300.9 L652.4 2300.9 L642.9 2319.4 Z" fill="#000"/>
<path d="M996.8 2201.2 C1013.8 2206.2 1032.9 2246.2 1035.4 2302.4" fill="none" stroke="#000" stroke-width="5.8"/>
<path d="M1025.9 2300.9 L1044.9 2300.9 L1035.4 2319.4 Z" fill="#000"/>
<path d="M1406.8 2201.2 C1423.8 2206.2 1441.4 2246.2 1443.9 2301.2" fill="none" stroke="#000" stroke-width="5.8"/>
<path d="M1434.4 2299.7 L1453.4 2299.7 L1443.9 2318.2 Z" fill="#000"/>
<text x="611.0" y="2277.0" font-size="34" fill="#000" text-anchor="middle" font-weight="bold">1</text>
<text x="999.5" y="2277.0" font-size="34" fill="#000" text-anchor="middle" font-weight="bold">2</text>
<text x="1402.5" y="2277.9" font-size="34" fill="#000" text-anchor="middle" font-weight="bold">3</text>
<rect x="1580.6" y="2140.0" width="392.2" height="165.1" rx="24.5" fill="#fcf2d4" stroke="#000" stroke-width="4.9"/>
<text x="1777.8" y="2185.7" font-size="39.4" fill="#000" text-anchor="middle" font-weight="bold" textLength="305.0" lengthAdjust="spacingAndGlyphs">Filtered somatic</text>
<text x="1777.8" y="2234.4" font-size="39.4" fill="#000" text-anchor="middle" font-weight="bold" textLength="327.0" lengthAdjust="spacingAndGlyphs">SNVs from single</text>
<text x="1777.8" y="2281.5" font-size="39.4" fill="#000" text-anchor="middle" font-weight="bold" textLength="155.0" lengthAdjust="spacingAndGlyphs">neurons</text>
<rect x="345.3" y="2338.0" width="447.7" height="175.6" rx="27.5" fill="#e8eefa" stroke="#000" stroke-width="4.9"/>
<text x="567.1" y="2378.7" font-size="33.2" fill="#000" text-anchor="middle" font-weight="bold">Single neurons with</text>
<text x="567.1" y="2419.8" font-size="33.2" fill="#000" text-anchor="middle" font-weight="bold">insufficiently even</text>
<text x="567.1" y="2457.8" font-size="33.2" fill="#000" text-anchor="middle" font-weight="bold">genome amplification</text>
<text x="567.1" y="2498.7" font-size="33.2" fill="#000" text-anchor="middle" font-weight="bold">(MAPD &gt; 2.0)</text>
<rect x="848.9" y="2338.0" width="447.7" height="175.6" rx="27.5" fill="#e8eefa" stroke="#000" stroke-width="4.9"/>
<text x="1070.6" y="2378.7" font-size="33.2" fill="#000" text-anchor="middle" font-weight="bold">Single neurons bearing</text>
<text x="1070.6" y="2419.8" font-size="33.2" fill="#000" text-anchor="middle" font-weight="bold">substantial signature of</text>
<text x="1070.6" y="2457.8" font-size="33.2" fill="#000" text-anchor="middle" font-weight="bold">potential amplification</text>
<text x="1070.6" y="2498.7" font-size="33.2" fill="#000" text-anchor="middle" font-weight="bold">artefact (SBS scE)</text>
<rect x="1351.9" y="2338.0" width="447.7" height="175.6" rx="27.5" fill="#e8eefa" stroke="#000" stroke-width="4.9"/>
<text x="1573.6" y="2378.7" font-size="33.2" fill="#000" text-anchor="middle" font-weight="bold">Somatic SNV contribution</text>
<text x="1573.6" y="2419.8" font-size="33.2" fill="#000" text-anchor="middle" font-weight="bold">with signature of potential</text>
<text x="1573.6" y="2457.8" font-size="33.2" fill="#000" text-anchor="middle" font-weight="bold">amplification artefact</text>
<text x="1573.6" y="2498.7" font-size="33.2" fill="#000" text-anchor="middle" font-weight="bold">(SBS scE, SBS scF)</text>
</svg>
</body></html>
